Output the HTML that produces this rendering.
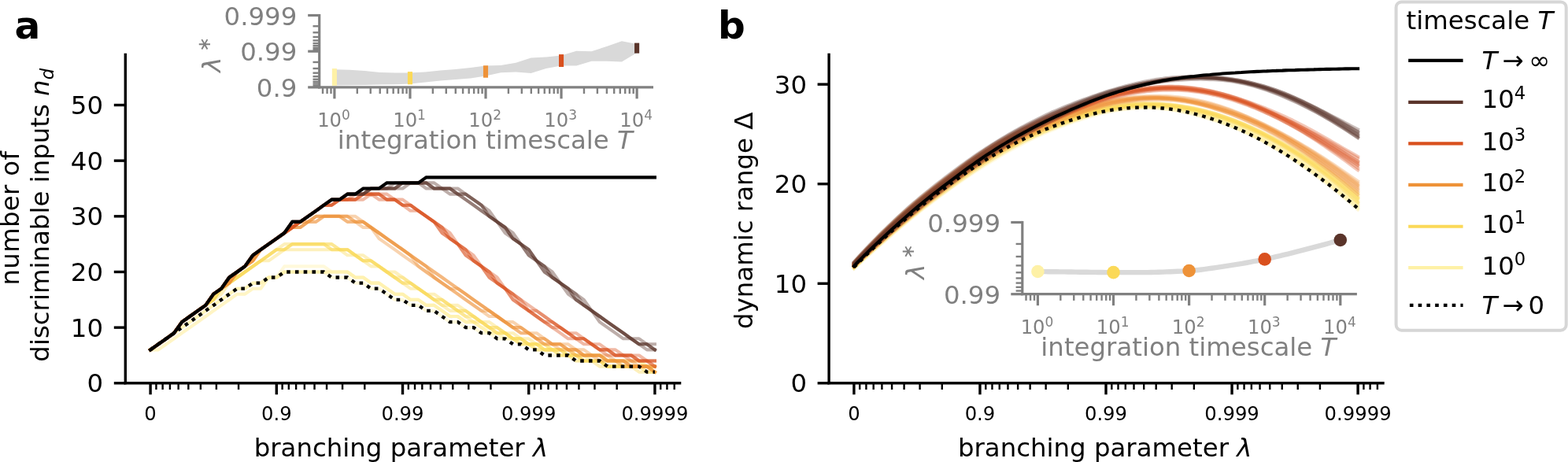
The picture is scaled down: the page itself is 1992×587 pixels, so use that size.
<!DOCTYPE html>
<html lang="en"><head><meta charset="utf-8"><title>figure</title>
<style>html,body{margin:0;padding:0;background:#fff;}body{width:1992px;height:587px;overflow:hidden;}svg{display:block;}</style>
</head><body>
<svg width="1992" height="587" viewBox="0 0 1992 587" font-family='"DejaVu Sans","Liberation Sans",sans-serif'>
<rect width="1992" height="587" fill="#fff"/>
<polyline points="191.1,444.4 201.1,444.4 211.1,437.3 221.1,430.3 231.1,423.2 241.2,416.1 251.2,409.1 261.2,402.0 271.2,394.9 281.2,387.9 291.2,380.8 301.2,373.7 311.2,373.7 321.3,366.7 331.3,366.7 341.3,352.5 351.3,352.5 361.3,345.5 371.3,345.5 381.3,345.5 391.4,345.5 401.4,345.5 411.4,345.5 421.4,352.5 431.4,352.5 441.4,352.5 451.4,359.6 461.4,359.6 471.4,366.7 481.5,366.7 491.5,373.7 501.5,380.8 511.5,380.8 521.5,387.9 531.5,387.9 541.5,394.9 551.5,394.9 561.6,402.0 571.6,409.1 581.6,409.1 591.6,416.1 601.6,416.1 611.6,423.2 621.6,423.2 631.6,430.3 641.7,430.3 651.7,430.3 661.7,437.3 671.7,437.3 681.7,444.4 691.7,444.4 701.7,451.5 711.8,451.5 721.8,451.5 731.8,458.5 741.8,458.5 751.8,458.5 761.8,458.5 771.8,465.6 781.8,465.6 791.9,465.6 801.9,465.6 811.9,465.6 821.9,472.7 831.9,472.7" fill="none" stroke="#FEF1A6" stroke-width="4.06" stroke-linecap="square" stroke-linejoin="round" stroke-opacity="0.4"/>
<polyline points="191.1,444.4 201.1,444.4 211.1,437.3 221.1,430.3 231.1,423.2 241.2,416.1 251.2,409.1 261.2,402.0 271.2,394.9 281.2,387.9 291.2,380.8 301.2,373.7 311.2,373.7 321.3,366.7 331.3,366.7 341.3,352.5 351.3,352.5 361.3,345.5 371.3,345.5 381.3,345.5 391.4,345.5 401.4,345.5 411.4,345.5 421.4,345.5 431.4,345.5 441.4,345.5 451.4,352.5 461.4,352.5 471.4,359.6 481.5,359.6 491.5,366.7 501.5,373.7 511.5,373.7 521.5,380.8 531.5,380.8 541.5,387.9 551.5,387.9 561.6,394.9 571.6,402.0 581.6,402.0 591.6,409.1 601.6,409.1 611.6,416.1 621.6,423.2 631.6,423.2 641.7,430.3 651.7,430.3 661.7,437.3 671.7,437.3 681.7,444.4 691.7,444.4 701.7,444.4 711.8,444.4 721.8,444.4 731.8,451.5 741.8,451.5 751.8,451.5 761.8,451.5 771.8,458.5 781.8,458.5 791.9,458.5 801.9,458.5 811.9,458.5 821.9,465.6 831.9,465.6" fill="none" stroke="#FEF1A6" stroke-width="4.06" stroke-linecap="square" stroke-linejoin="round" stroke-opacity="0.4"/>
<polyline points="191.1,444.4 201.1,437.3 211.1,430.3 221.1,423.2 231.1,416.1 241.2,409.1 251.2,402.0 261.2,394.9 271.2,387.9 281.2,380.8 291.2,373.7 301.2,366.7 311.2,366.7 321.3,359.6 331.3,359.6 341.3,352.5 351.3,352.5 361.3,345.5 371.3,345.5 381.3,345.5 391.4,345.5 401.4,345.5 411.4,345.5 421.4,345.5 431.4,345.5 441.4,345.5 451.4,352.5 461.4,352.5 471.4,359.6 481.5,359.6 491.5,366.7 501.5,373.7 511.5,373.7 521.5,380.8 531.5,380.8 541.5,387.9 551.5,387.9 561.6,394.9 571.6,402.0 581.6,402.0 591.6,409.1 601.6,409.1 611.6,416.1 621.6,423.2 631.6,423.2 641.7,430.3 651.7,430.3 661.7,437.3 671.7,437.3 681.7,437.3 691.7,444.4 701.7,444.4 711.8,444.4 721.8,444.4 731.8,451.5 741.8,451.5 751.8,451.5 761.8,451.5 771.8,458.5 781.8,458.5 791.9,458.5 801.9,458.5 811.9,458.5 821.9,465.6 831.9,465.6" fill="none" stroke="#FEF1A6" stroke-width="4.06" stroke-linecap="square" stroke-linejoin="round" stroke-opacity="0.4"/>
<polyline points="191.1,444.4 201.1,437.3 211.1,430.3 221.1,423.2 231.1,416.1 241.2,409.1 251.2,402.0 261.2,394.9 271.2,387.9 281.2,380.8 291.2,373.7 301.2,366.7 311.2,366.7 321.3,359.6 331.3,359.6 341.3,352.5 351.3,352.5 361.3,345.5 371.3,345.5 381.3,345.5 391.4,345.5 401.4,345.5 411.4,345.5 421.4,345.5 431.4,345.5 441.4,345.5 451.4,352.5 461.4,352.5 471.4,359.6 481.5,359.6 491.5,366.7 501.5,373.7 511.5,373.7 521.5,380.8 531.5,380.8 541.5,387.9 551.5,387.9 561.6,394.9 571.6,402.0 581.6,402.0 591.6,409.1 601.6,409.1 611.6,416.1 621.6,423.2 631.6,423.2 641.7,423.2 651.7,430.3 661.7,430.3 671.7,437.3 681.7,437.3 691.7,444.4 701.7,444.4 711.8,444.4 721.8,444.4 731.8,451.5 741.8,451.5 751.8,451.5 761.8,451.5 771.8,458.5 781.8,458.5 791.9,458.5 801.9,458.5 811.9,458.5 821.9,465.6 831.9,465.6" fill="none" stroke="#FEF1A6" stroke-width="4.06" stroke-linecap="square" stroke-linejoin="round" stroke-opacity="0.4"/>
<polyline points="191.1,444.4 201.1,437.3 211.1,430.3 221.1,423.2 231.1,416.1 241.2,409.1 251.2,402.0 261.2,394.9 271.2,387.9 281.2,380.8 291.2,373.7 301.2,366.7 311.2,366.7 321.3,359.6 331.3,359.6 341.3,352.5 351.3,352.5 361.3,338.4 371.3,338.4 381.3,338.4 391.4,338.4 401.4,338.4 411.4,338.4 421.4,345.5 431.4,345.5 441.4,345.5 451.4,352.5 461.4,352.5 471.4,359.6 481.5,359.6 491.5,366.7 501.5,373.7 511.5,373.7 521.5,380.8 531.5,380.8 541.5,387.9 551.5,387.9 561.6,394.9 571.6,402.0 581.6,402.0 591.6,409.1 601.6,409.1 611.6,416.1 621.6,416.1 631.6,423.2 641.7,423.2 651.7,430.3 661.7,430.3 671.7,437.3 681.7,437.3 691.7,444.4 701.7,444.4 711.8,444.4 721.8,444.4 731.8,451.5 741.8,451.5 751.8,451.5 761.8,451.5 771.8,458.5 781.8,458.5 791.9,458.5 801.9,458.5 811.9,458.5 821.9,465.6 831.9,465.6" fill="none" stroke="#FEF1A6" stroke-width="4.06" stroke-linecap="square" stroke-linejoin="round" stroke-opacity="0.4"/>
<polyline points="191.1,444.4 201.1,437.3 211.1,430.3 221.1,423.2 231.1,409.1 241.2,402.0 251.2,394.9 261.2,387.9 271.2,380.8 281.2,373.7 291.2,359.6 301.2,352.5 311.2,345.5 321.3,338.4 331.3,331.3 341.3,331.3 351.3,324.3 361.3,317.2 371.3,317.2 381.3,317.2 391.4,317.2 401.4,317.2 411.4,317.2 421.4,317.2 431.4,317.2 441.4,324.3 451.4,324.3 461.4,331.3 471.4,338.4 481.5,338.4 491.5,345.5 501.5,352.5 511.5,359.6 521.5,366.7 531.5,366.7 541.5,373.7 551.5,380.8 561.6,387.9 571.6,394.9 581.6,394.9 591.6,402.0 601.6,409.1 611.6,409.1 621.6,416.1 631.6,423.2 641.7,423.2 651.7,430.3 661.7,437.3 671.7,437.3 681.7,444.4 691.7,444.4 701.7,444.4 711.8,451.5 721.8,451.5 731.8,458.5 741.8,458.5 751.8,458.5 761.8,465.6 771.8,465.6 781.8,465.6 791.9,465.6 801.9,465.6 811.9,472.7 821.9,472.7 831.9,472.7" fill="none" stroke="#FBD958" stroke-width="4.06" stroke-linecap="square" stroke-linejoin="round" stroke-opacity="0.4"/>
<polyline points="191.1,444.4 201.1,437.3 211.1,430.3 221.1,423.2 231.1,409.1 241.2,402.0 251.2,394.9 261.2,387.9 271.2,380.8 281.2,366.7 291.2,359.6 301.2,352.5 311.2,345.5 321.3,338.4 331.3,331.3 341.3,324.3 351.3,317.2 361.3,317.2 371.3,310.1 381.3,310.1 391.4,310.1 401.4,310.1 411.4,310.1 421.4,317.2 431.4,317.2 441.4,317.2 451.4,324.3 461.4,331.3 471.4,331.3 481.5,338.4 491.5,345.5 501.5,352.5 511.5,359.6 521.5,359.6 531.5,366.7 541.5,373.7 551.5,380.8 561.6,387.9 571.6,387.9 581.6,394.9 591.6,402.0 601.6,402.0 611.6,409.1 621.6,416.1 631.6,423.2 641.7,423.2 651.7,430.3 661.7,430.3 671.7,437.3 681.7,437.3 691.7,444.4 701.7,444.4 711.8,451.5 721.8,451.5 731.8,451.5 741.8,458.5 751.8,458.5 761.8,458.5 771.8,465.6 781.8,465.6 791.9,465.6 801.9,465.6 811.9,465.6 821.9,472.7 831.9,472.7" fill="none" stroke="#FBD958" stroke-width="4.06" stroke-linecap="square" stroke-linejoin="round" stroke-opacity="0.4"/>
<polyline points="191.1,444.4 201.1,437.3 211.1,430.3 221.1,423.2 231.1,409.1 241.2,402.0 251.2,394.9 261.2,387.9 271.2,380.8 281.2,366.7 291.2,359.6 301.2,352.5 311.2,345.5 321.3,338.4 331.3,331.3 341.3,324.3 351.3,317.2 361.3,317.2 371.3,310.1 381.3,310.1 391.4,310.1 401.4,310.1 411.4,310.1 421.4,317.2 431.4,317.2 441.4,317.2 451.4,324.3 461.4,331.3 471.4,331.3 481.5,338.4 491.5,345.5 501.5,352.5 511.5,359.6 521.5,359.6 531.5,366.7 541.5,373.7 551.5,380.8 561.6,380.8 571.6,387.9 581.6,394.9 591.6,394.9 601.6,402.0 611.6,409.1 621.6,416.1 631.6,416.1 641.7,423.2 651.7,430.3 661.7,430.3 671.7,437.3 681.7,437.3 691.7,444.4 701.7,444.4 711.8,444.4 721.8,451.5 731.8,451.5 741.8,458.5 751.8,458.5 761.8,458.5 771.8,465.6 781.8,465.6 791.9,465.6 801.9,465.6 811.9,465.6 821.9,465.6 831.9,472.7" fill="none" stroke="#FBD958" stroke-width="4.06" stroke-linecap="square" stroke-linejoin="round" stroke-opacity="0.4"/>
<polyline points="191.1,444.4 201.1,437.3 211.1,430.3 221.1,423.2 231.1,409.1 241.2,402.0 251.2,394.9 261.2,387.9 271.2,380.8 281.2,366.7 291.2,359.6 301.2,352.5 311.2,345.5 321.3,338.4 331.3,331.3 341.3,324.3 351.3,317.2 361.3,317.2 371.3,310.1 381.3,310.1 391.4,310.1 401.4,310.1 411.4,310.1 421.4,310.1 431.4,317.2 441.4,317.2 451.4,324.3 461.4,331.3 471.4,331.3 481.5,338.4 491.5,345.5 501.5,352.5 511.5,352.5 521.5,359.6 531.5,366.7 541.5,373.7 551.5,380.8 561.6,380.8 571.6,387.9 581.6,394.9 591.6,394.9 601.6,402.0 611.6,409.1 621.6,416.1 631.6,416.1 641.7,423.2 651.7,430.3 661.7,430.3 671.7,437.3 681.7,437.3 691.7,437.3 701.7,444.4 711.8,444.4 721.8,451.5 731.8,451.5 741.8,458.5 751.8,458.5 761.8,458.5 771.8,465.6 781.8,465.6 791.9,465.6 801.9,465.6 811.9,465.6 821.9,465.6 831.9,472.7" fill="none" stroke="#FBD958" stroke-width="4.06" stroke-linecap="square" stroke-linejoin="round" stroke-opacity="0.4"/>
<polyline points="191.1,444.4 201.1,437.3 211.1,430.3 221.1,423.2 231.1,409.1 241.2,402.0 251.2,394.9 261.2,387.9 271.2,380.8 281.2,366.7 291.2,359.6 301.2,352.5 311.2,345.5 321.3,338.4 331.3,331.3 341.3,324.3 351.3,317.2 361.3,310.1 371.3,310.1 381.3,310.1 391.4,310.1 401.4,310.1 411.4,310.1 421.4,310.1 431.4,317.2 441.4,317.2 451.4,324.3 461.4,324.3 471.4,331.3 481.5,338.4 491.5,345.5 501.5,345.5 511.5,352.5 521.5,359.6 531.5,366.7 541.5,373.7 551.5,373.7 561.6,380.8 571.6,387.9 581.6,387.9 591.6,394.9 601.6,402.0 611.6,409.1 621.6,409.1 631.6,416.1 641.7,423.2 651.7,423.2 661.7,430.3 671.7,430.3 681.7,437.3 691.7,437.3 701.7,444.4 711.8,444.4 721.8,451.5 731.8,451.5 741.8,451.5 751.8,458.5 761.8,458.5 771.8,458.5 781.8,458.5 791.9,465.6 801.9,465.6 811.9,465.6 821.9,465.6 831.9,465.6" fill="none" stroke="#FBD958" stroke-width="4.06" stroke-linecap="square" stroke-linejoin="round" stroke-opacity="0.4"/>
<polyline points="191.1,444.4 201.1,437.3 211.1,430.3 221.1,423.2 231.1,409.1 241.2,402.0 251.2,394.9 261.2,387.9 271.2,373.7 281.2,366.7 291.2,359.6 301.2,345.5 311.2,338.4 321.3,331.3 331.3,317.2 341.3,310.1 351.3,303.1 361.3,296.0 371.3,289.0 381.3,289.0 391.4,281.9 401.4,281.9 411.4,274.8 421.4,274.8 431.4,274.8 441.4,281.9 451.4,281.9 461.4,289.0 471.4,289.0 481.5,303.1 491.5,310.1 501.5,317.2 511.5,324.3 521.5,331.3 531.5,338.4 541.5,345.5 551.5,352.5 561.6,359.6 571.6,366.7 581.6,373.7 591.6,380.8 601.6,387.9 611.6,394.9 621.6,402.0 631.6,402.0 641.7,409.1 651.7,416.1 661.7,423.2 671.7,423.2 681.7,430.3 691.7,437.3 701.7,437.3 711.8,444.4 721.8,444.4 731.8,451.5 741.8,451.5 751.8,451.5 761.8,458.5 771.8,458.5 781.8,458.5 791.9,465.6 801.9,465.6 811.9,465.6 821.9,465.6 831.9,472.7" fill="none" stroke="#EE9238" stroke-width="4.06" stroke-linecap="square" stroke-linejoin="round" stroke-opacity="0.4"/>
<polyline points="191.1,444.4 201.1,437.3 211.1,430.3 221.1,423.2 231.1,409.1 241.2,402.0 251.2,394.9 261.2,387.9 271.2,373.7 281.2,366.7 291.2,359.6 301.2,345.5 311.2,338.4 321.3,331.3 331.3,317.2 341.3,310.1 351.3,303.1 361.3,296.0 371.3,289.0 381.3,289.0 391.4,281.9 401.4,281.9 411.4,274.8 421.4,274.8 431.4,274.8 441.4,281.9 451.4,281.9 461.4,281.9 471.4,289.0 481.5,296.0 491.5,303.1 501.5,310.1 511.5,317.2 521.5,324.3 531.5,338.4 541.5,345.5 551.5,352.5 561.6,359.6 571.6,366.7 581.6,373.7 591.6,380.8 601.6,387.9 611.6,394.9 621.6,394.9 631.6,402.0 641.7,409.1 651.7,416.1 661.7,423.2 671.7,423.2 681.7,430.3 691.7,437.3 701.7,437.3 711.8,437.3 721.8,444.4 731.8,444.4 741.8,451.5 751.8,451.5 761.8,451.5 771.8,458.5 781.8,458.5 791.9,458.5 801.9,465.6 811.9,465.6 821.9,465.6 831.9,472.7" fill="none" stroke="#EE9238" stroke-width="4.06" stroke-linecap="square" stroke-linejoin="round" stroke-opacity="0.4"/>
<polyline points="191.1,444.4 201.1,437.3 211.1,430.3 221.1,423.2 231.1,409.1 241.2,402.0 251.2,394.9 261.2,387.9 271.2,373.7 281.2,366.7 291.2,359.6 301.2,345.5 311.2,338.4 321.3,331.3 331.3,317.2 341.3,310.1 351.3,303.1 361.3,296.0 371.3,289.0 381.3,289.0 391.4,281.9 401.4,274.8 411.4,274.8 421.4,274.8 431.4,274.8 441.4,274.8 451.4,281.9 461.4,281.9 471.4,289.0 481.5,296.0 491.5,303.1 501.5,310.1 511.5,317.2 521.5,324.3 531.5,331.3 541.5,338.4 551.5,352.5 561.6,359.6 571.6,366.7 581.6,366.7 591.6,373.7 601.6,380.8 611.6,387.9 621.6,394.9 631.6,402.0 641.7,409.1 651.7,416.1 661.7,416.1 671.7,423.2 681.7,430.3 691.7,430.3 701.7,437.3 711.8,437.3 721.8,444.4 731.8,444.4 741.8,451.5 751.8,451.5 761.8,451.5 771.8,458.5 781.8,458.5 791.9,458.5 801.9,465.6 811.9,465.6 821.9,465.6 831.9,472.7" fill="none" stroke="#EE9238" stroke-width="4.06" stroke-linecap="square" stroke-linejoin="round" stroke-opacity="0.4"/>
<polyline points="191.1,444.4 201.1,437.3 211.1,430.3 221.1,423.2 231.1,409.1 241.2,402.0 251.2,394.9 261.2,387.9 271.2,373.7 281.2,366.7 291.2,359.6 301.2,345.5 311.2,338.4 321.3,331.3 331.3,317.2 341.3,310.1 351.3,303.1 361.3,296.0 371.3,289.0 381.3,281.9 391.4,281.9 401.4,274.8 411.4,274.8 421.4,274.8 431.4,274.8 441.4,274.8 451.4,281.9 461.4,281.9 471.4,289.0 481.5,296.0 491.5,303.1 501.5,310.1 511.5,317.2 521.5,324.3 531.5,331.3 541.5,338.4 551.5,345.5 561.6,352.5 571.6,359.6 581.6,366.7 591.6,373.7 601.6,380.8 611.6,387.9 621.6,394.9 631.6,402.0 641.7,409.1 651.7,416.1 661.7,416.1 671.7,423.2 681.7,430.3 691.7,430.3 701.7,437.3 711.8,437.3 721.8,444.4 731.8,444.4 741.8,451.5 751.8,451.5 761.8,451.5 771.8,458.5 781.8,458.5 791.9,458.5 801.9,465.6 811.9,465.6 821.9,465.6 831.9,465.6" fill="none" stroke="#EE9238" stroke-width="4.06" stroke-linecap="square" stroke-linejoin="round" stroke-opacity="0.4"/>
<polyline points="191.1,444.4 201.1,437.3 211.1,430.3 221.1,423.2 231.1,409.1 241.2,402.0 251.2,394.9 261.2,387.9 271.2,373.7 281.2,366.7 291.2,359.6 301.2,345.5 311.2,338.4 321.3,331.3 331.3,317.2 341.3,310.1 351.3,303.1 361.3,296.0 371.3,289.0 381.3,281.9 391.4,281.9 401.4,274.8 411.4,274.8 421.4,274.8 431.4,274.8 441.4,274.8 451.4,274.8 461.4,281.9 471.4,289.0 481.5,296.0 491.5,303.1 501.5,310.1 511.5,317.2 521.5,324.3 531.5,331.3 541.5,338.4 551.5,345.5 561.6,352.5 571.6,359.6 581.6,366.7 591.6,373.7 601.6,380.8 611.6,387.9 621.6,394.9 631.6,402.0 641.7,409.1 651.7,409.1 661.7,416.1 671.7,423.2 681.7,423.2 691.7,430.3 701.7,437.3 711.8,437.3 721.8,437.3 731.8,444.4 741.8,444.4 751.8,451.5 761.8,451.5 771.8,451.5 781.8,458.5 791.9,458.5 801.9,458.5 811.9,465.6 821.9,465.6 831.9,465.6" fill="none" stroke="#EE9238" stroke-width="4.06" stroke-linecap="square" stroke-linejoin="round" stroke-opacity="0.4"/>
<polyline points="191.1,444.4 201.1,437.3 211.1,430.3 221.1,423.2 231.1,409.1 241.2,402.0 251.2,394.9 261.2,387.9 271.2,373.7 281.2,366.7 291.2,352.5 301.2,345.5 311.2,338.4 321.3,324.3 331.3,317.2 341.3,310.1 351.3,303.1 361.3,296.0 371.3,289.0 381.3,281.9 391.4,274.8 401.4,267.8 411.4,260.7 421.4,260.7 431.4,253.6 441.4,253.6 451.4,253.6 461.4,253.6 471.4,246.6 481.5,253.6 491.5,253.6 501.5,253.6 511.5,260.7 521.5,267.8 531.5,267.8 541.5,274.8 551.5,281.9 561.6,296.0 571.6,303.1 581.6,310.1 591.6,324.3 601.6,331.3 611.6,338.4 621.6,352.5 631.6,359.6 641.7,366.7 651.7,380.8 661.7,387.9 671.7,394.9 681.7,402.0 691.7,409.1 701.7,416.1 711.8,423.2 721.8,430.3 731.8,430.3 741.8,437.3 751.8,437.3 761.8,444.4 771.8,451.5 781.8,451.5 791.9,451.5 801.9,458.5 811.9,458.5 821.9,458.5 831.9,465.6" fill="none" stroke="#D9501E" stroke-width="4.06" stroke-linecap="square" stroke-linejoin="round" stroke-opacity="0.4"/>
<polyline points="191.1,444.4 201.1,437.3 211.1,430.3 221.1,423.2 231.1,409.1 241.2,402.0 251.2,394.9 261.2,387.9 271.2,373.7 281.2,366.7 291.2,352.5 301.2,345.5 311.2,338.4 321.3,324.3 331.3,317.2 341.3,310.1 351.3,303.1 361.3,296.0 371.3,289.0 381.3,281.9 391.4,274.8 401.4,267.8 411.4,260.7 421.4,260.7 431.4,253.6 441.4,253.6 451.4,253.6 461.4,246.6 471.4,246.6 481.5,246.6 491.5,253.6 501.5,253.6 511.5,260.7 521.5,260.7 531.5,267.8 541.5,274.8 551.5,281.9 561.6,296.0 571.6,303.1 581.6,310.1 591.6,324.3 601.6,331.3 611.6,338.4 621.6,352.5 631.6,359.6 641.7,366.7 651.7,380.8 661.7,387.9 671.7,394.9 681.7,402.0 691.7,409.1 701.7,416.1 711.8,416.1 721.8,423.2 731.8,430.3 741.8,430.3 751.8,437.3 761.8,444.4 771.8,444.4 781.8,451.5 791.9,451.5 801.9,451.5 811.9,458.5 821.9,458.5 831.9,465.6" fill="none" stroke="#D9501E" stroke-width="4.06" stroke-linecap="square" stroke-linejoin="round" stroke-opacity="0.4"/>
<polyline points="191.1,444.4 201.1,437.3 211.1,430.3 221.1,423.2 231.1,409.1 241.2,402.0 251.2,394.9 261.2,387.9 271.2,373.7 281.2,366.7 291.2,352.5 301.2,345.5 311.2,338.4 321.3,324.3 331.3,317.2 341.3,310.1 351.3,303.1 361.3,296.0 371.3,289.0 381.3,281.9 391.4,274.8 401.4,267.8 411.4,260.7 421.4,260.7 431.4,253.6 441.4,253.6 451.4,253.6 461.4,246.6 471.4,246.6 481.5,246.6 491.5,253.6 501.5,253.6 511.5,260.7 521.5,260.7 531.5,267.8 541.5,274.8 551.5,281.9 561.6,289.0 571.6,303.1 581.6,310.1 591.6,317.2 601.6,331.3 611.6,338.4 621.6,345.5 631.6,359.6 641.7,366.7 651.7,373.7 661.7,387.9 671.7,394.9 681.7,402.0 691.7,409.1 701.7,409.1 711.8,416.1 721.8,423.2 731.8,430.3 741.8,430.3 751.8,437.3 761.8,444.4 771.8,444.4 781.8,451.5 791.9,451.5 801.9,451.5 811.9,458.5 821.9,458.5 831.9,458.5" fill="none" stroke="#D9501E" stroke-width="4.06" stroke-linecap="square" stroke-linejoin="round" stroke-opacity="0.4"/>
<polyline points="191.1,444.4 201.1,437.3 211.1,430.3 221.1,423.2 231.1,409.1 241.2,402.0 251.2,394.9 261.2,387.9 271.2,373.7 281.2,366.7 291.2,352.5 301.2,345.5 311.2,338.4 321.3,324.3 331.3,317.2 341.3,310.1 351.3,303.1 361.3,296.0 371.3,289.0 381.3,281.9 391.4,274.8 401.4,267.8 411.4,260.7 421.4,260.7 431.4,253.6 441.4,253.6 451.4,253.6 461.4,246.6 471.4,246.6 481.5,246.6 491.5,253.6 501.5,253.6 511.5,260.7 521.5,260.7 531.5,267.8 541.5,274.8 551.5,281.9 561.6,289.0 571.6,303.1 581.6,310.1 591.6,317.2 601.6,331.3 611.6,338.4 621.6,345.5 631.6,359.6 641.7,366.7 651.7,373.7 661.7,380.8 671.7,394.9 681.7,394.9 691.7,402.0 701.7,409.1 711.8,416.1 721.8,423.2 731.8,430.3 741.8,430.3 751.8,437.3 761.8,444.4 771.8,444.4 781.8,451.5 791.9,451.5 801.9,451.5 811.9,458.5 821.9,458.5 831.9,458.5" fill="none" stroke="#D9501E" stroke-width="4.06" stroke-linecap="square" stroke-linejoin="round" stroke-opacity="0.4"/>
<polyline points="191.1,444.4 201.1,437.3 211.1,430.3 221.1,423.2 231.1,409.1 241.2,402.0 251.2,394.9 261.2,387.9 271.2,373.7 281.2,366.7 291.2,352.5 301.2,345.5 311.2,338.4 321.3,324.3 331.3,317.2 341.3,310.1 351.3,303.1 361.3,296.0 371.3,289.0 381.3,281.9 391.4,274.8 401.4,267.8 411.4,260.7 421.4,253.6 431.4,253.6 441.4,253.6 451.4,246.6 461.4,246.6 471.4,246.6 481.5,246.6 491.5,246.6 501.5,253.6 511.5,253.6 521.5,260.7 531.5,267.8 541.5,274.8 551.5,281.9 561.6,289.0 571.6,296.0 581.6,310.1 591.6,317.2 601.6,324.3 611.6,338.4 621.6,345.5 631.6,352.5 641.7,366.7 651.7,373.7 661.7,380.8 671.7,387.9 681.7,394.9 691.7,402.0 701.7,409.1 711.8,416.1 721.8,423.2 731.8,423.2 741.8,430.3 751.8,437.3 761.8,437.3 771.8,444.4 781.8,444.4 791.9,451.5 801.9,451.5 811.9,451.5 821.9,458.5 831.9,458.5" fill="none" stroke="#D9501E" stroke-width="4.06" stroke-linecap="square" stroke-linejoin="round" stroke-opacity="0.4"/>
<polyline points="191.1,444.4 201.1,437.3 211.1,430.3 221.1,423.2 231.1,409.1 241.2,402.0 251.2,394.9 261.2,387.9 271.2,373.7 281.2,366.7 291.2,352.5 301.2,345.5 311.2,338.4 321.3,324.3 331.3,317.2 341.3,310.1 351.3,303.1 361.3,296.0 371.3,281.9 381.3,281.9 391.4,274.8 401.4,267.8 411.4,260.7 421.4,253.6 431.4,253.6 441.4,246.6 451.4,246.6 461.4,246.6 471.4,239.5 481.5,239.5 491.5,239.5 501.5,239.5 511.5,239.5 521.5,232.4 531.5,232.4 541.5,239.5 551.5,239.5 561.6,239.5 571.6,246.6 581.6,246.6 591.6,253.6 601.6,260.7 611.6,267.8 621.6,274.8 631.6,281.9 641.7,296.0 651.7,303.1 661.7,310.1 671.7,324.3 681.7,331.3 691.7,345.5 701.7,352.5 711.8,359.6 721.8,373.7 731.8,380.8 741.8,387.9 751.8,394.9 761.8,409.1 771.8,416.1 781.8,423.2 791.9,430.3 801.9,430.3 811.9,437.3 821.9,444.4 831.9,444.4" fill="none" stroke="#5A342A" stroke-width="4.06" stroke-linecap="square" stroke-linejoin="round" stroke-opacity="0.4"/>
<polyline points="191.1,444.4 201.1,437.3 211.1,430.3 221.1,423.2 231.1,409.1 241.2,402.0 251.2,394.9 261.2,387.9 271.2,373.7 281.2,366.7 291.2,352.5 301.2,345.5 311.2,338.4 321.3,324.3 331.3,317.2 341.3,310.1 351.3,303.1 361.3,296.0 371.3,281.9 381.3,281.9 391.4,274.8 401.4,267.8 411.4,260.7 421.4,253.6 431.4,253.6 441.4,246.6 451.4,246.6 461.4,246.6 471.4,239.5 481.5,239.5 491.5,239.5 501.5,239.5 511.5,232.4 521.5,232.4 531.5,232.4 541.5,232.4 551.5,239.5 561.6,239.5 571.6,239.5 581.6,246.6 591.6,253.6 601.6,260.7 611.6,267.8 621.6,274.8 631.6,281.9 641.7,289.0 651.7,303.1 661.7,310.1 671.7,324.3 681.7,331.3 691.7,345.5 701.7,352.5 711.8,359.6 721.8,366.7 731.8,380.8 741.8,387.9 751.8,394.9 761.8,402.0 771.8,409.1 781.8,416.1 791.9,423.2 801.9,430.3 811.9,437.3 821.9,437.3 831.9,444.4" fill="none" stroke="#5A342A" stroke-width="4.06" stroke-linecap="square" stroke-linejoin="round" stroke-opacity="0.4"/>
<polyline points="191.1,444.4 201.1,437.3 211.1,430.3 221.1,423.2 231.1,409.1 241.2,402.0 251.2,394.9 261.2,387.9 271.2,373.7 281.2,366.7 291.2,352.5 301.2,345.5 311.2,338.4 321.3,324.3 331.3,317.2 341.3,310.1 351.3,303.1 361.3,296.0 371.3,281.9 381.3,281.9 391.4,274.8 401.4,267.8 411.4,260.7 421.4,253.6 431.4,253.6 441.4,246.6 451.4,246.6 461.4,246.6 471.4,239.5 481.5,239.5 491.5,239.5 501.5,239.5 511.5,232.4 521.5,232.4 531.5,232.4 541.5,232.4 551.5,239.5 561.6,239.5 571.6,239.5 581.6,246.6 591.6,246.6 601.6,253.6 611.6,260.7 621.6,274.8 631.6,281.9 641.7,289.0 651.7,303.1 661.7,310.1 671.7,317.2 681.7,331.3 691.7,338.4 701.7,352.5 711.8,359.6 721.8,366.7 731.8,380.8 741.8,387.9 751.8,394.9 761.8,402.0 771.8,409.1 781.8,416.1 791.9,423.2 801.9,430.3 811.9,437.3 821.9,437.3 831.9,444.4" fill="none" stroke="#5A342A" stroke-width="4.06" stroke-linecap="square" stroke-linejoin="round" stroke-opacity="0.4"/>
<polyline points="191.1,444.4 201.1,437.3 211.1,430.3 221.1,423.2 231.1,409.1 241.2,402.0 251.2,394.9 261.2,387.9 271.2,373.7 281.2,366.7 291.2,352.5 301.2,345.5 311.2,338.4 321.3,324.3 331.3,317.2 341.3,310.1 351.3,303.1 361.3,296.0 371.3,281.9 381.3,281.9 391.4,274.8 401.4,267.8 411.4,260.7 421.4,253.6 431.4,253.6 441.4,246.6 451.4,246.6 461.4,246.6 471.4,239.5 481.5,239.5 491.5,239.5 501.5,239.5 511.5,232.4 521.5,232.4 531.5,232.4 541.5,232.4 551.5,239.5 561.6,239.5 571.6,239.5 581.6,246.6 591.6,246.6 601.6,253.6 611.6,260.7 621.6,274.8 631.6,281.9 641.7,289.0 651.7,303.1 661.7,310.1 671.7,317.2 681.7,331.3 691.7,338.4 701.7,352.5 711.8,359.6 721.8,366.7 731.8,373.7 741.8,387.9 751.8,394.9 761.8,402.0 771.8,409.1 781.8,416.1 791.9,423.2 801.9,430.3 811.9,437.3 821.9,437.3 831.9,444.4" fill="none" stroke="#5A342A" stroke-width="4.06" stroke-linecap="square" stroke-linejoin="round" stroke-opacity="0.4"/>
<polyline points="191.1,444.4 201.1,437.3 211.1,430.3 221.1,423.2 231.1,409.1 241.2,402.0 251.2,394.9 261.2,387.9 271.2,373.7 281.2,366.7 291.2,352.5 301.2,345.5 311.2,338.4 321.3,324.3 331.3,317.2 341.3,310.1 351.3,303.1 361.3,296.0 371.3,281.9 381.3,281.9 391.4,274.8 401.4,267.8 411.4,260.7 421.4,253.6 431.4,253.6 441.4,246.6 451.4,246.6 461.4,239.5 471.4,239.5 481.5,239.5 491.5,239.5 501.5,232.4 511.5,232.4 521.5,232.4 531.5,232.4 541.5,232.4 551.5,232.4 561.6,239.5 571.6,239.5 581.6,239.5 591.6,246.6 601.6,253.6 611.6,260.7 621.6,267.8 631.6,281.9 641.7,289.0 651.7,296.0 661.7,310.1 671.7,317.2 681.7,331.3 691.7,338.4 701.7,345.5 711.8,359.6 721.8,366.7 731.8,373.7 741.8,380.8 751.8,394.9 761.8,402.0 771.8,409.1 781.8,416.1 791.9,423.2 801.9,430.3 811.9,430.3 821.9,437.3 831.9,437.3" fill="none" stroke="#5A342A" stroke-width="4.06" stroke-linecap="square" stroke-linejoin="round" stroke-opacity="0.4"/>
<polyline points="191.1,444.4 201.1,437.3 211.1,430.3 221.1,423.2 231.1,409.1 241.2,402.0 251.2,394.9 261.2,387.9 271.2,373.7 281.2,366.7 291.2,352.5 301.2,345.5 311.2,338.4 321.3,324.3 331.3,317.2 341.3,310.1 351.3,303.1 361.3,296.0 371.3,281.9 381.3,281.9 391.4,274.8 401.4,267.8 411.4,260.7 421.4,253.6 431.4,253.6 441.4,246.6 451.4,246.6 461.4,239.5 471.4,239.5 481.5,239.5 491.5,232.4 501.5,232.4 511.5,232.4 521.5,232.4 531.5,232.4 541.5,225.4 551.5,225.4 561.6,225.4 571.6,225.4 581.6,225.4 591.6,225.4 601.6,225.4 611.6,225.4 621.6,225.4 631.6,225.4 641.7,225.4 651.7,225.4 661.7,225.4 671.7,225.4 681.7,225.4 691.7,225.4 701.7,225.4 711.8,225.4 721.8,225.4 731.8,225.4 741.8,225.4 751.8,225.4 761.8,225.4 771.8,225.4 781.8,225.4 791.9,225.4 801.9,225.4 811.9,225.4 821.9,225.4 831.9,225.4" fill="none" stroke="#000" stroke-width="4.06" stroke-linecap="square" stroke-linejoin="miter"/>
<polyline points="191.1,444.4 201.1,437.3 211.1,430.3 221.1,423.2 231.1,416.1 241.2,409.1 251.2,402.0 261.2,394.9 271.2,387.9 281.2,380.8 291.2,373.7 301.2,366.7 311.2,366.7 321.3,359.6 331.3,359.6 341.3,352.5 351.3,352.5 361.3,345.5 371.3,345.5 381.3,345.5 391.4,345.5 401.4,345.5 411.4,345.5 421.4,352.5 431.4,352.5 441.4,352.5 451.4,359.6 461.4,359.6 471.4,366.7 481.5,366.7 491.5,373.7 501.5,380.8 511.5,380.8 521.5,387.9 531.5,387.9 541.5,394.9 551.5,394.9 561.6,402.0 571.6,409.1 581.6,409.1 591.6,416.1 601.6,416.1 611.6,423.2 621.6,423.2 631.6,430.3 641.7,430.3 651.7,437.3 661.7,437.3 671.7,444.4 681.7,444.4 691.7,451.5 701.7,451.5 711.8,451.5 721.8,451.5 731.8,458.5 741.8,458.5 751.8,458.5 761.8,458.5 771.8,465.6 781.8,465.6 791.9,465.6 801.9,465.6 811.9,465.6 821.9,472.7 831.9,472.7" fill="none" stroke="#000" stroke-width="4.3" stroke-linecap="butt" stroke-linejoin="miter" stroke-dasharray="4.6 6.16"/>
<polyline points="1084.9,341.9 1088.9,338.1 1092.9,334.3 1096.9,330.6 1100.9,326.9 1104.9,323.3 1108.9,319.7 1112.9,316.1 1116.9,312.6 1120.9,309.1 1124.9,305.6 1128.9,302.1 1132.9,298.7 1136.9,295.3 1140.9,291.9 1144.9,288.5 1148.9,285.1 1152.9,281.8 1156.9,278.5 1160.9,275.2 1164.9,271.9 1168.9,268.7 1172.9,265.5 1176.9,262.4 1180.9,259.3 1184.9,256.3 1188.9,253.3 1192.9,250.3 1196.9,247.4 1200.9,244.5 1204.9,241.6 1208.9,238.7 1212.9,235.9 1216.9,233.1 1220.9,230.3 1224.9,227.5 1228.9,224.8 1232.9,222.1 1236.9,219.4 1240.9,216.8 1245.0,214.2 1249.0,211.7 1253.0,209.2 1257.0,206.7 1261.0,204.3 1265.0,201.9 1269.0,199.5 1273.0,197.1 1277.0,194.8 1281.0,192.5 1285.0,190.3 1289.0,188.1 1293.0,186.0 1297.0,183.9 1301.0,181.8 1305.0,179.8 1309.0,177.8 1313.0,175.9 1317.0,174.0 1321.0,172.2 1325.0,170.4 1329.0,168.7 1333.0,167.0 1337.0,165.3 1341.0,163.7 1345.0,162.1 1349.0,160.5 1353.0,159.0 1357.0,157.6 1361.0,156.1 1365.0,154.7 1369.0,153.3 1373.0,152.0 1377.0,150.7 1381.0,149.4 1385.0,148.2 1389.0,147.0 1393.0,145.9 1397.0,144.9 1401.0,143.9 1405.0,143.0 1409.0,142.2 1413.0,141.4 1417.0,140.7 1421.0,140.0 1425.0,139.4 1429.0,138.9 1433.0,138.4 1437.0,138.0 1441.0,137.7 1445.0,137.4 1449.0,137.2 1453.0,137.1 1457.0,137.1 1461.0,137.2 1465.0,137.3 1469.0,137.5 1473.0,137.8 1477.0,138.2 1481.0,138.6 1485.0,139.1 1489.0,139.7 1493.0,140.4 1497.0,141.1 1501.0,141.9 1505.0,142.8 1509.0,143.7 1513.0,144.6 1517.0,145.6 1521.0,146.7 1525.0,147.8 1529.0,149.0 1533.0,150.2 1537.0,151.4 1541.0,152.7 1545.0,154.0 1549.0,155.4 1553.0,156.8 1557.0,158.3 1561.0,159.8 1565.1,161.3 1569.1,162.9 1573.1,164.6 1577.1,166.3 1581.1,168.1 1585.1,170.0 1589.1,171.9 1593.1,173.9 1597.1,175.9 1601.1,178.0 1605.1,180.2 1609.1,182.4 1613.1,184.7 1617.1,187.0 1621.1,189.4 1625.1,191.8 1629.1,194.3 1633.1,196.8 1637.1,199.4 1641.1,202.0 1645.1,204.7 1649.1,207.4 1653.1,210.1 1657.1,212.9 1661.1,215.7 1665.1,218.6 1669.1,221.5 1673.1,224.4 1677.1,227.4 1681.1,230.4 1685.1,233.5 1689.1,236.6 1693.1,239.7 1697.1,242.8 1701.1,246.1 1705.1,249.4 1709.1,252.7 1713.1,256.1 1717.1,259.5 1721.1,263.0 1725.1,266.6" fill="none" stroke="#FEF1A6" stroke-width="4.06" stroke-linecap="square" stroke-linejoin="round" stroke-opacity="0.32"/>
<polyline points="1084.9,341.1 1088.9,337.2 1092.9,333.3 1096.9,329.5 1100.9,325.8 1104.9,322.1 1108.9,318.4 1112.9,314.8 1116.9,311.2 1120.9,307.6 1124.9,304.1 1128.9,300.5 1132.9,297.0 1136.9,293.6 1140.9,290.1 1144.9,286.7 1148.9,283.3 1152.9,279.9 1156.9,276.6 1160.9,273.3 1164.9,270.1 1168.9,266.8 1172.9,263.7 1176.9,260.5 1180.9,257.5 1184.9,254.4 1188.9,251.4 1192.9,248.4 1196.9,245.5 1200.9,242.6 1204.9,239.7 1208.9,236.8 1212.9,234.0 1216.9,231.1 1220.9,228.3 1224.9,225.5 1228.9,222.8 1232.9,220.1 1236.9,217.4 1240.9,214.8 1245.0,212.1 1249.0,209.6 1253.0,207.0 1257.0,204.5 1261.0,202.1 1265.0,199.7 1269.0,197.3 1273.0,194.9 1277.0,192.6 1281.0,190.4 1285.0,188.1 1289.0,186.0 1293.0,183.8 1297.0,181.7 1301.0,179.7 1305.0,177.7 1309.0,175.8 1313.0,173.9 1317.0,172.1 1321.0,170.3 1325.0,168.5 1329.0,166.8 1333.0,165.2 1337.0,163.6 1341.0,162.0 1345.0,160.5 1349.0,159.0 1353.0,157.5 1357.0,156.1 1361.0,154.7 1365.0,153.4 1369.0,152.1 1373.0,150.8 1377.0,149.5 1381.0,148.3 1385.0,147.1 1389.0,146.0 1393.0,145.0 1397.0,144.0 1401.0,143.0 1405.0,142.2 1409.0,141.3 1413.0,140.6 1417.0,139.9 1421.0,139.3 1425.0,138.7 1429.0,138.2 1433.0,137.8 1437.0,137.5 1441.0,137.2 1445.0,137.0 1449.0,136.9 1453.0,136.8 1457.0,136.8 1461.0,136.9 1465.0,137.1 1469.0,137.3 1473.0,137.6 1477.0,138.0 1481.0,138.4 1485.0,139.0 1489.0,139.6 1493.0,140.2 1497.0,140.9 1501.0,141.7 1505.0,142.5 1509.0,143.4 1513.0,144.3 1517.0,145.3 1521.0,146.4 1525.0,147.4 1529.0,148.5 1533.0,149.7 1537.0,150.9 1541.0,152.1 1545.0,153.4 1549.0,154.8 1553.0,156.1 1557.0,157.6 1561.0,159.0 1565.1,160.6 1569.1,162.2 1573.1,163.8 1577.1,165.5 1581.1,167.3 1585.1,169.1 1589.1,171.0 1593.1,173.0 1597.1,175.0 1601.1,177.1 1605.1,179.2 1609.1,181.4 1613.1,183.7 1617.1,186.0 1621.1,188.4 1625.1,190.8 1629.1,193.2 1633.1,195.8 1637.1,198.3 1641.1,200.9 1645.1,203.5 1649.1,206.2 1653.1,208.9 1657.1,211.6 1661.1,214.4 1665.1,217.2 1669.1,220.1 1673.1,223.0 1677.1,225.9 1681.1,228.9 1685.1,231.9 1689.1,235.0 1693.1,238.1 1697.1,241.2 1701.1,244.4 1705.1,247.7 1709.1,251.0 1713.1,254.4 1717.1,257.8 1721.1,261.3 1725.1,264.9" fill="none" stroke="#FEF1A6" stroke-width="4.06" stroke-linecap="square" stroke-linejoin="round" stroke-opacity="0.32"/>
<polyline points="1084.9,340.4 1088.9,336.4 1092.9,332.5 1096.9,328.6 1100.9,324.7 1104.9,320.9 1108.9,317.2 1112.9,313.5 1116.9,309.8 1120.9,306.2 1124.9,302.6 1128.9,299.1 1132.9,295.5 1136.9,292.0 1140.9,288.6 1144.9,285.1 1148.9,281.7 1152.9,278.4 1156.9,275.0 1160.9,271.7 1164.9,268.5 1168.9,265.3 1172.9,262.1 1176.9,258.9 1180.9,255.8 1184.9,252.7 1188.9,249.7 1192.9,246.7 1196.9,243.7 1200.9,240.7 1204.9,237.7 1208.9,234.8 1212.9,231.9 1216.9,229.0 1220.9,226.1 1224.9,223.2 1228.9,220.4 1232.9,217.7 1236.9,215.0 1240.9,212.3 1245.0,209.7 1249.0,207.1 1253.0,204.6 1257.0,202.1 1261.0,199.7 1265.0,197.3 1269.0,195.0 1273.0,192.7 1277.0,190.5 1281.0,188.3 1285.0,186.2 1289.0,184.1 1293.0,182.1 1297.0,180.1 1301.0,178.2 1305.0,176.2 1309.0,174.4 1313.0,172.6 1317.0,170.8 1321.0,169.0 1325.0,167.3 1329.0,165.7 1333.0,164.0 1337.0,162.4 1341.0,160.9 1345.0,159.4 1349.0,157.9 1353.0,156.4 1357.0,155.0 1361.0,153.6 1365.0,152.3 1369.0,151.0 1373.0,149.7 1377.0,148.5 1381.0,147.3 1385.0,146.2 1389.0,145.1 1393.0,144.2 1397.0,143.2 1401.0,142.4 1405.0,141.6 1409.0,140.9 1413.0,140.3 1417.0,139.7 1421.0,139.2 1425.0,138.7 1429.0,138.3 1433.0,138.0 1437.0,137.7 1441.0,137.5 1445.0,137.3 1449.0,137.2 1453.0,137.1 1457.0,137.1 1461.0,137.1 1465.0,137.2 1469.0,137.4 1473.0,137.6 1477.0,137.8 1481.0,138.2 1485.0,138.5 1489.0,139.0 1493.0,139.5 1497.0,140.1 1501.0,140.7 1505.0,141.4 1509.0,142.2 1513.0,143.1 1517.0,144.0 1521.0,144.9 1525.0,146.0 1529.0,147.1 1533.0,148.2 1537.0,149.5 1541.0,150.8 1545.0,152.1 1549.0,153.5 1553.0,155.0 1557.0,156.5 1561.0,158.1 1565.1,159.7 1569.1,161.4 1573.1,163.1 1577.1,164.9 1581.1,166.7 1585.1,168.6 1589.1,170.5 1593.1,172.4 1597.1,174.4 1601.1,176.5 1605.1,178.6 1609.1,180.7 1613.1,182.9 1617.1,185.1 1621.1,187.4 1625.1,189.7 1629.1,192.1 1633.1,194.5 1637.1,197.0 1641.1,199.5 1645.1,202.1 1649.1,204.7 1653.1,207.4 1657.1,210.1 1661.1,213.0 1665.1,215.8 1669.1,218.8 1673.1,221.7 1677.1,224.8 1681.1,227.9 1685.1,231.0 1689.1,234.2 1693.1,237.5 1697.1,240.7 1701.1,244.1 1705.1,247.4 1709.1,250.9 1713.1,254.3 1717.1,257.8 1721.1,261.3 1725.1,264.8" fill="none" stroke="#FEF1A6" stroke-width="4.06" stroke-linecap="square" stroke-linejoin="round" stroke-opacity="0.32"/>
<polyline points="1084.9,339.7 1088.9,335.7 1092.9,331.6 1096.9,327.7 1100.9,323.7 1104.9,319.9 1108.9,316.0 1112.9,312.3 1116.9,308.5 1120.9,304.8 1124.9,301.1 1128.9,297.5 1132.9,293.9 1136.9,290.3 1140.9,286.8 1144.9,283.3 1148.9,279.9 1152.9,276.5 1156.9,273.1 1160.9,269.8 1164.9,266.5 1168.9,263.3 1172.9,260.1 1176.9,257.0 1180.9,253.9 1184.9,250.9 1188.9,247.9 1192.9,244.9 1196.9,241.9 1200.9,239.0 1204.9,236.1 1208.9,233.2 1212.9,230.3 1216.9,227.5 1220.9,224.6 1224.9,221.9 1228.9,219.1 1232.9,216.3 1236.9,213.7 1240.9,211.0 1245.0,208.4 1249.0,205.8 1253.0,203.3 1257.0,200.8 1261.0,198.4 1265.0,196.1 1269.0,193.7 1273.0,191.5 1277.0,189.3 1281.0,187.1 1285.0,185.0 1289.0,182.9 1293.0,180.9 1297.0,178.9 1301.0,177.0 1305.0,175.1 1309.0,173.3 1313.0,171.5 1317.0,169.8 1321.0,168.1 1325.0,166.5 1329.0,164.9 1333.0,163.3 1337.0,161.7 1341.0,160.2 1345.0,158.8 1349.0,157.3 1353.0,155.9 1357.0,154.5 1361.0,153.1 1365.0,151.8 1369.0,150.5 1373.0,149.2 1377.0,148.0 1381.0,146.8 1385.0,145.6 1389.0,144.5 1393.0,143.5 1397.0,142.5 1401.0,141.5 1405.0,140.7 1409.0,139.9 1413.0,139.2 1417.0,138.5 1421.0,137.9 1425.0,137.4 1429.0,137.0 1433.0,136.6 1437.0,136.3 1441.0,136.0 1445.0,135.9 1449.0,135.8 1453.0,135.7 1457.0,135.7 1461.0,135.8 1465.0,136.0 1469.0,136.2 1473.0,136.4 1477.0,136.8 1481.0,137.2 1485.0,137.6 1489.0,138.1 1493.0,138.7 1497.0,139.3 1501.0,140.0 1505.0,140.8 1509.0,141.6 1513.0,142.5 1517.0,143.4 1521.0,144.4 1525.0,145.4 1529.0,146.5 1533.0,147.7 1537.0,148.9 1541.0,150.2 1545.0,151.5 1549.0,152.9 1553.0,154.4 1557.0,155.9 1561.0,157.5 1565.1,159.1 1569.1,160.8 1573.1,162.6 1577.1,164.5 1581.1,166.4 1585.1,168.3 1589.1,170.3 1593.1,172.4 1597.1,174.5 1601.1,176.6 1605.1,178.8 1609.1,181.1 1613.1,183.3 1617.1,185.6 1621.1,188.0 1625.1,190.4 1629.1,192.8 1633.1,195.2 1637.1,197.7 1641.1,200.2 1645.1,202.8 1649.1,205.4 1653.1,208.0 1657.1,210.6 1661.1,213.3 1665.1,216.1 1669.1,218.8 1673.1,221.7 1677.1,224.5 1681.1,227.5 1685.1,230.4 1689.1,233.4 1693.1,236.5 1697.1,239.6 1701.1,242.8 1705.1,246.0 1709.1,249.3 1713.1,252.6 1717.1,255.9 1721.1,259.3 1725.1,262.7" fill="none" stroke="#FEF1A6" stroke-width="4.06" stroke-linecap="square" stroke-linejoin="round" stroke-opacity="0.32"/>
<polyline points="1084.9,339.0 1088.9,334.9 1092.9,330.9 1096.9,326.9 1100.9,323.0 1104.9,319.1 1108.9,315.3 1112.9,311.5 1116.9,307.7 1120.9,304.0 1124.9,300.4 1128.9,296.8 1132.9,293.2 1136.9,289.6 1140.9,286.1 1144.9,282.6 1148.9,279.2 1152.9,275.8 1156.9,272.4 1160.9,269.1 1164.9,265.8 1168.9,262.6 1172.9,259.4 1176.9,256.2 1180.9,253.1 1184.9,250.0 1188.9,247.0 1192.9,244.0 1196.9,241.0 1200.9,238.0 1204.9,235.1 1208.9,232.2 1212.9,229.3 1216.9,226.4 1220.9,223.6 1224.9,220.8 1228.9,218.0 1232.9,215.3 1236.9,212.6 1240.9,210.0 1245.0,207.4 1249.0,204.9 1253.0,202.4 1257.0,200.0 1261.0,197.6 1265.0,195.3 1269.0,193.0 1273.0,190.8 1277.0,188.6 1281.0,186.4 1285.0,184.3 1289.0,182.2 1293.0,180.2 1297.0,178.2 1301.0,176.2 1305.0,174.3 1309.0,172.4 1313.0,170.5 1317.0,168.7 1321.0,167.0 1325.0,165.2 1329.0,163.6 1333.0,161.9 1337.0,160.3 1341.0,158.8 1345.0,157.3 1349.0,155.8 1353.0,154.4 1357.0,153.0 1361.0,151.6 1365.0,150.4 1369.0,149.1 1373.0,147.9 1377.0,146.7 1381.0,145.6 1385.0,144.6 1389.0,143.6 1393.0,142.6 1397.0,141.7 1401.0,140.9 1405.0,140.1 1409.0,139.4 1413.0,138.8 1417.0,138.2 1421.0,137.7 1425.0,137.3 1429.0,136.9 1433.0,136.5 1437.0,136.2 1441.0,136.0 1445.0,135.8 1449.0,135.7 1453.0,135.6 1457.0,135.6 1461.0,135.6 1465.0,135.7 1469.0,135.9 1473.0,136.1 1477.0,136.4 1481.0,136.8 1485.0,137.2 1489.0,137.7 1493.0,138.3 1497.0,139.0 1501.0,139.7 1505.0,140.6 1509.0,141.4 1513.0,142.4 1517.0,143.4 1521.0,144.5 1525.0,145.6 1529.0,146.8 1533.0,148.1 1537.0,149.4 1541.0,150.8 1545.0,152.2 1549.0,153.6 1553.0,155.1 1557.0,156.7 1561.0,158.2 1565.1,159.9 1569.1,161.5 1573.1,163.2 1577.1,165.0 1581.1,166.8 1585.1,168.6 1589.1,170.4 1593.1,172.3 1597.1,174.3 1601.1,176.3 1605.1,178.3 1609.1,180.4 1613.1,182.5 1617.1,184.6 1621.1,186.9 1625.1,189.1 1629.1,191.5 1633.1,193.9 1637.1,196.3 1641.1,198.8 1645.1,201.3 1649.1,203.9 1653.1,206.6 1657.1,209.3 1661.1,212.1 1665.1,214.9 1669.1,217.7 1673.1,220.6 1677.1,223.6 1681.1,226.6 1685.1,229.6 1689.1,232.6 1693.1,235.7 1697.1,238.8 1701.1,242.0 1705.1,245.2 1709.1,248.4 1713.1,251.6 1717.1,254.9 1721.1,258.2 1725.1,261.5" fill="none" stroke="#FEF1A6" stroke-width="4.06" stroke-linecap="square" stroke-linejoin="round" stroke-opacity="0.32"/>
<polyline points="1084.9,338.8 1088.9,334.6 1092.9,330.5 1096.9,326.5 1100.9,322.5 1104.9,318.6 1108.9,314.7 1112.9,310.9 1116.9,307.1 1120.9,303.3 1124.9,299.6 1128.9,295.9 1132.9,292.3 1136.9,288.6 1140.9,285.1 1144.9,281.5 1148.9,278.0 1152.9,274.5 1156.9,271.1 1160.9,267.8 1164.9,264.5 1168.9,261.2 1172.9,258.0 1176.9,254.8 1180.9,251.7 1184.9,248.6 1188.9,245.5 1192.9,242.5 1196.9,239.6 1200.9,236.6 1204.9,233.7 1208.9,230.8 1212.9,227.9 1216.9,225.1 1220.9,222.3 1224.9,219.5 1228.9,216.8 1232.9,214.1 1236.9,211.5 1240.9,208.9 1245.0,206.3 1249.0,203.8 1253.0,201.3 1257.0,198.9 1261.0,196.5 1265.0,194.2 1269.0,191.9 1273.0,189.7 1277.0,187.5 1281.0,185.3 1285.0,183.2 1289.0,181.1 1293.0,179.1 1297.0,177.1 1301.0,175.1 1305.0,173.2 1309.0,171.4 1313.0,169.6 1317.0,167.8 1321.0,166.1 1325.0,164.4 1329.0,162.8 1333.0,161.3 1337.0,159.7 1341.0,158.3 1345.0,156.9 1349.0,155.5 1353.0,154.1 1357.0,152.8 1361.0,151.6 1365.0,150.4 1369.0,149.2 1373.0,148.0 1377.0,146.9 1381.0,145.8 1385.0,144.8 1389.0,143.8 1393.0,142.8 1397.0,141.9 1401.0,141.0 1405.0,140.2 1409.0,139.4 1413.0,138.7 1417.0,138.1 1421.0,137.5 1425.0,137.0 1429.0,136.5 1433.0,136.1 1437.0,135.7 1441.0,135.4 1445.0,135.2 1449.0,135.0 1453.0,134.9 1457.0,134.8 1461.0,134.9 1465.0,134.9 1469.0,135.1 1473.0,135.4 1477.0,135.7 1481.0,136.1 1485.0,136.5 1489.0,137.1 1493.0,137.7 1497.0,138.4 1501.0,139.2 1505.0,140.0 1509.0,140.9 1513.0,141.9 1517.0,142.9 1521.0,144.0 1525.0,145.1 1529.0,146.2 1533.0,147.5 1537.0,148.7 1541.0,150.0 1545.0,151.4 1549.0,152.8 1553.0,154.2 1557.0,155.7 1561.0,157.2 1565.1,158.8 1569.1,160.5 1573.1,162.1 1577.1,163.9 1581.1,165.7 1585.1,167.5 1589.1,169.4 1593.1,171.3 1597.1,173.4 1601.1,175.4 1605.1,177.5 1609.1,179.7 1613.1,182.0 1617.1,184.3 1621.1,186.6 1625.1,189.0 1629.1,191.5 1633.1,194.0 1637.1,196.5 1641.1,199.1 1645.1,201.8 1649.1,204.4 1653.1,207.1 1657.1,209.9 1661.1,212.7 1665.1,215.5 1669.1,218.3 1673.1,221.1 1677.1,224.0 1681.1,226.9 1685.1,229.9 1689.1,232.8 1693.1,235.8 1697.1,238.8 1701.1,241.8 1705.1,244.9 1709.1,248.0 1713.1,251.1 1717.1,254.3 1721.1,257.5 1725.1,260.7" fill="none" stroke="#FEF1A6" stroke-width="4.06" stroke-linecap="square" stroke-linejoin="round" stroke-opacity="0.32"/>
<polyline points="1084.9,338.2 1088.9,334.0 1092.9,329.8 1096.9,325.8 1100.9,321.7 1104.9,317.7 1108.9,313.8 1112.9,309.9 1116.9,306.1 1120.9,302.3 1124.9,298.5 1128.9,294.8 1132.9,291.1 1136.9,287.4 1140.9,283.8 1144.9,280.2 1148.9,276.7 1152.9,273.2 1156.9,269.7 1160.9,266.3 1164.9,263.0 1168.9,259.7 1172.9,256.5 1176.9,253.3 1180.9,250.2 1184.9,247.1 1188.9,244.0 1192.9,241.0 1196.9,238.0 1200.9,235.0 1204.9,232.1 1208.9,229.2 1212.9,226.3 1216.9,223.4 1220.9,220.6 1224.9,217.8 1228.9,215.1 1232.9,212.4 1236.9,209.7 1240.9,207.1 1245.0,204.5 1249.0,202.0 1253.0,199.5 1257.0,197.1 1261.0,194.7 1265.0,192.4 1269.0,190.1 1273.0,187.9 1277.0,185.7 1281.0,183.5 1285.0,181.4 1289.0,179.4 1293.0,177.4 1297.0,175.4 1301.0,173.5 1305.0,171.6 1309.0,169.8 1313.0,168.0 1317.0,166.3 1321.0,164.6 1325.0,163.0 1329.0,161.4 1333.0,159.9 1337.0,158.4 1341.0,157.0 1345.0,155.7 1349.0,154.3 1353.0,153.1 1357.0,151.8 1361.0,150.6 1365.0,149.5 1369.0,148.3 1373.0,147.2 1377.0,146.2 1381.0,145.1 1385.0,144.1 1389.0,143.2 1393.0,142.3 1397.0,141.4 1401.0,140.6 1405.0,139.8 1409.0,139.1 1413.0,138.4 1417.0,137.8 1421.0,137.2 1425.0,136.7 1429.0,136.3 1433.0,135.9 1437.0,135.5 1441.0,135.2 1445.0,135.0 1449.0,134.8 1453.0,134.7 1457.0,134.7 1461.0,134.7 1465.0,134.8 1469.0,135.0 1473.0,135.2 1477.0,135.5 1481.0,135.9 1485.0,136.3 1489.0,136.9 1493.0,137.5 1497.0,138.1 1501.0,138.9 1505.0,139.7 1509.0,140.6 1513.0,141.5 1517.0,142.5 1521.0,143.5 1525.0,144.6 1529.0,145.7 1533.0,146.9 1537.0,148.1 1541.0,149.4 1545.0,150.7 1549.0,152.1 1553.0,153.5 1557.0,155.0 1561.0,156.5 1565.1,158.0 1569.1,159.6 1573.1,161.3 1577.1,163.0 1581.1,164.8 1585.1,166.6 1589.1,168.5 1593.1,170.4 1597.1,172.4 1601.1,174.5 1605.1,176.6 1609.1,178.7 1613.1,181.0 1617.1,183.3 1621.1,185.6 1625.1,188.0 1629.1,190.5 1633.1,193.0 1637.1,195.5 1641.1,198.2 1645.1,200.8 1649.1,203.5 1653.1,206.2 1657.1,209.0 1661.1,211.7 1665.1,214.6 1669.1,217.4 1673.1,220.3 1677.1,223.1 1681.1,226.1 1685.1,229.0 1689.1,231.9 1693.1,234.9 1697.1,237.9 1701.1,241.0 1705.1,244.0 1709.1,247.1 1713.1,250.2 1717.1,253.4 1721.1,256.5 1725.1,259.7" fill="none" stroke="#FEF1A6" stroke-width="4.06" stroke-linecap="square" stroke-linejoin="round" stroke-opacity="0.32"/>
<polyline points="1084.9,337.3 1088.9,333.1 1092.9,328.8 1096.9,324.7 1100.9,320.6 1104.9,316.5 1108.9,312.5 1112.9,308.6 1116.9,304.7 1120.9,300.8 1124.9,297.0 1128.9,293.3 1132.9,289.6 1136.9,285.9 1140.9,282.3 1144.9,278.7 1148.9,275.2 1152.9,271.7 1156.9,268.3 1160.9,264.9 1164.9,261.6 1168.9,258.3 1172.9,255.1 1176.9,251.9 1180.9,248.8 1184.9,245.7 1188.9,242.6 1192.9,239.5 1196.9,236.5 1200.9,233.5 1204.9,230.5 1208.9,227.6 1212.9,224.6 1216.9,221.7 1220.9,218.8 1224.9,216.0 1228.9,213.2 1232.9,210.4 1236.9,207.7 1240.9,205.1 1245.0,202.5 1249.0,199.9 1253.0,197.4 1257.0,195.0 1261.0,192.6 1265.0,190.3 1269.0,188.1 1273.0,185.9 1277.0,183.7 1281.0,181.6 1285.0,179.6 1289.0,177.6 1293.0,175.6 1297.0,173.7 1301.0,171.8 1305.0,170.0 1309.0,168.2 1313.0,166.5 1317.0,164.8 1321.0,163.1 1325.0,161.5 1329.0,159.9 1333.0,158.4 1337.0,156.9 1341.0,155.5 1345.0,154.1 1349.0,152.7 1353.0,151.5 1357.0,150.2 1361.0,149.0 1365.0,147.8 1369.0,146.7 1373.0,145.6 1377.0,144.6 1381.0,143.6 1385.0,142.7 1389.0,141.8 1393.0,140.9 1397.0,140.1 1401.0,139.4 1405.0,138.7 1409.0,138.1 1413.0,137.5 1417.0,137.0 1421.0,136.6 1425.0,136.2 1429.0,135.9 1433.0,135.6 1437.0,135.4 1441.0,135.2 1445.0,135.0 1449.0,134.9 1453.0,134.9 1457.0,134.9 1461.0,134.9 1465.0,135.0 1469.0,135.2 1473.0,135.4 1477.0,135.6 1481.0,136.0 1485.0,136.4 1489.0,136.8 1493.0,137.3 1497.0,137.9 1501.0,138.6 1505.0,139.3 1509.0,140.1 1513.0,141.0 1517.0,141.9 1521.0,142.9 1525.0,144.0 1529.0,145.1 1533.0,146.3 1537.0,147.6 1541.0,148.9 1545.0,150.2 1549.0,151.6 1553.0,153.1 1557.0,154.6 1561.0,156.2 1565.1,157.8 1569.1,159.4 1573.1,161.1 1577.1,162.9 1581.1,164.7 1585.1,166.5 1589.1,168.3 1593.1,170.2 1597.1,172.1 1601.1,174.1 1605.1,176.1 1609.1,178.2 1613.1,180.3 1617.1,182.5 1621.1,184.7 1625.1,186.9 1629.1,189.2 1633.1,191.6 1637.1,194.0 1641.1,196.5 1645.1,199.0 1649.1,201.6 1653.1,204.2 1657.1,206.9 1661.1,209.7 1665.1,212.5 1669.1,215.3 1673.1,218.2 1677.1,221.1 1681.1,224.1 1685.1,227.1 1689.1,230.1 1693.1,233.2 1697.1,236.3 1701.1,239.4 1705.1,242.6 1709.1,245.8 1713.1,248.9 1717.1,252.2 1721.1,255.4 1725.1,258.6" fill="none" stroke="#FEF1A6" stroke-width="4.06" stroke-linecap="square" stroke-linejoin="round" stroke-opacity="0.32"/>
<polyline points="1084.9,336.6 1088.9,332.2 1092.9,327.9 1096.9,323.7 1100.9,319.5 1104.9,315.3 1108.9,311.2 1112.9,307.2 1116.9,303.2 1120.9,299.3 1124.9,295.4 1128.9,291.5 1132.9,287.7 1136.9,284.0 1140.9,280.3 1144.9,276.7 1148.9,273.1 1152.9,269.6 1156.9,266.1 1160.9,262.8 1164.9,259.5 1168.9,256.2 1172.9,253.0 1176.9,249.8 1180.9,246.7 1184.9,243.6 1188.9,240.6 1192.9,237.6 1196.9,234.6 1200.9,231.6 1204.9,228.6 1208.9,225.7 1212.9,222.8 1216.9,219.9 1220.9,217.0 1224.9,214.2 1228.9,211.4 1232.9,208.6 1236.9,205.9 1240.9,203.2 1245.0,200.5 1249.0,197.9 1253.0,195.4 1257.0,192.9 1261.0,190.5 1265.0,188.2 1269.0,185.9 1273.0,183.7 1277.0,181.5 1281.0,179.4 1285.0,177.4 1289.0,175.4 1293.0,173.5 1297.0,171.6 1301.0,169.8 1305.0,168.0 1309.0,166.3 1313.0,164.6 1317.0,162.9 1321.0,161.4 1325.0,159.8 1329.0,158.3 1333.0,156.9 1337.0,155.5 1341.0,154.1 1345.0,152.8 1349.0,151.6 1353.0,150.4 1357.0,149.2 1361.0,148.0 1365.0,146.9 1369.0,145.8 1373.0,144.7 1377.0,143.7 1381.0,142.7 1385.0,141.7 1389.0,140.8 1393.0,140.0 1397.0,139.1 1401.0,138.4 1405.0,137.6 1409.0,137.0 1413.0,136.4 1417.0,135.9 1421.0,135.5 1425.0,135.1 1429.0,134.8 1433.0,134.5 1437.0,134.3 1441.0,134.2 1445.0,134.1 1449.0,134.1 1453.0,134.1 1457.0,134.2 1461.0,134.3 1465.0,134.5 1469.0,134.7 1473.0,135.0 1477.0,135.3 1481.0,135.7 1485.0,136.1 1489.0,136.6 1493.0,137.2 1497.0,137.8 1501.0,138.5 1505.0,139.2 1509.0,139.9 1513.0,140.8 1517.0,141.6 1521.0,142.6 1525.0,143.6 1529.0,144.6 1533.0,145.7 1537.0,146.9 1541.0,148.1 1545.0,149.4 1549.0,150.7 1553.0,152.1 1557.0,153.6 1561.0,155.2 1565.1,156.8 1569.1,158.4 1573.1,160.1 1577.1,161.9 1581.1,163.7 1585.1,165.6 1589.1,167.5 1593.1,169.4 1597.1,171.5 1601.1,173.5 1605.1,175.6 1609.1,177.7 1613.1,179.9 1617.1,182.1 1621.1,184.4 1625.1,186.6 1629.1,189.0 1633.1,191.3 1637.1,193.7 1641.1,196.2 1645.1,198.6 1649.1,201.1 1653.1,203.7 1657.1,206.3 1661.1,208.9 1665.1,211.6 1669.1,214.3 1673.1,217.0 1677.1,219.8 1681.1,222.6 1685.1,225.5 1689.1,228.4 1693.1,231.4 1697.1,234.4 1701.1,237.5 1705.1,240.6 1709.1,243.7 1713.1,246.8 1717.1,250.0 1721.1,253.2 1725.1,256.5" fill="none" stroke="#FEF1A6" stroke-width="4.06" stroke-linecap="square" stroke-linejoin="round" stroke-opacity="0.32"/>
<polyline points="1084.9,340.8 1088.9,337.0 1092.9,333.2 1096.9,329.4 1100.9,325.7 1104.9,322.1 1108.9,318.5 1112.9,314.9 1116.9,311.4 1120.9,307.9 1124.9,304.4 1128.9,300.9 1132.9,297.5 1136.9,294.0 1140.9,290.6 1144.9,287.3 1148.9,283.9 1152.9,280.6 1156.9,277.3 1160.9,274.0 1164.9,270.8 1168.9,267.5 1172.9,264.4 1176.9,261.3 1180.9,258.2 1184.9,255.2 1188.9,252.1 1192.9,249.2 1196.9,246.2 1200.9,243.3 1204.9,240.4 1208.9,237.5 1212.9,234.6 1216.9,231.7 1220.9,228.9 1224.9,226.1 1228.9,223.3 1232.9,220.6 1236.9,217.8 1240.9,215.1 1245.0,212.5 1249.0,209.9 1253.0,207.3 1257.0,204.8 1261.0,202.3 1265.0,199.8 1269.0,197.4 1273.0,195.1 1277.0,192.7 1281.0,190.4 1285.0,188.2 1289.0,186.0 1293.0,183.9 1297.0,181.8 1301.0,179.7 1305.0,177.7 1309.0,175.8 1313.0,173.9 1317.0,172.1 1321.0,170.3 1325.0,168.5 1329.0,166.8 1333.0,165.1 1337.0,163.5 1341.0,161.9 1345.0,160.3 1349.0,158.7 1353.0,157.2 1357.0,155.7 1361.0,154.2 1365.0,152.8 1369.0,151.4 1373.0,150.0 1377.0,148.7 1381.0,147.4 1385.0,146.1 1389.0,144.9 1393.0,143.8 1397.0,142.7 1401.0,141.7 1405.0,140.7 1409.0,139.9 1413.0,139.1 1417.0,138.3 1421.0,137.7 1425.0,137.1 1429.0,136.6 1433.0,136.1 1437.0,135.7 1441.0,135.4 1445.0,135.1 1449.0,135.0 1453.0,134.8 1457.0,134.8 1461.0,134.8 1465.0,134.9 1469.0,135.1 1473.0,135.3 1477.0,135.6 1481.0,135.9 1485.0,136.3 1489.0,136.8 1493.0,137.3 1497.0,137.8 1501.0,138.5 1505.0,139.1 1509.0,139.8 1513.0,140.6 1517.0,141.4 1521.0,142.3 1525.0,143.2 1529.0,144.1 1533.0,145.1 1537.0,146.1 1541.0,147.2 1545.0,148.3 1549.0,149.5 1553.0,150.8 1557.0,152.1 1561.0,153.5 1565.1,154.9 1569.1,156.4 1573.1,157.9 1577.1,159.6 1581.1,161.3 1585.1,163.0 1589.1,164.8 1593.1,166.7 1597.1,168.7 1601.1,170.7 1605.1,172.7 1609.1,174.9 1613.1,177.0 1617.1,179.2 1621.1,181.5 1625.1,183.8 1629.1,186.2 1633.1,188.6 1637.1,191.0 1641.1,193.5 1645.1,196.0 1649.1,198.6 1653.1,201.2 1657.1,203.8 1661.1,206.5 1665.1,209.3 1669.1,212.1 1673.1,215.0 1677.1,217.9 1681.1,220.8 1685.1,223.9 1689.1,226.9 1693.1,230.1 1697.1,233.3 1701.1,236.6 1705.1,239.9 1709.1,243.3 1713.1,246.8 1717.1,250.4 1721.1,254.0 1725.1,257.6" fill="none" stroke="#FBD958" stroke-width="4.06" stroke-linecap="square" stroke-linejoin="round" stroke-opacity="0.32"/>
<polyline points="1084.9,339.9 1088.9,336.0 1092.9,332.1 1096.9,328.3 1100.9,324.5 1104.9,320.8 1108.9,317.1 1112.9,313.4 1116.9,309.8 1120.9,306.3 1124.9,302.7 1128.9,299.2 1132.9,295.8 1136.9,292.3 1140.9,288.9 1144.9,285.5 1148.9,282.1 1152.9,278.7 1156.9,275.4 1160.9,272.1 1164.9,268.9 1168.9,265.7 1172.9,262.5 1176.9,259.3 1180.9,256.2 1184.9,253.2 1188.9,250.1 1192.9,247.1 1196.9,244.1 1200.9,241.1 1204.9,238.1 1208.9,235.2 1212.9,232.3 1216.9,229.4 1220.9,226.5 1224.9,223.6 1228.9,220.8 1232.9,218.1 1236.9,215.3 1240.9,212.7 1245.0,210.0 1249.0,207.5 1253.0,204.9 1257.0,202.5 1261.0,200.0 1265.0,197.6 1269.0,195.3 1273.0,193.0 1277.0,190.8 1281.0,188.6 1285.0,186.4 1289.0,184.3 1293.0,182.2 1297.0,180.2 1301.0,178.2 1305.0,176.3 1309.0,174.4 1313.0,172.5 1317.0,170.7 1321.0,168.9 1325.0,167.2 1329.0,165.5 1333.0,163.8 1337.0,162.2 1341.0,160.5 1345.0,158.9 1349.0,157.4 1353.0,155.9 1357.0,154.4 1361.0,152.9 1365.0,151.5 1369.0,150.1 1373.0,148.8 1377.0,147.5 1381.0,146.2 1385.0,145.0 1389.0,143.9 1393.0,142.9 1397.0,141.9 1401.0,140.9 1405.0,140.1 1409.0,139.3 1413.0,138.6 1417.0,137.9 1421.0,137.3 1425.0,136.8 1429.0,136.3 1433.0,135.9 1437.0,135.5 1441.0,135.2 1445.0,135.0 1449.0,134.8 1453.0,134.6 1457.0,134.5 1461.0,134.5 1465.0,134.5 1469.0,134.5 1473.0,134.6 1477.0,134.8 1481.0,135.1 1485.0,135.4 1489.0,135.7 1493.0,136.1 1497.0,136.6 1501.0,137.2 1505.0,137.8 1509.0,138.4 1513.0,139.2 1517.0,140.0 1521.0,140.8 1525.0,141.8 1529.0,142.7 1533.0,143.8 1537.0,144.9 1541.0,146.1 1545.0,147.3 1549.0,148.6 1553.0,149.9 1557.0,151.3 1561.0,152.8 1565.1,154.3 1569.1,155.9 1573.1,157.5 1577.1,159.1 1581.1,160.8 1585.1,162.6 1589.1,164.4 1593.1,166.3 1597.1,168.2 1601.1,170.1 1605.1,172.1 1609.1,174.2 1613.1,176.2 1617.1,178.4 1621.1,180.5 1625.1,182.8 1629.1,185.1 1633.1,187.4 1637.1,189.8 1641.1,192.2 1645.1,194.7 1649.1,197.2 1653.1,199.9 1657.1,202.5 1661.1,205.3 1665.1,208.1 1669.1,211.0 1673.1,213.9 1677.1,216.9 1681.1,219.9 1685.1,223.0 1689.1,226.2 1693.1,229.4 1697.1,232.7 1701.1,236.0 1705.1,239.3 1709.1,242.7 1713.1,246.2 1717.1,249.7 1721.1,253.2 1725.1,256.7" fill="none" stroke="#FBD958" stroke-width="4.06" stroke-linecap="square" stroke-linejoin="round" stroke-opacity="0.32"/>
<polyline points="1084.9,339.2 1088.9,335.2 1092.9,331.3 1096.9,327.4 1100.9,323.6 1104.9,319.8 1108.9,316.0 1112.9,312.3 1116.9,308.7 1120.9,305.0 1124.9,301.4 1128.9,297.8 1132.9,294.2 1136.9,290.7 1140.9,287.2 1144.9,283.7 1148.9,280.3 1152.9,276.8 1156.9,273.5 1160.9,270.1 1164.9,266.8 1168.9,263.6 1172.9,260.4 1176.9,257.2 1180.9,254.1 1184.9,251.0 1188.9,248.0 1192.9,245.0 1196.9,242.0 1200.9,239.0 1204.9,236.1 1208.9,233.2 1212.9,230.3 1216.9,227.5 1220.9,224.7 1224.9,221.9 1228.9,219.1 1232.9,216.4 1236.9,213.7 1240.9,211.1 1245.0,208.5 1249.0,205.9 1253.0,203.4 1257.0,200.9 1261.0,198.4 1265.0,196.0 1269.0,193.7 1273.0,191.4 1277.0,189.1 1281.0,186.9 1285.0,184.7 1289.0,182.5 1293.0,180.4 1297.0,178.4 1301.0,176.4 1305.0,174.5 1309.0,172.6 1313.0,170.7 1317.0,168.9 1321.0,167.2 1325.0,165.5 1329.0,163.8 1333.0,162.2 1337.0,160.7 1341.0,159.2 1345.0,157.7 1349.0,156.2 1353.0,154.8 1357.0,153.5 1361.0,152.1 1365.0,150.8 1369.0,149.5 1373.0,148.2 1377.0,147.0 1381.0,145.8 1385.0,144.7 1389.0,143.6 1393.0,142.5 1397.0,141.5 1401.0,140.5 1405.0,139.6 1409.0,138.8 1413.0,138.0 1417.0,137.2 1421.0,136.6 1425.0,136.0 1429.0,135.4 1433.0,134.9 1437.0,134.5 1441.0,134.1 1445.0,133.8 1449.0,133.6 1453.0,133.4 1457.0,133.3 1461.0,133.3 1465.0,133.3 1469.0,133.4 1473.0,133.6 1477.0,133.8 1481.0,134.1 1485.0,134.5 1489.0,135.0 1493.0,135.5 1497.0,136.0 1501.0,136.7 1505.0,137.4 1509.0,138.1 1513.0,138.9 1517.0,139.7 1521.0,140.6 1525.0,141.5 1529.0,142.5 1533.0,143.5 1537.0,144.6 1541.0,145.7 1545.0,146.9 1549.0,148.1 1553.0,149.3 1557.0,150.6 1561.0,152.0 1565.1,153.4 1569.1,154.9 1573.1,156.4 1577.1,158.0 1581.1,159.7 1585.1,161.4 1589.1,163.2 1593.1,165.1 1597.1,167.0 1601.1,169.0 1605.1,171.1 1609.1,173.2 1613.1,175.3 1617.1,177.6 1621.1,179.9 1625.1,182.2 1629.1,184.6 1633.1,187.0 1637.1,189.5 1641.1,192.1 1645.1,194.6 1649.1,197.2 1653.1,199.9 1657.1,202.6 1661.1,205.3 1665.1,208.1 1669.1,210.8 1673.1,213.7 1677.1,216.5 1681.1,219.5 1685.1,222.4 1689.1,225.4 1693.1,228.4 1697.1,231.5 1701.1,234.6 1705.1,237.7 1709.1,241.0 1713.1,244.2 1717.1,247.5 1721.1,250.9 1725.1,254.3" fill="none" stroke="#FBD958" stroke-width="4.06" stroke-linecap="square" stroke-linejoin="round" stroke-opacity="0.32"/>
<polyline points="1084.9,338.3 1088.9,334.2 1092.9,330.2 1096.9,326.2 1100.9,322.3 1104.9,318.4 1108.9,314.6 1112.9,310.9 1116.9,307.2 1120.9,303.5 1124.9,299.8 1128.9,296.2 1132.9,292.7 1136.9,289.1 1140.9,285.6 1144.9,282.2 1148.9,278.8 1152.9,275.4 1156.9,272.1 1160.9,268.8 1164.9,265.5 1168.9,262.3 1172.9,259.2 1176.9,256.0 1180.9,252.9 1184.9,249.9 1188.9,246.9 1192.9,243.9 1196.9,240.9 1200.9,237.9 1204.9,235.0 1208.9,232.1 1212.9,229.1 1216.9,226.3 1220.9,223.4 1224.9,220.6 1228.9,217.8 1232.9,215.0 1236.9,212.3 1240.9,209.6 1245.0,207.0 1249.0,204.5 1253.0,201.9 1257.0,199.5 1261.0,197.0 1265.0,194.7 1269.0,192.3 1273.0,190.1 1277.0,187.8 1281.0,185.7 1285.0,183.5 1289.0,181.4 1293.0,179.4 1297.0,177.4 1301.0,175.4 1305.0,173.5 1309.0,171.6 1313.0,169.8 1317.0,168.0 1321.0,166.2 1325.0,164.5 1329.0,162.8 1333.0,161.1 1337.0,159.5 1341.0,157.9 1345.0,156.4 1349.0,154.9 1353.0,153.4 1357.0,151.9 1361.0,150.5 1365.0,149.1 1369.0,147.8 1373.0,146.5 1377.0,145.2 1381.0,144.0 1385.0,142.8 1389.0,141.7 1393.0,140.7 1397.0,139.7 1401.0,138.8 1405.0,138.0 1409.0,137.2 1413.0,136.5 1417.0,135.9 1421.0,135.3 1425.0,134.8 1429.0,134.4 1433.0,134.0 1437.0,133.7 1441.0,133.4 1445.0,133.2 1449.0,133.1 1453.0,133.0 1457.0,133.0 1461.0,133.0 1465.0,133.0 1469.0,133.2 1473.0,133.3 1477.0,133.6 1481.0,133.9 1485.0,134.2 1489.0,134.6 1493.0,135.1 1497.0,135.6 1501.0,136.2 1505.0,136.9 1509.0,137.6 1513.0,138.4 1517.0,139.3 1521.0,140.2 1525.0,141.1 1529.0,142.2 1533.0,143.2 1537.0,144.4 1541.0,145.6 1545.0,146.9 1549.0,148.2 1553.0,149.6 1557.0,151.0 1561.0,152.5 1565.1,154.0 1569.1,155.6 1573.1,157.2 1577.1,158.9 1581.1,160.6 1585.1,162.3 1589.1,164.1 1593.1,165.9 1597.1,167.8 1601.1,169.7 1605.1,171.7 1609.1,173.7 1613.1,175.7 1617.1,177.7 1621.1,179.8 1625.1,182.0 1629.1,184.2 1633.1,186.4 1637.1,188.7 1641.1,191.0 1645.1,193.4 1649.1,195.8 1653.1,198.3 1657.1,200.8 1661.1,203.4 1665.1,206.1 1669.1,208.8 1673.1,211.6 1677.1,214.4 1681.1,217.3 1685.1,220.2 1689.1,223.2 1693.1,226.3 1697.1,229.4 1701.1,232.6 1705.1,235.8 1709.1,239.0 1713.1,242.3 1717.1,245.6 1721.1,249.0 1725.1,252.4" fill="none" stroke="#FBD958" stroke-width="4.06" stroke-linecap="square" stroke-linejoin="round" stroke-opacity="0.32"/>
<polyline points="1084.9,338.0 1088.9,333.9 1092.9,329.8 1096.9,325.9 1100.9,321.9 1104.9,318.1 1108.9,314.2 1112.9,310.4 1116.9,306.7 1120.9,302.9 1124.9,299.2 1128.9,295.6 1132.9,292.0 1136.9,288.4 1140.9,284.8 1144.9,281.3 1148.9,277.8 1152.9,274.3 1156.9,270.9 1160.9,267.5 1164.9,264.2 1168.9,260.9 1172.9,257.7 1176.9,254.5 1180.9,251.4 1184.9,248.3 1188.9,245.2 1192.9,242.2 1196.9,239.2 1200.9,236.3 1204.9,233.3 1208.9,230.4 1212.9,227.6 1216.9,224.7 1220.9,221.9 1224.9,219.1 1228.9,216.4 1232.9,213.7 1236.9,211.0 1240.9,208.4 1245.0,205.8 1249.0,203.3 1253.0,200.8 1257.0,198.3 1261.0,195.9 1265.0,193.6 1269.0,191.3 1273.0,189.0 1277.0,186.8 1281.0,184.6 1285.0,182.5 1289.0,180.4 1293.0,178.3 1297.0,176.3 1301.0,174.3 1305.0,172.4 1309.0,170.5 1313.0,168.7 1317.0,166.9 1321.0,165.2 1325.0,163.5 1329.0,161.9 1333.0,160.3 1337.0,158.7 1341.0,157.2 1345.0,155.8 1349.0,154.4 1353.0,153.0 1357.0,151.7 1361.0,150.4 1365.0,149.1 1369.0,147.9 1373.0,146.7 1377.0,145.5 1381.0,144.4 1385.0,143.3 1389.0,142.3 1393.0,141.3 1397.0,140.3 1401.0,139.4 1405.0,138.5 1409.0,137.7 1413.0,136.9 1417.0,136.2 1421.0,135.6 1425.0,135.0 1429.0,134.4 1433.0,133.9 1437.0,133.5 1441.0,133.1 1445.0,132.8 1449.0,132.6 1453.0,132.4 1457.0,132.2 1461.0,132.2 1465.0,132.2 1469.0,132.2 1473.0,132.4 1477.0,132.6 1481.0,132.9 1485.0,133.3 1489.0,133.7 1493.0,134.2 1497.0,134.8 1501.0,135.4 1505.0,136.2 1509.0,136.9 1513.0,137.7 1517.0,138.6 1521.0,139.6 1525.0,140.5 1529.0,141.6 1533.0,142.7 1537.0,143.8 1541.0,144.9 1545.0,146.1 1549.0,147.4 1553.0,148.7 1557.0,150.0 1561.0,151.4 1565.1,152.9 1569.1,154.4 1573.1,155.9 1577.1,157.5 1581.1,159.2 1585.1,160.9 1589.1,162.6 1593.1,164.5 1597.1,166.3 1601.1,168.3 1605.1,170.3 1609.1,172.4 1613.1,174.5 1617.1,176.7 1621.1,178.9 1625.1,181.2 1629.1,183.6 1633.1,186.0 1637.1,188.5 1641.1,191.0 1645.1,193.5 1649.1,196.1 1653.1,198.8 1657.1,201.4 1661.1,204.1 1665.1,206.9 1669.1,209.7 1673.1,212.5 1677.1,215.3 1681.1,218.2 1685.1,221.1 1689.1,224.0 1693.1,226.9 1697.1,229.9 1701.1,232.9 1705.1,236.0 1709.1,239.1 1713.1,242.2 1717.1,245.4 1721.1,248.6 1725.1,251.8" fill="none" stroke="#FBD958" stroke-width="4.06" stroke-linecap="square" stroke-linejoin="round" stroke-opacity="0.32"/>
<polyline points="1084.9,337.6 1088.9,333.5 1092.9,329.4 1096.9,325.3 1100.9,321.3 1104.9,317.4 1108.9,313.5 1112.9,309.6 1116.9,305.8 1120.9,302.1 1124.9,298.3 1128.9,294.6 1132.9,291.0 1136.9,287.4 1140.9,283.8 1144.9,280.3 1148.9,276.8 1152.9,273.3 1156.9,270.0 1160.9,266.6 1164.9,263.3 1168.9,260.1 1172.9,256.9 1176.9,253.8 1180.9,250.6 1184.9,247.6 1188.9,244.5 1192.9,241.5 1196.9,238.5 1200.9,235.6 1204.9,232.6 1208.9,229.7 1212.9,226.8 1216.9,223.9 1220.9,221.0 1224.9,218.2 1228.9,215.4 1232.9,212.6 1236.9,209.8 1240.9,207.2 1245.0,204.5 1249.0,201.9 1253.0,199.4 1257.0,196.9 1261.0,194.5 1265.0,192.1 1269.0,189.8 1273.0,187.5 1277.0,185.3 1281.0,183.1 1285.0,181.0 1289.0,179.0 1293.0,177.0 1297.0,175.0 1301.0,173.1 1305.0,171.3 1309.0,169.5 1313.0,167.7 1317.0,166.0 1321.0,164.3 1325.0,162.7 1329.0,161.1 1333.0,159.5 1337.0,158.0 1341.0,156.6 1345.0,155.1 1349.0,153.7 1353.0,152.3 1357.0,151.0 1361.0,149.7 1365.0,148.4 1369.0,147.1 1373.0,145.9 1377.0,144.7 1381.0,143.6 1385.0,142.5 1389.0,141.4 1393.0,140.4 1397.0,139.4 1401.0,138.5 1405.0,137.7 1409.0,136.9 1413.0,136.2 1417.0,135.5 1421.0,135.0 1425.0,134.5 1429.0,134.0 1433.0,133.6 1437.0,133.3 1441.0,133.1 1445.0,132.8 1449.0,132.7 1453.0,132.6 1457.0,132.6 1461.0,132.6 1465.0,132.6 1469.0,132.7 1473.0,132.9 1477.0,133.1 1481.0,133.4 1485.0,133.7 1489.0,134.1 1493.0,134.6 1497.0,135.1 1501.0,135.6 1505.0,136.2 1509.0,136.9 1513.0,137.6 1517.0,138.4 1521.0,139.2 1525.0,140.1 1529.0,141.0 1533.0,142.0 1537.0,143.1 1541.0,144.2 1545.0,145.4 1549.0,146.6 1553.0,147.9 1557.0,149.3 1561.0,150.7 1565.1,152.2 1569.1,153.7 1573.1,155.3 1577.1,157.0 1581.1,158.7 1585.1,160.5 1589.1,162.3 1593.1,164.2 1597.1,166.2 1601.1,168.1 1605.1,170.2 1609.1,172.2 1613.1,174.3 1617.1,176.5 1621.1,178.7 1625.1,180.9 1629.1,183.1 1633.1,185.4 1637.1,187.8 1641.1,190.2 1645.1,192.6 1649.1,195.1 1653.1,197.6 1657.1,200.1 1661.1,202.7 1665.1,205.4 1669.1,208.1 1673.1,210.8 1677.1,213.6 1681.1,216.5 1685.1,219.4 1689.1,222.3 1693.1,225.4 1697.1,228.4 1701.1,231.5 1705.1,234.7 1709.1,237.9 1713.1,241.1 1717.1,244.4 1721.1,247.8 1725.1,251.1" fill="none" stroke="#FBD958" stroke-width="4.06" stroke-linecap="square" stroke-linejoin="round" stroke-opacity="0.32"/>
<polyline points="1084.9,336.9 1088.9,332.7 1092.9,328.5 1096.9,324.4 1100.9,320.4 1104.9,316.4 1108.9,312.4 1112.9,308.5 1116.9,304.7 1120.9,300.9 1124.9,297.1 1128.9,293.3 1132.9,289.7 1136.9,286.0 1140.9,282.4 1144.9,278.8 1148.9,275.3 1152.9,271.9 1156.9,268.5 1160.9,265.1 1164.9,261.8 1168.9,258.6 1172.9,255.4 1176.9,252.2 1180.9,249.1 1184.9,246.0 1188.9,243.0 1192.9,240.0 1196.9,237.0 1200.9,234.0 1204.9,231.0 1208.9,228.1 1212.9,225.2 1216.9,222.3 1220.9,219.4 1224.9,216.5 1228.9,213.7 1232.9,211.0 1236.9,208.2 1240.9,205.5 1245.0,202.9 1249.0,200.3 1253.0,197.8 1257.0,195.3 1261.0,192.9 1265.0,190.5 1269.0,188.2 1273.0,186.0 1277.0,183.8 1281.0,181.6 1285.0,179.6 1289.0,177.5 1293.0,175.6 1297.0,173.6 1301.0,171.7 1305.0,169.9 1309.0,168.1 1313.0,166.4 1317.0,164.7 1321.0,163.0 1325.0,161.4 1329.0,159.9 1333.0,158.3 1337.0,156.8 1341.0,155.4 1345.0,154.0 1349.0,152.6 1353.0,151.2 1357.0,149.9 1361.0,148.6 1365.0,147.4 1369.0,146.1 1373.0,145.0 1377.0,143.8 1381.0,142.7 1385.0,141.6 1389.0,140.6 1393.0,139.6 1397.0,138.7 1401.0,137.8 1405.0,137.0 1409.0,136.2 1413.0,135.6 1417.0,134.9 1421.0,134.4 1425.0,133.9 1429.0,133.5 1433.0,133.1 1437.0,132.8 1441.0,132.6 1445.0,132.4 1449.0,132.2 1453.0,132.2 1457.0,132.1 1461.0,132.1 1465.0,132.2 1469.0,132.3 1473.0,132.4 1477.0,132.6 1481.0,132.9 1485.0,133.2 1489.0,133.6 1493.0,134.0 1497.0,134.5 1501.0,135.1 1505.0,135.7 1509.0,136.3 1513.0,137.0 1517.0,137.8 1521.0,138.6 1525.0,139.5 1529.0,140.5 1533.0,141.5 1537.0,142.5 1541.0,143.7 1545.0,144.9 1549.0,146.1 1553.0,147.4 1557.0,148.8 1561.0,150.3 1565.1,151.8 1569.1,153.3 1573.1,154.9 1577.1,156.6 1581.1,158.3 1585.1,160.1 1589.1,161.9 1593.1,163.8 1597.1,165.7 1601.1,167.6 1605.1,169.6 1609.1,171.7 1613.1,173.7 1617.1,175.8 1621.1,178.0 1625.1,180.2 1629.1,182.4 1633.1,184.7 1637.1,187.0 1641.1,189.4 1645.1,191.8 1649.1,194.2 1653.1,196.7 1657.1,199.2 1661.1,201.8 1665.1,204.4 1669.1,207.1 1673.1,209.9 1677.1,212.6 1681.1,215.5 1685.1,218.4 1689.1,221.3 1693.1,224.3 1697.1,227.3 1701.1,230.4 1705.1,233.5 1709.1,236.7 1713.1,239.9 1717.1,243.1 1721.1,246.4 1725.1,249.7" fill="none" stroke="#FBD958" stroke-width="4.06" stroke-linecap="square" stroke-linejoin="round" stroke-opacity="0.32"/>
<polyline points="1084.9,336.0 1088.9,331.7 1092.9,327.5 1096.9,323.3 1100.9,319.2 1104.9,315.1 1108.9,311.1 1112.9,307.2 1116.9,303.3 1120.9,299.4 1124.9,295.6 1128.9,291.8 1132.9,288.0 1136.9,284.4 1140.9,280.7 1144.9,277.1 1148.9,273.6 1152.9,270.1 1156.9,266.7 1160.9,263.4 1164.9,260.1 1168.9,256.8 1172.9,253.7 1176.9,250.5 1180.9,247.4 1184.9,244.4 1188.9,241.3 1192.9,238.3 1196.9,235.4 1200.9,232.4 1204.9,229.5 1208.9,226.6 1212.9,223.7 1216.9,220.8 1220.9,218.0 1224.9,215.1 1228.9,212.3 1232.9,209.6 1236.9,206.8 1240.9,204.2 1245.0,201.5 1249.0,198.9 1253.0,196.4 1257.0,193.9 1261.0,191.5 1265.0,189.1 1269.0,186.7 1273.0,184.5 1277.0,182.3 1281.0,180.1 1285.0,178.0 1289.0,175.9 1293.0,173.9 1297.0,172.0 1301.0,170.1 1305.0,168.2 1309.0,166.4 1313.0,164.7 1317.0,163.0 1321.0,161.3 1325.0,159.7 1329.0,158.1 1333.0,156.6 1337.0,155.1 1341.0,153.7 1345.0,152.3 1349.0,151.0 1353.0,149.7 1357.0,148.4 1361.0,147.1 1365.0,145.9 1369.0,144.7 1373.0,143.6 1377.0,142.4 1381.0,141.3 1385.0,140.3 1389.0,139.3 1393.0,138.3 1397.0,137.4 1401.0,136.5 1405.0,135.7 1409.0,135.0 1413.0,134.3 1417.0,133.7 1421.0,133.1 1425.0,132.7 1429.0,132.3 1433.0,131.9 1437.0,131.6 1441.0,131.4 1445.0,131.3 1449.0,131.2 1453.0,131.1 1457.0,131.2 1461.0,131.2 1465.0,131.4 1469.0,131.5 1473.0,131.8 1477.0,132.1 1481.0,132.4 1485.0,132.8 1489.0,133.3 1493.0,133.8 1497.0,134.4 1501.0,135.0 1505.0,135.7 1509.0,136.4 1513.0,137.2 1517.0,138.0 1521.0,138.9 1525.0,139.8 1529.0,140.7 1533.0,141.7 1537.0,142.8 1541.0,143.9 1545.0,145.1 1549.0,146.3 1553.0,147.6 1557.0,149.0 1561.0,150.4 1565.1,151.8 1569.1,153.3 1573.1,154.9 1577.1,156.5 1581.1,158.2 1585.1,159.9 1589.1,161.7 1593.1,163.5 1597.1,165.4 1601.1,167.3 1605.1,169.3 1609.1,171.3 1613.1,173.3 1617.1,175.4 1621.1,177.5 1625.1,179.6 1629.1,181.8 1633.1,184.1 1637.1,186.3 1641.1,188.6 1645.1,191.0 1649.1,193.3 1653.1,195.8 1657.1,198.2 1661.1,200.7 1665.1,203.2 1669.1,205.8 1673.1,208.4 1677.1,211.0 1681.1,213.7 1685.1,216.5 1689.1,219.3 1693.1,222.1 1697.1,225.0 1701.1,228.0 1705.1,231.0 1709.1,234.0 1713.1,237.1 1717.1,240.3 1721.1,243.4 1725.1,246.7" fill="none" stroke="#FBD958" stroke-width="4.06" stroke-linecap="square" stroke-linejoin="round" stroke-opacity="0.32"/>
<polyline points="1084.9,335.1 1088.9,330.7 1092.9,326.4 1096.9,322.2 1100.9,318.0 1104.9,313.9 1108.9,309.8 1112.9,305.7 1116.9,301.8 1120.9,297.8 1124.9,294.0 1128.9,290.1 1132.9,286.4 1136.9,282.6 1140.9,279.0 1144.9,275.3 1148.9,271.8 1152.9,268.3 1156.9,264.9 1160.9,261.5 1164.9,258.2 1168.9,255.0 1172.9,251.8 1176.9,248.6 1180.9,245.5 1184.9,242.4 1188.9,239.4 1192.9,236.4 1196.9,233.4 1200.9,230.4 1204.9,227.4 1208.9,224.5 1212.9,221.6 1216.9,218.7 1220.9,215.8 1224.9,213.0 1228.9,210.1 1232.9,207.4 1236.9,204.6 1240.9,201.9 1245.0,199.3 1249.0,196.7 1253.0,194.2 1257.0,191.7 1261.0,189.3 1265.0,186.9 1269.0,184.6 1273.0,182.4 1277.0,180.2 1281.0,178.1 1285.0,176.0 1289.0,174.0 1293.0,172.1 1297.0,170.2 1301.0,168.3 1305.0,166.5 1309.0,164.7 1313.0,163.0 1317.0,161.3 1321.0,159.7 1325.0,158.1 1329.0,156.5 1333.0,155.0 1337.0,153.6 1341.0,152.2 1345.0,150.8 1349.0,149.5 1353.0,148.2 1357.0,146.9 1361.0,145.7 1365.0,144.5 1369.0,143.4 1373.0,142.3 1377.0,141.2 1381.0,140.1 1385.0,139.1 1389.0,138.2 1393.0,137.3 1397.0,136.4 1401.0,135.6 1405.0,134.9 1409.0,134.2 1413.0,133.6 1417.0,133.0 1421.0,132.5 1425.0,132.1 1429.0,131.8 1433.0,131.5 1437.0,131.2 1441.0,131.0 1445.0,130.9 1449.0,130.8 1453.0,130.8 1457.0,130.8 1461.0,130.9 1465.0,131.0 1469.0,131.1 1473.0,131.3 1477.0,131.6 1481.0,131.9 1485.0,132.2 1489.0,132.7 1493.0,133.1 1497.0,133.7 1501.0,134.2 1505.0,134.9 1509.0,135.6 1513.0,136.3 1517.0,137.1 1521.0,138.0 1525.0,138.9 1529.0,139.9 1533.0,140.9 1537.0,142.0 1541.0,143.1 1545.0,144.3 1549.0,145.6 1553.0,146.9 1557.0,148.3 1561.0,149.7 1565.1,151.2 1569.1,152.8 1573.1,154.3 1577.1,156.0 1581.1,157.7 1585.1,159.4 1589.1,161.1 1593.1,162.9 1597.1,164.8 1601.1,166.6 1605.1,168.5 1609.1,170.5 1613.1,172.5 1617.1,174.5 1621.1,176.5 1625.1,178.6 1629.1,180.7 1633.1,182.9 1637.1,185.1 1641.1,187.4 1645.1,189.7 1649.1,192.0 1653.1,194.4 1657.1,196.8 1661.1,199.3 1665.1,201.8 1669.1,204.4 1673.1,207.0 1677.1,209.6 1681.1,212.3 1685.1,215.1 1689.1,217.9 1693.1,220.8 1697.1,223.7 1701.1,226.7 1705.1,229.7 1709.1,232.7 1713.1,235.8 1717.1,238.9 1721.1,242.0 1725.1,245.2" fill="none" stroke="#FBD958" stroke-width="4.06" stroke-linecap="square" stroke-linejoin="round" stroke-opacity="0.32"/>
<polyline points="1084.9,339.4 1088.9,335.6 1092.9,331.8 1096.9,328.0 1100.9,324.3 1104.9,320.7 1108.9,317.1 1112.9,313.5 1116.9,309.9 1120.9,306.4 1124.9,302.9 1128.9,299.5 1132.9,296.0 1136.9,292.6 1140.9,289.2 1144.9,285.8 1148.9,282.4 1152.9,279.1 1156.9,275.8 1160.9,272.4 1164.9,269.2 1168.9,265.9 1172.9,262.7 1176.9,259.5 1180.9,256.4 1184.9,253.3 1188.9,250.2 1192.9,247.1 1196.9,244.1 1200.9,241.1 1204.9,238.1 1208.9,235.1 1212.9,232.1 1216.9,229.2 1220.9,226.3 1224.9,223.4 1228.9,220.6 1232.9,217.8 1236.9,215.0 1240.9,212.3 1245.0,209.7 1249.0,207.1 1253.0,204.5 1257.0,202.0 1261.0,199.5 1265.0,197.0 1269.0,194.6 1273.0,192.3 1277.0,189.9 1281.0,187.7 1285.0,185.4 1289.0,183.2 1293.0,181.1 1297.0,178.9 1301.0,176.8 1305.0,174.8 1309.0,172.8 1313.0,170.8 1317.0,168.9 1321.0,166.9 1325.0,165.1 1329.0,163.2 1333.0,161.4 1337.0,159.6 1341.0,157.8 1345.0,156.1 1349.0,154.4 1353.0,152.7 1357.0,151.0 1361.0,149.4 1365.0,147.8 1369.0,146.2 1373.0,144.7 1377.0,143.2 1381.0,141.8 1385.0,140.4 1389.0,139.1 1393.0,137.9 1397.0,136.7 1401.0,135.6 1405.0,134.6 1409.0,133.7 1413.0,132.8 1417.0,132.0 1421.0,131.3 1425.0,130.6 1429.0,130.0 1433.0,129.4 1437.0,128.9 1441.0,128.5 1445.0,128.1 1449.0,127.7 1453.0,127.4 1457.0,127.2 1461.0,127.0 1465.0,126.9 1469.0,126.9 1473.0,126.9 1477.0,127.0 1481.0,127.2 1485.0,127.4 1489.0,127.7 1493.0,128.0 1497.0,128.5 1501.0,129.0 1505.0,129.5 1509.0,130.1 1513.0,130.8 1517.0,131.6 1521.0,132.4 1525.0,133.3 1529.0,134.3 1533.0,135.3 1537.0,136.4 1541.0,137.6 1545.0,138.8 1549.0,140.1 1553.0,141.4 1557.0,142.8 1561.0,144.2 1565.1,145.7 1569.1,147.3 1573.1,148.9 1577.1,150.6 1581.1,152.3 1585.1,154.1 1589.1,155.9 1593.1,157.8 1597.1,159.7 1601.1,161.7 1605.1,163.7 1609.1,165.8 1613.1,167.9 1617.1,170.0 1621.1,172.2 1625.1,174.5 1629.1,176.8 1633.1,179.1 1637.1,181.5 1641.1,184.0 1645.1,186.5 1649.1,189.0 1653.1,191.6 1657.1,194.3 1661.1,197.0 1665.1,199.8 1669.1,202.7 1673.1,205.6 1677.1,208.6 1681.1,211.6 1685.1,214.6 1689.1,217.7 1693.1,220.9 1697.1,224.0 1701.1,227.3 1705.1,230.5 1709.1,233.9 1713.1,237.2 1717.1,240.6 1721.1,244.0 1725.1,247.4" fill="none" stroke="#EE9238" stroke-width="4.06" stroke-linecap="square" stroke-linejoin="round" stroke-opacity="0.32"/>
<polyline points="1084.9,338.3 1088.9,334.3 1092.9,330.5 1096.9,326.6 1100.9,322.9 1104.9,319.1 1108.9,315.4 1112.9,311.8 1116.9,308.2 1120.9,304.6 1124.9,301.1 1128.9,297.6 1132.9,294.1 1136.9,290.6 1140.9,287.1 1144.9,283.7 1148.9,280.3 1152.9,277.0 1156.9,273.6 1160.9,270.3 1164.9,267.0 1168.9,263.7 1172.9,260.5 1176.9,257.3 1180.9,254.2 1184.9,251.1 1188.9,248.0 1192.9,245.0 1196.9,241.9 1200.9,238.9 1204.9,235.9 1208.9,233.0 1212.9,230.1 1216.9,227.1 1220.9,224.3 1224.9,221.4 1228.9,218.6 1232.9,215.8 1236.9,213.1 1240.9,210.4 1245.0,207.8 1249.0,205.2 1253.0,202.6 1257.0,200.1 1261.0,197.7 1265.0,195.2 1269.0,192.9 1273.0,190.5 1277.0,188.2 1281.0,185.9 1285.0,183.7 1289.0,181.5 1293.0,179.3 1297.0,177.2 1301.0,175.0 1305.0,173.0 1309.0,170.9 1313.0,168.9 1317.0,167.0 1321.0,165.0 1325.0,163.1 1329.0,161.3 1333.0,159.5 1337.0,157.7 1341.0,155.9 1345.0,154.2 1349.0,152.5 1353.0,150.8 1357.0,149.2 1361.0,147.6 1365.0,146.0 1369.0,144.5 1373.0,143.1 1377.0,141.6 1381.0,140.3 1385.0,138.9 1389.0,137.7 1393.0,136.5 1397.0,135.4 1401.0,134.3 1405.0,133.3 1409.0,132.4 1413.0,131.6 1417.0,130.8 1421.0,130.0 1425.0,129.4 1429.0,128.7 1433.0,128.2 1437.0,127.7 1441.0,127.2 1445.0,126.8 1449.0,126.5 1453.0,126.2 1457.0,126.0 1461.0,125.8 1465.0,125.7 1469.0,125.7 1473.0,125.8 1477.0,125.9 1481.0,126.1 1485.0,126.3 1489.0,126.7 1493.0,127.1 1497.0,127.6 1501.0,128.2 1505.0,128.8 1509.0,129.5 1513.0,130.3 1517.0,131.1 1521.0,132.0 1525.0,133.0 1529.0,134.0 1533.0,135.1 1537.0,136.3 1541.0,137.5 1545.0,138.7 1549.0,140.0 1553.0,141.4 1557.0,142.8 1561.0,144.2 1565.1,145.7 1569.1,147.2 1573.1,148.8 1577.1,150.4 1581.1,152.1 1585.1,153.8 1589.1,155.6 1593.1,157.4 1597.1,159.2 1601.1,161.1 1605.1,163.0 1609.1,165.0 1613.1,167.1 1617.1,169.2 1621.1,171.3 1625.1,173.5 1629.1,175.7 1633.1,178.0 1637.1,180.4 1641.1,182.8 1645.1,185.2 1649.1,187.7 1653.1,190.3 1657.1,192.9 1661.1,195.6 1665.1,198.3 1669.1,201.1 1673.1,203.9 1677.1,206.8 1681.1,209.7 1685.1,212.6 1689.1,215.6 1693.1,218.6 1697.1,221.6 1701.1,224.7 1705.1,227.8 1709.1,231.0 1713.1,234.2 1717.1,237.4 1721.1,240.6 1725.1,243.9" fill="none" stroke="#EE9238" stroke-width="4.06" stroke-linecap="square" stroke-linejoin="round" stroke-opacity="0.32"/>
<polyline points="1084.9,337.6 1088.9,333.6 1092.9,329.6 1096.9,325.7 1100.9,321.9 1104.9,318.1 1108.9,314.3 1112.9,310.6 1116.9,306.9 1120.9,303.3 1124.9,299.6 1128.9,296.0 1132.9,292.5 1136.9,288.9 1140.9,285.4 1144.9,281.9 1148.9,278.4 1152.9,275.0 1156.9,271.6 1160.9,268.2 1164.9,264.9 1168.9,261.6 1172.9,258.3 1176.9,255.1 1180.9,252.0 1184.9,248.8 1188.9,245.7 1192.9,242.7 1196.9,239.7 1200.9,236.7 1204.9,233.7 1208.9,230.8 1212.9,227.8 1216.9,224.9 1220.9,222.1 1224.9,219.3 1228.9,216.5 1232.9,213.7 1236.9,211.0 1240.9,208.3 1245.0,205.7 1249.0,203.1 1253.0,200.6 1257.0,198.1 1261.0,195.6 1265.0,193.2 1269.0,190.8 1273.0,188.4 1277.0,186.1 1281.0,183.8 1285.0,181.6 1289.0,179.4 1293.0,177.2 1297.0,175.1 1301.0,173.0 1305.0,170.9 1309.0,168.9 1313.0,167.0 1317.0,165.1 1321.0,163.2 1325.0,161.4 1329.0,159.6 1333.0,157.8 1337.0,156.1 1341.0,154.4 1345.0,152.8 1349.0,151.2 1353.0,149.7 1357.0,148.2 1361.0,146.7 1365.0,145.2 1369.0,143.8 1373.0,142.4 1377.0,141.1 1381.0,139.8 1385.0,138.5 1389.0,137.3 1393.0,136.1 1397.0,135.0 1401.0,134.0 1405.0,132.9 1409.0,132.0 1413.0,131.1 1417.0,130.3 1421.0,129.5 1425.0,128.8 1429.0,128.1 1433.0,127.5 1437.0,126.9 1441.0,126.4 1445.0,126.0 1449.0,125.6 1453.0,125.3 1457.0,125.1 1461.0,124.9 1465.0,124.8 1469.0,124.8 1473.0,124.8 1477.0,125.0 1481.0,125.2 1485.0,125.5 1489.0,125.8 1493.0,126.3 1497.0,126.8 1501.0,127.4 1505.0,128.0 1509.0,128.8 1513.0,129.5 1517.0,130.4 1521.0,131.3 1525.0,132.2 1529.0,133.2 1533.0,134.3 1537.0,135.3 1541.0,136.5 1545.0,137.7 1549.0,138.9 1553.0,140.2 1557.0,141.5 1561.0,142.9 1565.1,144.3 1569.1,145.8 1573.1,147.3 1577.1,148.9 1581.1,150.5 1585.1,152.2 1589.1,154.0 1593.1,155.8 1597.1,157.6 1601.1,159.6 1605.1,161.5 1609.1,163.6 1613.1,165.7 1617.1,167.9 1621.1,170.1 1625.1,172.4 1629.1,174.7 1633.1,177.1 1637.1,179.5 1641.1,182.0 1645.1,184.5 1649.1,187.1 1653.1,189.7 1657.1,192.3 1661.1,195.0 1665.1,197.7 1669.1,200.4 1673.1,203.2 1677.1,206.0 1681.1,208.8 1685.1,211.6 1689.1,214.5 1693.1,217.4 1697.1,220.3 1701.1,223.2 1705.1,226.2 1709.1,229.2 1713.1,232.2 1717.1,235.3 1721.1,238.4 1725.1,241.6" fill="none" stroke="#EE9238" stroke-width="4.06" stroke-linecap="square" stroke-linejoin="round" stroke-opacity="0.32"/>
<polyline points="1084.9,336.9 1088.9,332.8 1092.9,328.8 1096.9,324.8 1100.9,320.9 1104.9,317.1 1108.9,313.3 1112.9,309.5 1116.9,305.8 1120.9,302.1 1124.9,298.5 1128.9,294.8 1132.9,291.2 1136.9,287.7 1140.9,284.1 1144.9,280.6 1148.9,277.1 1152.9,273.7 1156.9,270.3 1160.9,266.9 1164.9,263.6 1168.9,260.3 1172.9,257.0 1176.9,253.8 1180.9,250.6 1184.9,247.5 1188.9,244.3 1192.9,241.3 1196.9,238.2 1200.9,235.2 1204.9,232.2 1208.9,229.2 1212.9,226.2 1216.9,223.3 1220.9,220.4 1224.9,217.5 1228.9,214.7 1232.9,211.9 1236.9,209.1 1240.9,206.4 1245.0,203.7 1249.0,201.1 1253.0,198.6 1257.0,196.1 1261.0,193.6 1265.0,191.2 1269.0,188.8 1273.0,186.4 1277.0,184.1 1281.0,181.9 1285.0,179.6 1289.0,177.5 1293.0,175.3 1297.0,173.2 1301.0,171.1 1305.0,169.1 1309.0,167.1 1313.0,165.2 1317.0,163.3 1321.0,161.4 1325.0,159.6 1329.0,157.8 1333.0,156.1 1337.0,154.4 1341.0,152.7 1345.0,151.1 1349.0,149.6 1353.0,148.0 1357.0,146.6 1361.0,145.1 1365.0,143.7 1369.0,142.4 1373.0,141.1 1377.0,139.8 1381.0,138.6 1385.0,137.4 1389.0,136.3 1393.0,135.2 1397.0,134.1 1401.0,133.2 1405.0,132.3 1409.0,131.4 1413.0,130.6 1417.0,129.9 1421.0,129.2 1425.0,128.5 1429.0,128.0 1433.0,127.4 1437.0,126.9 1441.0,126.5 1445.0,126.1 1449.0,125.8 1453.0,125.5 1457.0,125.3 1461.0,125.1 1465.0,125.0 1469.0,125.0 1473.0,125.0 1477.0,125.1 1481.0,125.2 1485.0,125.5 1489.0,125.8 1493.0,126.2 1497.0,126.7 1501.0,127.2 1505.0,127.8 1509.0,128.5 1513.0,129.2 1517.0,130.0 1521.0,130.8 1525.0,131.8 1529.0,132.7 1533.0,133.8 1537.0,134.8 1541.0,136.0 1545.0,137.1 1549.0,138.3 1553.0,139.6 1557.0,140.9 1561.0,142.3 1565.1,143.7 1569.1,145.1 1573.1,146.6 1577.1,148.1 1581.1,149.7 1585.1,151.4 1589.1,153.0 1593.1,154.8 1597.1,156.5 1601.1,158.4 1605.1,160.3 1609.1,162.2 1613.1,164.2 1617.1,166.3 1621.1,168.4 1625.1,170.6 1629.1,172.8 1633.1,175.1 1637.1,177.5 1641.1,179.9 1645.1,182.4 1649.1,184.9 1653.1,187.5 1657.1,190.1 1661.1,192.8 1665.1,195.5 1669.1,198.2 1673.1,201.0 1677.1,203.9 1681.1,206.7 1685.1,209.6 1689.1,212.6 1693.1,215.5 1697.1,218.5 1701.1,221.5 1705.1,224.5 1709.1,227.5 1713.1,230.6 1717.1,233.7 1721.1,236.8 1725.1,239.9" fill="none" stroke="#EE9238" stroke-width="4.06" stroke-linecap="square" stroke-linejoin="round" stroke-opacity="0.32"/>
<polyline points="1084.9,336.3 1088.9,332.2 1092.9,328.1 1096.9,324.1 1100.9,320.2 1104.9,316.3 1108.9,312.5 1112.9,308.7 1116.9,304.9 1120.9,301.2 1124.9,297.5 1128.9,293.9 1132.9,290.2 1136.9,286.6 1140.9,283.1 1144.9,279.5 1148.9,276.0 1152.9,272.6 1156.9,269.1 1160.9,265.8 1164.9,262.4 1168.9,259.1 1172.9,255.9 1176.9,252.6 1180.9,249.5 1184.9,246.3 1188.9,243.2 1192.9,240.1 1196.9,237.1 1200.9,234.1 1204.9,231.1 1208.9,228.1 1212.9,225.2 1216.9,222.2 1220.9,219.4 1224.9,216.5 1228.9,213.7 1232.9,210.9 1236.9,208.1 1240.9,205.4 1245.0,202.8 1249.0,200.2 1253.0,197.6 1257.0,195.1 1261.0,192.6 1265.0,190.2 1269.0,187.8 1273.0,185.4 1277.0,183.1 1281.0,180.8 1285.0,178.6 1289.0,176.4 1293.0,174.2 1297.0,172.1 1301.0,170.0 1305.0,168.0 1309.0,166.0 1313.0,164.0 1317.0,162.1 1321.0,160.3 1325.0,158.5 1329.0,156.7 1333.0,155.0 1337.0,153.3 1341.0,151.7 1345.0,150.1 1349.0,148.6 1353.0,147.1 1357.0,145.6 1361.0,144.2 1365.0,142.9 1369.0,141.6 1373.0,140.3 1377.0,139.0 1381.0,137.8 1385.0,136.7 1389.0,135.5 1393.0,134.5 1397.0,133.5 1401.0,132.5 1405.0,131.6 1409.0,130.7 1413.0,129.9 1417.0,129.2 1421.0,128.5 1425.0,127.8 1429.0,127.2 1433.0,126.7 1437.0,126.2 1441.0,125.8 1445.0,125.4 1449.0,125.1 1453.0,124.8 1457.0,124.6 1461.0,124.5 1465.0,124.4 1469.0,124.4 1473.0,124.5 1477.0,124.6 1481.0,124.9 1485.0,125.1 1489.0,125.5 1493.0,125.9 1497.0,126.4 1501.0,127.0 1505.0,127.6 1509.0,128.4 1513.0,129.1 1517.0,129.9 1521.0,130.8 1525.0,131.7 1529.0,132.7 1533.0,133.7 1537.0,134.8 1541.0,135.9 1545.0,137.1 1549.0,138.3 1553.0,139.5 1557.0,140.8 1561.0,142.1 1565.1,143.5 1569.1,144.9 1573.1,146.3 1577.1,147.8 1581.1,149.4 1585.1,151.0 1589.1,152.6 1593.1,154.3 1597.1,156.1 1601.1,157.9 1605.1,159.8 1609.1,161.7 1613.1,163.7 1617.1,165.8 1621.1,167.9 1625.1,170.0 1629.1,172.3 1633.1,174.6 1637.1,176.9 1641.1,179.3 1645.1,181.7 1649.1,184.2 1653.1,186.8 1657.1,189.3 1661.1,192.0 1665.1,194.6 1669.1,197.3 1673.1,200.0 1677.1,202.8 1681.1,205.6 1685.1,208.4 1689.1,211.2 1693.1,214.1 1697.1,217.0 1701.1,219.9 1705.1,222.8 1709.1,225.8 1713.1,228.8 1717.1,231.8 1721.1,234.8 1725.1,237.9" fill="none" stroke="#EE9238" stroke-width="4.06" stroke-linecap="square" stroke-linejoin="round" stroke-opacity="0.32"/>
<polyline points="1084.9,335.8 1088.9,331.6 1092.9,327.5 1096.9,323.5 1100.9,319.5 1104.9,315.5 1108.9,311.6 1112.9,307.8 1116.9,304.0 1120.9,300.2 1124.9,296.4 1128.9,292.7 1132.9,289.0 1136.9,285.4 1140.9,281.8 1144.9,278.2 1148.9,274.7 1152.9,271.2 1156.9,267.8 1160.9,264.4 1164.9,261.1 1168.9,257.8 1172.9,254.6 1176.9,251.4 1180.9,248.2 1184.9,245.1 1188.9,242.0 1192.9,239.0 1196.9,236.0 1200.9,233.0 1204.9,230.1 1208.9,227.1 1212.9,224.2 1216.9,221.3 1220.9,218.4 1224.9,215.6 1228.9,212.8 1232.9,210.0 1236.9,207.3 1240.9,204.6 1245.0,201.9 1249.0,199.3 1253.0,196.7 1257.0,194.1 1261.0,191.6 1265.0,189.2 1269.0,186.8 1273.0,184.4 1277.0,182.0 1281.0,179.8 1285.0,177.5 1289.0,175.3 1293.0,173.1 1297.0,171.0 1301.0,169.0 1305.0,166.9 1309.0,165.0 1313.0,163.1 1317.0,161.2 1321.0,159.4 1325.0,157.6 1329.0,155.9 1333.0,154.2 1337.0,152.6 1341.0,151.0 1345.0,149.4 1349.0,147.9 1353.0,146.5 1357.0,145.1 1361.0,143.7 1365.0,142.3 1369.0,141.0 1373.0,139.7 1377.0,138.4 1381.0,137.2 1385.0,136.0 1389.0,134.9 1393.0,133.7 1397.0,132.7 1401.0,131.7 1405.0,130.7 1409.0,129.8 1413.0,128.9 1417.0,128.2 1421.0,127.4 1425.0,126.8 1429.0,126.2 1433.0,125.6 1437.0,125.2 1441.0,124.8 1445.0,124.4 1449.0,124.1 1453.0,123.9 1457.0,123.8 1461.0,123.7 1465.0,123.7 1469.0,123.8 1473.0,123.9 1477.0,124.1 1481.0,124.4 1485.0,124.7 1489.0,125.2 1493.0,125.6 1497.0,126.2 1501.0,126.8 1505.0,127.4 1509.0,128.2 1513.0,128.9 1517.0,129.7 1521.0,130.6 1525.0,131.5 1529.0,132.5 1533.0,133.5 1537.0,134.5 1541.0,135.6 1545.0,136.7 1549.0,137.9 1553.0,139.1 1557.0,140.3 1561.0,141.7 1565.1,143.0 1569.1,144.4 1573.1,145.9 1577.1,147.5 1581.1,149.0 1585.1,150.7 1589.1,152.4 1593.1,154.1 1597.1,155.9 1601.1,157.8 1605.1,159.7 1609.1,161.7 1613.1,163.8 1617.1,165.8 1621.1,168.0 1625.1,170.2 1629.1,172.4 1633.1,174.7 1637.1,177.0 1641.1,179.3 1645.1,181.7 1649.1,184.1 1653.1,186.6 1657.1,189.0 1661.1,191.5 1665.1,194.1 1669.1,196.6 1673.1,199.2 1677.1,201.8 1681.1,204.5 1685.1,207.1 1689.1,209.8 1693.1,212.6 1697.1,215.3 1701.1,218.1 1705.1,221.0 1709.1,223.9 1713.1,226.8 1717.1,229.7 1721.1,232.7 1725.1,235.8" fill="none" stroke="#EE9238" stroke-width="4.06" stroke-linecap="square" stroke-linejoin="round" stroke-opacity="0.32"/>
<polyline points="1084.9,335.2 1088.9,331.0 1092.9,326.8 1096.9,322.6 1100.9,318.6 1104.9,314.5 1108.9,310.5 1112.9,306.6 1116.9,302.7 1120.9,298.9 1124.9,295.1 1128.9,291.3 1132.9,287.6 1136.9,283.9 1140.9,280.3 1144.9,276.7 1148.9,273.2 1152.9,269.7 1156.9,266.2 1160.9,262.9 1164.9,259.5 1168.9,256.3 1172.9,253.0 1176.9,249.8 1180.9,246.7 1184.9,243.6 1188.9,240.5 1192.9,237.4 1196.9,234.4 1200.9,231.4 1204.9,228.4 1208.9,225.4 1212.9,222.4 1216.9,219.4 1220.9,216.5 1224.9,213.6 1228.9,210.7 1232.9,207.9 1236.9,205.1 1240.9,202.3 1245.0,199.6 1249.0,197.0 1253.0,194.4 1257.0,191.8 1261.0,189.3 1265.0,186.9 1269.0,184.5 1273.0,182.2 1277.0,179.9 1281.0,177.7 1285.0,175.5 1289.0,173.4 1293.0,171.3 1297.0,169.3 1301.0,167.3 1305.0,165.4 1309.0,163.5 1313.0,161.7 1317.0,159.9 1321.0,158.1 1325.0,156.4 1329.0,154.7 1333.0,153.1 1337.0,151.5 1341.0,150.0 1345.0,148.5 1349.0,147.0 1353.0,145.5 1357.0,144.1 1361.0,142.7 1365.0,141.4 1369.0,140.1 1373.0,138.8 1377.0,137.5 1381.0,136.3 1385.0,135.1 1389.0,134.0 1393.0,132.9 1397.0,131.9 1401.0,131.0 1405.0,130.1 1409.0,129.2 1413.0,128.4 1417.0,127.7 1421.0,127.1 1425.0,126.5 1429.0,126.0 1433.0,125.5 1437.0,125.1 1441.0,124.8 1445.0,124.5 1449.0,124.3 1453.0,124.1 1457.0,124.0 1461.0,123.9 1465.0,123.9 1469.0,123.9 1473.0,124.0 1477.0,124.1 1481.0,124.3 1485.0,124.5 1489.0,124.8 1493.0,125.2 1497.0,125.6 1501.0,126.1 1505.0,126.6 1509.0,127.2 1513.0,127.9 1517.0,128.6 1521.0,129.3 1525.0,130.2 1529.0,131.0 1533.0,132.0 1537.0,133.0 1541.0,134.0 1545.0,135.2 1549.0,136.4 1553.0,137.6 1557.0,138.9 1561.0,140.3 1565.1,141.7 1569.1,143.2 1573.1,144.8 1577.1,146.4 1581.1,148.0 1585.1,149.7 1589.1,151.5 1593.1,153.3 1597.1,155.1 1601.1,157.0 1605.1,158.9 1609.1,160.9 1613.1,162.9 1617.1,164.9 1621.1,167.0 1625.1,169.1 1629.1,171.3 1633.1,173.5 1637.1,175.7 1641.1,178.0 1645.1,180.3 1649.1,182.6 1653.1,185.0 1657.1,187.4 1661.1,189.9 1665.1,192.4 1669.1,194.9 1673.1,197.5 1677.1,200.2 1681.1,202.8 1685.1,205.6 1689.1,208.3 1693.1,211.2 1697.1,214.0 1701.1,216.9 1705.1,219.8 1709.1,222.8 1713.1,225.8 1717.1,228.8 1721.1,231.8 1725.1,234.9" fill="none" stroke="#EE9238" stroke-width="4.06" stroke-linecap="square" stroke-linejoin="round" stroke-opacity="0.32"/>
<polyline points="1084.9,334.4 1088.9,330.0 1092.9,325.8 1096.9,321.6 1100.9,317.4 1104.9,313.3 1108.9,309.2 1112.9,305.2 1116.9,301.3 1120.9,297.3 1124.9,293.5 1128.9,289.6 1132.9,285.9 1136.9,282.1 1140.9,278.4 1144.9,274.8 1148.9,271.2 1152.9,267.7 1156.9,264.3 1160.9,260.9 1164.9,257.5 1168.9,254.2 1172.9,251.0 1176.9,247.8 1180.9,244.6 1184.9,241.5 1188.9,238.4 1192.9,235.3 1196.9,232.3 1200.9,229.2 1204.9,226.2 1208.9,223.2 1212.9,220.2 1216.9,217.3 1220.9,214.3 1224.9,211.4 1228.9,208.6 1232.9,205.7 1236.9,202.9 1240.9,200.2 1245.0,197.5 1249.0,194.8 1253.0,192.2 1257.0,189.7 1261.0,187.2 1265.0,184.8 1269.0,182.5 1273.0,180.2 1277.0,177.9 1281.0,175.7 1285.0,173.6 1289.0,171.5 1293.0,169.5 1297.0,167.5 1301.0,165.6 1305.0,163.7 1309.0,161.8 1313.0,160.0 1317.0,158.3 1321.0,156.6 1325.0,154.9 1329.0,153.3 1333.0,151.7 1337.0,150.1 1341.0,148.6 1345.0,147.1 1349.0,145.7 1353.0,144.3 1357.0,142.9 1361.0,141.6 1365.0,140.3 1369.0,139.0 1373.0,137.8 1377.0,136.6 1381.0,135.4 1385.0,134.3 1389.0,133.2 1393.0,132.2 1397.0,131.2 1401.0,130.2 1405.0,129.3 1409.0,128.5 1413.0,127.7 1417.0,127.0 1421.0,126.4 1425.0,125.8 1429.0,125.3 1433.0,124.8 1437.0,124.4 1441.0,124.1 1445.0,123.8 1449.0,123.6 1453.0,123.4 1457.0,123.2 1461.0,123.1 1465.0,123.1 1469.0,123.1 1473.0,123.1 1477.0,123.2 1481.0,123.4 1485.0,123.6 1489.0,123.9 1493.0,124.2 1497.0,124.6 1501.0,125.1 1505.0,125.6 1509.0,126.2 1513.0,126.8 1517.0,127.5 1521.0,128.3 1525.0,129.1 1529.0,130.0 1533.0,130.9 1537.0,131.9 1541.0,133.0 1545.0,134.1 1549.0,135.3 1553.0,136.6 1557.0,137.9 1561.0,139.3 1565.1,140.8 1569.1,142.3 1573.1,143.9 1577.1,145.5 1581.1,147.1 1585.1,148.8 1589.1,150.6 1593.1,152.4 1597.1,154.2 1601.1,156.1 1605.1,158.0 1609.1,160.0 1613.1,162.0 1617.1,164.0 1621.1,166.1 1625.1,168.2 1629.1,170.3 1633.1,172.5 1637.1,174.7 1641.1,177.0 1645.1,179.3 1649.1,181.6 1653.1,184.0 1657.1,186.4 1661.1,188.8 1665.1,191.3 1669.1,193.8 1673.1,196.4 1677.1,199.0 1681.1,201.6 1685.1,204.3 1689.1,207.0 1693.1,209.8 1697.1,212.6 1701.1,215.4 1705.1,218.3 1709.1,221.1 1713.1,224.0 1717.1,226.9 1721.1,229.9 1725.1,232.8" fill="none" stroke="#EE9238" stroke-width="4.06" stroke-linecap="square" stroke-linejoin="round" stroke-opacity="0.32"/>
<polyline points="1084.9,333.4 1088.9,328.9 1092.9,324.6 1096.9,320.3 1100.9,316.0 1104.9,311.8 1108.9,307.7 1112.9,303.6 1116.9,299.5 1120.9,295.5 1124.9,291.6 1128.9,287.7 1132.9,283.9 1136.9,280.1 1140.9,276.3 1144.9,272.6 1148.9,269.0 1152.9,265.5 1156.9,262.0 1160.9,258.6 1164.9,255.2 1168.9,251.9 1172.9,248.7 1176.9,245.4 1180.9,242.3 1184.9,239.1 1188.9,236.0 1192.9,232.9 1196.9,229.9 1200.9,226.8 1204.9,223.8 1208.9,220.8 1212.9,217.8 1216.9,214.9 1220.9,212.0 1224.9,209.1 1228.9,206.2 1232.9,203.4 1236.9,200.6 1240.9,197.9 1245.0,195.2 1249.0,192.6 1253.0,190.0 1257.0,187.5 1261.0,185.1 1265.0,182.7 1269.0,180.4 1273.0,178.2 1277.0,176.0 1281.0,173.8 1285.0,171.7 1289.0,169.7 1293.0,167.7 1297.0,165.8 1301.0,163.9 1305.0,162.0 1309.0,160.2 1313.0,158.5 1317.0,156.7 1321.0,155.0 1325.0,153.4 1329.0,151.8 1333.0,150.2 1337.0,148.7 1341.0,147.2 1345.0,145.7 1349.0,144.3 1353.0,143.0 1357.0,141.6 1361.0,140.3 1365.0,139.1 1369.0,137.8 1373.0,136.6 1377.0,135.5 1381.0,134.3 1385.0,133.2 1389.0,132.2 1393.0,131.1 1397.0,130.2 1401.0,129.3 1405.0,128.4 1409.0,127.5 1413.0,126.8 1417.0,126.1 1421.0,125.4 1425.0,124.8 1429.0,124.3 1433.0,123.9 1437.0,123.5 1441.0,123.1 1445.0,122.8 1449.0,122.5 1453.0,122.3 1457.0,122.1 1461.0,122.0 1465.0,121.9 1469.0,121.9 1473.0,121.9 1477.0,122.0 1481.0,122.1 1485.0,122.3 1489.0,122.6 1493.0,122.9 1497.0,123.3 1501.0,123.7 1505.0,124.2 1509.0,124.8 1513.0,125.5 1517.0,126.2 1521.0,127.0 1525.0,127.9 1529.0,128.8 1533.0,129.8 1537.0,130.8 1541.0,132.0 1545.0,133.1 1549.0,134.4 1553.0,135.7 1557.0,137.1 1561.0,138.5 1565.1,140.0 1569.1,141.6 1573.1,143.2 1577.1,144.8 1581.1,146.5 1585.1,148.2 1589.1,150.0 1593.1,151.8 1597.1,153.6 1601.1,155.5 1605.1,157.4 1609.1,159.3 1613.1,161.3 1617.1,163.3 1621.1,165.4 1625.1,167.4 1629.1,169.5 1633.1,171.7 1637.1,173.9 1641.1,176.1 1645.1,178.4 1649.1,180.7 1653.1,183.0 1657.1,185.4 1661.1,187.8 1665.1,190.2 1669.1,192.7 1673.1,195.2 1677.1,197.8 1681.1,200.3 1685.1,203.0 1689.1,205.6 1693.1,208.3 1697.1,211.0 1701.1,213.7 1705.1,216.5 1709.1,219.2 1713.1,222.0 1717.1,224.7 1721.1,227.5 1725.1,230.3" fill="none" stroke="#EE9238" stroke-width="4.06" stroke-linecap="square" stroke-linejoin="round" stroke-opacity="0.32"/>
<polyline points="1084.9,338.9 1088.9,335.0 1092.9,331.2 1096.9,327.4 1100.9,323.6 1104.9,320.0 1108.9,316.3 1112.9,312.7 1116.9,309.1 1120.9,305.6 1124.9,302.0 1128.9,298.5 1132.9,295.0 1136.9,291.6 1140.9,288.1 1144.9,284.7 1148.9,281.3 1152.9,277.9 1156.9,274.5 1160.9,271.2 1164.9,267.9 1168.9,264.6 1172.9,261.3 1176.9,258.1 1180.9,254.9 1184.9,251.7 1188.9,248.6 1192.9,245.4 1196.9,242.3 1200.9,239.3 1204.9,236.2 1208.9,233.2 1212.9,230.1 1216.9,227.1 1220.9,224.2 1224.9,221.2 1228.9,218.3 1232.9,215.4 1236.9,212.6 1240.9,209.8 1245.0,207.1 1249.0,204.4 1253.0,201.7 1257.0,199.1 1261.0,196.5 1265.0,194.0 1269.0,191.5 1273.0,189.0 1277.0,186.6 1281.0,184.2 1285.0,181.9 1289.0,179.6 1293.0,177.3 1297.0,175.0 1301.0,172.8 1305.0,170.6 1309.0,168.5 1313.0,166.4 1317.0,164.3 1321.0,162.2 1325.0,160.2 1329.0,158.2 1333.0,156.3 1337.0,154.3 1341.0,152.4 1345.0,150.5 1349.0,148.7 1353.0,146.8 1357.0,145.0 1361.0,143.3 1365.0,141.5 1369.0,139.8 1373.0,138.2 1377.0,136.6 1381.0,135.0 1385.0,133.5 1389.0,132.0 1393.0,130.6 1397.0,129.3 1401.0,128.0 1405.0,126.8 1409.0,125.7 1413.0,124.6 1417.0,123.6 1421.0,122.7 1425.0,121.8 1429.0,120.9 1433.0,120.1 1437.0,119.4 1441.0,118.7 1445.0,118.0 1449.0,117.4 1453.0,116.9 1457.0,116.3 1461.0,115.9 1465.0,115.5 1469.0,115.2 1473.0,114.9 1477.0,114.7 1481.0,114.6 1485.0,114.5 1489.0,114.6 1493.0,114.6 1497.0,114.8 1501.0,115.0 1505.0,115.3 1509.0,115.6 1513.0,116.0 1517.0,116.5 1521.0,117.0 1525.0,117.6 1529.0,118.3 1533.0,119.0 1537.0,119.8 1541.0,120.7 1545.0,121.6 1549.0,122.6 1553.0,123.6 1557.0,124.7 1561.0,125.9 1565.1,127.1 1569.1,128.4 1573.1,129.7 1577.1,131.0 1581.1,132.5 1585.1,133.9 1589.1,135.5 1593.1,137.0 1597.1,138.7 1601.1,140.4 1605.1,142.1 1609.1,143.9 1613.1,145.7 1617.1,147.6 1621.1,149.5 1625.1,151.5 1629.1,153.5 1633.1,155.6 1637.1,157.8 1641.1,160.0 1645.1,162.2 1649.1,164.5 1653.1,166.8 1657.1,169.2 1661.1,171.7 1665.1,174.2 1669.1,176.8 1673.1,179.4 1677.1,182.1 1681.1,184.7 1685.1,187.5 1689.1,190.2 1693.1,193.0 1697.1,195.8 1701.1,198.7 1705.1,201.5 1709.1,204.4 1713.1,207.4 1717.1,210.3 1721.1,213.3 1725.1,216.2" fill="none" stroke="#D9501E" stroke-width="4.06" stroke-linecap="square" stroke-linejoin="round" stroke-opacity="0.32"/>
<polyline points="1084.9,338.2 1088.9,334.2 1092.9,330.2 1096.9,326.3 1100.9,322.5 1104.9,318.7 1108.9,315.0 1112.9,311.3 1116.9,307.6 1120.9,303.9 1124.9,300.3 1128.9,296.7 1132.9,293.2 1136.9,289.6 1140.9,286.1 1144.9,282.6 1148.9,279.2 1152.9,275.8 1156.9,272.4 1160.9,269.0 1164.9,265.7 1168.9,262.4 1172.9,259.2 1176.9,256.0 1180.9,252.8 1184.9,249.6 1188.9,246.5 1192.9,243.4 1196.9,240.4 1200.9,237.3 1204.9,234.3 1208.9,231.3 1212.9,228.2 1216.9,225.3 1220.9,222.3 1224.9,219.3 1228.9,216.4 1232.9,213.6 1236.9,210.7 1240.9,207.9 1245.0,205.2 1249.0,202.5 1253.0,199.8 1257.0,197.2 1261.0,194.6 1265.0,192.1 1269.0,189.6 1273.0,187.1 1277.0,184.7 1281.0,182.4 1285.0,180.1 1289.0,177.8 1293.0,175.6 1297.0,173.4 1301.0,171.2 1305.0,169.1 1309.0,167.0 1313.0,165.0 1317.0,163.0 1321.0,161.0 1325.0,159.0 1329.0,157.1 1333.0,155.2 1337.0,153.3 1341.0,151.5 1345.0,149.7 1349.0,147.8 1353.0,146.0 1357.0,144.3 1361.0,142.5 1365.0,140.8 1369.0,139.1 1373.0,137.4 1377.0,135.8 1381.0,134.2 1385.0,132.7 1389.0,131.2 1393.0,129.7 1397.0,128.3 1401.0,127.0 1405.0,125.8 1409.0,124.6 1413.0,123.5 1417.0,122.5 1421.0,121.5 1425.0,120.6 1429.0,119.7 1433.0,118.9 1437.0,118.2 1441.0,117.5 1445.0,116.9 1449.0,116.3 1453.0,115.7 1457.0,115.3 1461.0,114.9 1465.0,114.5 1469.0,114.2 1473.0,114.0 1477.0,113.8 1481.0,113.7 1485.0,113.6 1489.0,113.6 1493.0,113.7 1497.0,113.8 1501.0,114.0 1505.0,114.2 1509.0,114.6 1513.0,114.9 1517.0,115.4 1521.0,115.9 1525.0,116.4 1529.0,117.1 1533.0,117.8 1537.0,118.6 1541.0,119.4 1545.0,120.3 1549.0,121.3 1553.0,122.4 1557.0,123.5 1561.0,124.7 1565.1,125.9 1569.1,127.2 1573.1,128.6 1577.1,130.1 1581.1,131.6 1585.1,133.1 1589.1,134.8 1593.1,136.4 1597.1,138.1 1601.1,139.9 1605.1,141.7 1609.1,143.6 1613.1,145.4 1617.1,147.4 1621.1,149.3 1625.1,151.3 1629.1,153.4 1633.1,155.4 1637.1,157.5 1641.1,159.6 1645.1,161.8 1649.1,164.0 1653.1,166.3 1657.1,168.6 1661.1,170.9 1665.1,173.3 1669.1,175.7 1673.1,178.2 1677.1,180.7 1681.1,183.2 1685.1,185.8 1689.1,188.5 1693.1,191.1 1697.1,193.8 1701.1,196.6 1705.1,199.3 1709.1,202.1 1713.1,205.0 1717.1,207.8 1721.1,210.7 1725.1,213.6" fill="none" stroke="#D9501E" stroke-width="4.06" stroke-linecap="square" stroke-linejoin="round" stroke-opacity="0.32"/>
<polyline points="1084.9,337.4 1088.9,333.4 1092.9,329.4 1096.9,325.5 1100.9,321.6 1104.9,317.7 1108.9,313.9 1112.9,310.2 1116.9,306.4 1120.9,302.7 1124.9,299.1 1128.9,295.4 1132.9,291.8 1136.9,288.2 1140.9,284.6 1144.9,281.1 1148.9,277.6 1152.9,274.1 1156.9,270.6 1160.9,267.2 1164.9,263.9 1168.9,260.5 1172.9,257.3 1176.9,254.0 1180.9,250.8 1184.9,247.7 1188.9,244.6 1192.9,241.5 1196.9,238.4 1200.9,235.4 1204.9,232.4 1208.9,229.4 1212.9,226.4 1216.9,223.5 1220.9,220.6 1224.9,217.7 1228.9,214.8 1232.9,212.0 1236.9,209.2 1240.9,206.4 1245.0,203.7 1249.0,201.0 1253.0,198.4 1257.0,195.8 1261.0,193.2 1265.0,190.7 1269.0,188.2 1273.0,185.7 1277.0,183.3 1281.0,180.9 1285.0,178.5 1289.0,176.2 1293.0,174.0 1297.0,171.7 1301.0,169.5 1305.0,167.4 1309.0,165.3 1313.0,163.2 1317.0,161.2 1321.0,159.2 1325.0,157.3 1329.0,155.4 1333.0,153.6 1337.0,151.7 1341.0,150.0 1345.0,148.2 1349.0,146.5 1353.0,144.8 1357.0,143.1 1361.0,141.5 1365.0,139.9 1369.0,138.3 1373.0,136.7 1377.0,135.1 1381.0,133.6 1385.0,132.1 1389.0,130.7 1393.0,129.3 1397.0,127.9 1401.0,126.6 1405.0,125.3 1409.0,124.1 1413.0,123.0 1417.0,121.9 1421.0,120.8 1425.0,119.8 1429.0,118.9 1433.0,118.0 1437.0,117.2 1441.0,116.4 1445.0,115.7 1449.0,115.1 1453.0,114.5 1457.0,114.0 1461.0,113.6 1465.0,113.3 1469.0,113.0 1473.0,112.8 1477.0,112.6 1481.0,112.6 1485.0,112.6 1489.0,112.7 1493.0,112.8 1497.0,113.0 1501.0,113.3 1505.0,113.7 1509.0,114.1 1513.0,114.5 1517.0,115.0 1521.0,115.6 1525.0,116.2 1529.0,116.9 1533.0,117.6 1537.0,118.4 1541.0,119.2 1545.0,120.0 1549.0,121.0 1553.0,122.0 1557.0,123.0 1561.0,124.1 1565.1,125.3 1569.1,126.5 1573.1,127.8 1577.1,129.1 1581.1,130.5 1585.1,132.0 1589.1,133.6 1593.1,135.2 1597.1,136.8 1601.1,138.6 1605.1,140.4 1609.1,142.3 1613.1,144.2 1617.1,146.1 1621.1,148.2 1625.1,150.2 1629.1,152.3 1633.1,154.5 1637.1,156.7 1641.1,158.9 1645.1,161.1 1649.1,163.4 1653.1,165.7 1657.1,168.0 1661.1,170.4 1665.1,172.7 1669.1,175.1 1673.1,177.5 1677.1,179.9 1681.1,182.3 1685.1,184.8 1689.1,187.2 1693.1,189.7 1697.1,192.2 1701.1,194.8 1705.1,197.3 1709.1,199.9 1713.1,202.5 1717.1,205.2 1721.1,207.9 1725.1,210.6" fill="none" stroke="#D9501E" stroke-width="4.06" stroke-linecap="square" stroke-linejoin="round" stroke-opacity="0.32"/>
<polyline points="1084.9,336.7 1088.9,332.6 1092.9,328.6 1096.9,324.6 1100.9,320.6 1104.9,316.8 1108.9,312.9 1112.9,309.1 1116.9,305.4 1120.9,301.6 1124.9,298.0 1128.9,294.3 1132.9,290.7 1136.9,287.1 1140.9,283.5 1144.9,280.0 1148.9,276.5 1152.9,273.0 1156.9,269.6 1160.9,266.2 1164.9,262.8 1168.9,259.5 1172.9,256.2 1176.9,252.9 1180.9,249.7 1184.9,246.5 1188.9,243.4 1192.9,240.2 1196.9,237.1 1200.9,234.0 1204.9,231.0 1208.9,227.9 1212.9,224.9 1216.9,221.9 1220.9,218.9 1224.9,216.0 1228.9,213.1 1232.9,210.2 1236.9,207.4 1240.9,204.6 1245.0,201.9 1249.0,199.2 1253.0,196.5 1257.0,194.0 1261.0,191.4 1265.0,188.9 1269.0,186.5 1273.0,184.1 1277.0,181.7 1281.0,179.3 1285.0,177.0 1289.0,174.8 1293.0,172.6 1297.0,170.4 1301.0,168.2 1305.0,166.1 1309.0,164.0 1313.0,162.0 1317.0,159.9 1321.0,158.0 1325.0,156.0 1329.0,154.1 1333.0,152.2 1337.0,150.4 1341.0,148.6 1345.0,146.8 1349.0,145.1 1353.0,143.3 1357.0,141.7 1361.0,140.0 1365.0,138.4 1369.0,136.9 1373.0,135.3 1377.0,133.8 1381.0,132.4 1385.0,131.0 1389.0,129.6 1393.0,128.3 1397.0,127.0 1401.0,125.8 1405.0,124.7 1409.0,123.6 1413.0,122.6 1417.0,121.6 1421.0,120.6 1425.0,119.7 1429.0,118.9 1433.0,118.1 1437.0,117.3 1441.0,116.6 1445.0,116.0 1449.0,115.4 1453.0,114.8 1457.0,114.3 1461.0,113.8 1465.0,113.4 1469.0,113.0 1473.0,112.8 1477.0,112.5 1481.0,112.4 1485.0,112.3 1489.0,112.3 1493.0,112.3 1497.0,112.5 1501.0,112.7 1505.0,112.9 1509.0,113.3 1513.0,113.7 1517.0,114.2 1521.0,114.7 1525.0,115.4 1529.0,116.1 1533.0,116.8 1537.0,117.6 1541.0,118.5 1545.0,119.4 1549.0,120.4 1553.0,121.4 1557.0,122.5 1561.0,123.7 1565.1,124.9 1569.1,126.1 1573.1,127.4 1577.1,128.8 1581.1,130.2 1585.1,131.6 1589.1,133.1 1593.1,134.6 1597.1,136.2 1601.1,137.8 1605.1,139.5 1609.1,141.2 1613.1,143.0 1617.1,144.8 1621.1,146.7 1625.1,148.6 1629.1,150.6 1633.1,152.6 1637.1,154.7 1641.1,156.8 1645.1,159.0 1649.1,161.2 1653.1,163.5 1657.1,165.8 1661.1,168.2 1665.1,170.6 1669.1,173.0 1673.1,175.5 1677.1,178.0 1681.1,180.6 1685.1,183.1 1689.1,185.7 1693.1,188.3 1697.1,190.9 1701.1,193.5 1705.1,196.1 1709.1,198.8 1713.1,201.4 1717.1,204.1 1721.1,206.7 1725.1,209.4" fill="none" stroke="#D9501E" stroke-width="4.06" stroke-linecap="square" stroke-linejoin="round" stroke-opacity="0.32"/>
<polyline points="1084.9,336.4 1088.9,332.2 1092.9,328.2 1096.9,324.1 1100.9,320.2 1104.9,316.2 1108.9,312.3 1112.9,308.5 1116.9,304.7 1120.9,300.9 1124.9,297.1 1128.9,293.4 1132.9,289.7 1136.9,286.1 1140.9,282.4 1144.9,278.8 1148.9,275.3 1152.9,271.8 1156.9,268.3 1160.9,264.9 1164.9,261.5 1168.9,258.1 1172.9,254.8 1176.9,251.6 1180.9,248.4 1184.9,245.2 1188.9,242.1 1192.9,239.0 1196.9,235.9 1200.9,232.9 1204.9,229.9 1208.9,226.9 1212.9,223.9 1216.9,220.9 1220.9,218.0 1224.9,215.1 1228.9,212.2 1232.9,209.4 1236.9,206.6 1240.9,203.8 1245.0,201.1 1249.0,198.4 1253.0,195.8 1257.0,193.2 1261.0,190.6 1265.0,188.1 1269.0,185.6 1273.0,183.1 1277.0,180.7 1281.0,178.4 1285.0,176.0 1289.0,173.8 1293.0,171.5 1297.0,169.3 1301.0,167.2 1305.0,165.1 1309.0,163.0 1313.0,161.0 1317.0,159.0 1321.0,157.0 1325.0,155.2 1329.0,153.3 1333.0,151.5 1337.0,149.7 1341.0,148.0 1345.0,146.3 1349.0,144.7 1353.0,143.0 1357.0,141.4 1361.0,139.8 1365.0,138.3 1369.0,136.8 1373.0,135.3 1377.0,133.8 1381.0,132.3 1385.0,130.9 1389.0,129.5 1393.0,128.1 1397.0,126.8 1401.0,125.6 1405.0,124.3 1409.0,123.1 1413.0,122.0 1417.0,120.9 1421.0,119.9 1425.0,118.9 1429.0,118.0 1433.0,117.2 1437.0,116.4 1441.0,115.6 1445.0,114.9 1449.0,114.3 1453.0,113.8 1457.0,113.3 1461.0,112.8 1465.0,112.5 1469.0,112.2 1473.0,112.0 1477.0,111.8 1481.0,111.7 1485.0,111.7 1489.0,111.8 1493.0,111.9 1497.0,112.1 1501.0,112.4 1505.0,112.7 1509.0,113.1 1513.0,113.5 1517.0,114.0 1521.0,114.6 1525.0,115.2 1529.0,115.8 1533.0,116.5 1537.0,117.3 1541.0,118.1 1545.0,118.9 1549.0,119.8 1553.0,120.8 1557.0,121.8 1561.0,122.9 1565.1,124.1 1569.1,125.3 1573.1,126.5 1577.1,127.9 1581.1,129.2 1585.1,130.7 1589.1,132.2 1593.1,133.8 1597.1,135.5 1601.1,137.2 1605.1,138.9 1609.1,140.8 1613.1,142.7 1617.1,144.6 1621.1,146.6 1625.1,148.6 1629.1,150.7 1633.1,152.8 1637.1,155.0 1641.1,157.1 1645.1,159.3 1649.1,161.6 1653.1,163.8 1657.1,166.1 1661.1,168.4 1665.1,170.7 1669.1,173.0 1673.1,175.4 1677.1,177.7 1681.1,180.1 1685.1,182.5 1689.1,184.9 1693.1,187.3 1697.1,189.7 1701.1,192.2 1705.1,194.7 1709.1,197.1 1713.1,199.7 1717.1,202.2 1721.1,204.8 1725.1,207.4" fill="none" stroke="#D9501E" stroke-width="4.06" stroke-linecap="square" stroke-linejoin="round" stroke-opacity="0.32"/>
<polyline points="1084.9,335.7 1088.9,331.5 1092.9,327.3 1096.9,323.2 1100.9,319.2 1104.9,315.2 1108.9,311.3 1112.9,307.4 1116.9,303.6 1120.9,299.8 1124.9,296.1 1128.9,292.4 1132.9,288.7 1136.9,285.1 1140.9,281.5 1144.9,277.9 1148.9,274.4 1152.9,270.9 1156.9,267.5 1160.9,264.1 1164.9,260.8 1168.9,257.5 1172.9,254.2 1176.9,251.0 1180.9,247.8 1184.9,244.7 1188.9,241.6 1192.9,238.5 1196.9,235.4 1200.9,232.3 1204.9,229.3 1208.9,226.3 1212.9,223.3 1216.9,220.3 1220.9,217.3 1224.9,214.4 1228.9,211.5 1232.9,208.6 1236.9,205.7 1240.9,203.0 1245.0,200.2 1249.0,197.5 1253.0,194.9 1257.0,192.3 1261.0,189.7 1265.0,187.2 1269.0,184.7 1273.0,182.3 1277.0,180.0 1281.0,177.6 1285.0,175.4 1289.0,173.1 1293.0,170.9 1297.0,168.7 1301.0,166.6 1305.0,164.5 1309.0,162.4 1313.0,160.4 1317.0,158.4 1321.0,156.4 1325.0,154.5 1329.0,152.6 1333.0,150.7 1337.0,148.9 1341.0,147.1 1345.0,145.3 1349.0,143.6 1353.0,141.8 1357.0,140.2 1361.0,138.5 1365.0,136.9 1369.0,135.3 1373.0,133.7 1377.0,132.2 1381.0,130.7 1385.0,129.3 1389.0,127.9 1393.0,126.6 1397.0,125.3 1401.0,124.1 1405.0,122.9 1409.0,121.9 1413.0,120.8 1417.0,119.8 1421.0,118.9 1425.0,118.1 1429.0,117.3 1433.0,116.5 1437.0,115.9 1441.0,115.2 1445.0,114.6 1449.0,114.1 1453.0,113.6 1457.0,113.2 1461.0,112.8 1465.0,112.4 1469.0,112.2 1473.0,111.9 1477.0,111.8 1481.0,111.6 1485.0,111.6 1489.0,111.6 1493.0,111.7 1497.0,111.9 1501.0,112.1 1505.0,112.4 1509.0,112.8 1513.0,113.2 1517.0,113.7 1521.0,114.3 1525.0,114.9 1529.0,115.6 1533.0,116.4 1537.0,117.2 1541.0,118.1 1545.0,119.0 1549.0,120.1 1553.0,121.1 1557.0,122.3 1561.0,123.5 1565.1,124.7 1569.1,126.0 1573.1,127.3 1577.1,128.7 1581.1,130.1 1585.1,131.6 1589.1,133.1 1593.1,134.6 1597.1,136.2 1601.1,137.8 1605.1,139.5 1609.1,141.2 1613.1,142.9 1617.1,144.6 1621.1,146.4 1625.1,148.3 1629.1,150.1 1633.1,152.0 1637.1,154.0 1641.1,155.9 1645.1,158.0 1649.1,160.0 1653.1,162.1 1657.1,164.3 1661.1,166.4 1665.1,168.7 1669.1,170.9 1673.1,173.2 1677.1,175.6 1681.1,177.9 1685.1,180.4 1689.1,182.8 1693.1,185.3 1697.1,187.8 1701.1,190.3 1705.1,192.8 1709.1,195.3 1713.1,197.9 1717.1,200.5 1721.1,203.0 1725.1,205.6" fill="none" stroke="#D9501E" stroke-width="4.06" stroke-linecap="square" stroke-linejoin="round" stroke-opacity="0.32"/>
<polyline points="1084.9,335.3 1088.9,331.0 1092.9,326.8 1096.9,322.6 1100.9,318.5 1104.9,314.5 1108.9,310.5 1112.9,306.6 1116.9,302.7 1120.9,298.8 1124.9,295.0 1128.9,291.2 1132.9,287.5 1136.9,283.8 1140.9,280.1 1144.9,276.5 1148.9,272.9 1152.9,269.4 1156.9,265.9 1160.9,262.5 1164.9,259.2 1168.9,255.8 1172.9,252.6 1176.9,249.3 1180.9,246.1 1184.9,243.0 1188.9,239.8 1192.9,236.7 1196.9,233.6 1200.9,230.6 1204.9,227.5 1208.9,224.5 1212.9,221.4 1216.9,218.4 1220.9,215.5 1224.9,212.5 1228.9,209.6 1232.9,206.7 1236.9,203.9 1240.9,201.1 1245.0,198.3 1249.0,195.6 1253.0,193.0 1257.0,190.4 1261.0,187.8 1265.0,185.4 1269.0,182.9 1273.0,180.5 1277.0,178.2 1281.0,175.9 1285.0,173.7 1289.0,171.5 1293.0,169.3 1297.0,167.2 1301.0,165.2 1305.0,163.1 1309.0,161.1 1313.0,159.2 1317.0,157.3 1321.0,155.4 1325.0,153.5 1329.0,151.7 1333.0,149.9 1337.0,148.1 1341.0,146.4 1345.0,144.7 1349.0,143.0 1353.0,141.4 1357.0,139.8 1361.0,138.2 1365.0,136.6 1369.0,135.1 1373.0,133.5 1377.0,132.1 1381.0,130.6 1385.0,129.2 1389.0,127.8 1393.0,126.5 1397.0,125.3 1401.0,124.0 1405.0,122.9 1409.0,121.8 1413.0,120.7 1417.0,119.7 1421.0,118.8 1425.0,117.9 1429.0,117.1 1433.0,116.3 1437.0,115.6 1441.0,114.9 1445.0,114.3 1449.0,113.7 1453.0,113.2 1457.0,112.7 1461.0,112.3 1465.0,111.9 1469.0,111.6 1473.0,111.3 1477.0,111.1 1481.0,111.0 1485.0,110.9 1489.0,110.8 1493.0,110.8 1497.0,110.9 1501.0,111.1 1505.0,111.3 1509.0,111.6 1513.0,112.0 1517.0,112.4 1521.0,113.0 1525.0,113.5 1529.0,114.2 1533.0,114.9 1537.0,115.7 1541.0,116.5 1545.0,117.5 1549.0,118.4 1553.0,119.5 1557.0,120.6 1561.0,121.8 1565.1,123.1 1569.1,124.4 1573.1,125.8 1577.1,127.2 1581.1,128.6 1585.1,130.2 1589.1,131.7 1593.1,133.3 1597.1,135.0 1601.1,136.6 1605.1,138.4 1609.1,140.1 1613.1,141.9 1617.1,143.7 1621.1,145.6 1625.1,147.5 1629.1,149.4 1633.1,151.3 1637.1,153.3 1641.1,155.4 1645.1,157.4 1649.1,159.5 1653.1,161.6 1657.1,163.8 1661.1,166.0 1665.1,168.2 1669.1,170.5 1673.1,172.8 1677.1,175.1 1681.1,177.4 1685.1,179.8 1689.1,182.2 1693.1,184.7 1697.1,187.1 1701.1,189.6 1705.1,192.1 1709.1,194.6 1713.1,197.1 1717.1,199.6 1721.1,202.1 1725.1,204.6" fill="none" stroke="#D9501E" stroke-width="4.06" stroke-linecap="square" stroke-linejoin="round" stroke-opacity="0.32"/>
<polyline points="1084.9,334.4 1088.9,330.1 1092.9,325.8 1096.9,321.6 1100.9,317.5 1104.9,313.3 1108.9,309.3 1112.9,305.3 1116.9,301.3 1120.9,297.4 1124.9,293.5 1128.9,289.6 1132.9,285.8 1136.9,282.1 1140.9,278.4 1144.9,274.7 1148.9,271.1 1152.9,267.6 1156.9,264.1 1160.9,260.7 1164.9,257.3 1168.9,254.0 1172.9,250.7 1176.9,247.5 1180.9,244.3 1184.9,241.2 1188.9,238.1 1192.9,235.0 1196.9,232.0 1200.9,228.9 1204.9,225.9 1208.9,222.9 1212.9,219.9 1216.9,217.0 1220.9,214.0 1224.9,211.1 1228.9,208.2 1232.9,205.4 1236.9,202.5 1240.9,199.8 1245.0,197.0 1249.0,194.3 1253.0,191.7 1257.0,189.1 1261.0,186.5 1265.0,184.0 1269.0,181.5 1273.0,179.1 1277.0,176.8 1281.0,174.5 1285.0,172.2 1289.0,170.0 1293.0,167.8 1297.0,165.7 1301.0,163.6 1305.0,161.6 1309.0,159.6 1313.0,157.7 1317.0,155.7 1321.0,153.9 1325.0,152.0 1329.0,150.2 1333.0,148.5 1337.0,146.8 1341.0,145.1 1345.0,143.4 1349.0,141.8 1353.0,140.2 1357.0,138.6 1361.0,137.1 1365.0,135.5 1369.0,134.0 1373.0,132.5 1377.0,131.1 1381.0,129.6 1385.0,128.2 1389.0,126.8 1393.0,125.5 1397.0,124.2 1401.0,122.9 1405.0,121.7 1409.0,120.6 1413.0,119.5 1417.0,118.4 1421.0,117.4 1425.0,116.5 1429.0,115.7 1433.0,114.9 1437.0,114.2 1441.0,113.5 1445.0,112.9 1449.0,112.4 1453.0,111.9 1457.0,111.5 1461.0,111.1 1465.0,110.8 1469.0,110.5 1473.0,110.3 1477.0,110.2 1481.0,110.1 1485.0,110.1 1489.0,110.1 1493.0,110.2 1497.0,110.4 1501.0,110.6 1505.0,110.9 1509.0,111.3 1513.0,111.7 1517.0,112.2 1521.0,112.7 1525.0,113.3 1529.0,114.0 1533.0,114.7 1537.0,115.5 1541.0,116.3 1545.0,117.2 1549.0,118.2 1553.0,119.2 1557.0,120.3 1561.0,121.4 1565.1,122.7 1569.1,124.0 1573.1,125.3 1577.1,126.7 1581.1,128.2 1585.1,129.7 1589.1,131.2 1593.1,132.8 1597.1,134.5 1601.1,136.2 1605.1,137.9 1609.1,139.7 1613.1,141.5 1617.1,143.3 1621.1,145.2 1625.1,147.1 1629.1,149.0 1633.1,150.9 1637.1,152.9 1641.1,154.9 1645.1,156.9 1649.1,158.9 1653.1,161.0 1657.1,163.0 1661.1,165.1 1665.1,167.2 1669.1,169.3 1673.1,171.4 1677.1,173.6 1681.1,175.8 1685.1,178.0 1689.1,180.2 1693.1,182.4 1697.1,184.7 1701.1,187.0 1705.1,189.3 1709.1,191.7 1713.1,194.0 1717.1,196.4 1721.1,198.8 1725.1,201.2" fill="none" stroke="#D9501E" stroke-width="4.06" stroke-linecap="square" stroke-linejoin="round" stroke-opacity="0.32"/>
<polyline points="1084.9,333.5 1088.9,329.1 1092.9,324.7 1096.9,320.5 1100.9,316.3 1104.9,312.1 1108.9,308.0 1112.9,304.0 1116.9,300.0 1120.9,296.0 1124.9,292.1 1128.9,288.3 1132.9,284.5 1136.9,280.7 1140.9,277.0 1144.9,273.4 1148.9,269.7 1152.9,266.2 1156.9,262.7 1160.9,259.3 1164.9,255.9 1168.9,252.6 1172.9,249.3 1176.9,246.0 1180.9,242.8 1184.9,239.6 1188.9,236.5 1192.9,233.4 1196.9,230.2 1200.9,227.2 1204.9,224.1 1208.9,221.0 1212.9,218.0 1216.9,215.0 1220.9,212.0 1224.9,209.1 1228.9,206.2 1232.9,203.3 1236.9,200.4 1240.9,197.6 1245.0,194.9 1249.0,192.2 1253.0,189.6 1257.0,187.0 1261.0,184.5 1265.0,182.0 1269.0,179.6 1273.0,177.2 1277.0,174.9 1281.0,172.6 1285.0,170.4 1289.0,168.2 1293.0,166.0 1297.0,163.9 1301.0,161.8 1305.0,159.8 1309.0,157.8 1313.0,155.8 1317.0,153.8 1321.0,151.9 1325.0,150.0 1329.0,148.2 1333.0,146.4 1337.0,144.7 1341.0,143.0 1345.0,141.3 1349.0,139.7 1353.0,138.1 1357.0,136.5 1361.0,135.0 1365.0,133.6 1369.0,132.1 1373.0,130.7 1377.0,129.4 1381.0,128.0 1385.0,126.7 1389.0,125.5 1393.0,124.3 1397.0,123.2 1401.0,122.0 1405.0,121.0 1409.0,119.9 1413.0,118.9 1417.0,118.0 1421.0,117.1 1425.0,116.3 1429.0,115.6 1433.0,114.8 1437.0,114.2 1441.0,113.5 1445.0,112.9 1449.0,112.4 1453.0,111.9 1457.0,111.4 1461.0,111.0 1465.0,110.7 1469.0,110.3 1473.0,110.1 1477.0,109.9 1481.0,109.7 1485.0,109.6 1489.0,109.6 1493.0,109.7 1497.0,109.8 1501.0,110.0 1505.0,110.3 1509.0,110.7 1513.0,111.1 1517.0,111.6 1521.0,112.2 1525.0,112.8 1529.0,113.5 1533.0,114.3 1537.0,115.1 1541.0,116.0 1545.0,117.0 1549.0,118.0 1553.0,119.0 1557.0,120.1 1561.0,121.3 1565.1,122.5 1569.1,123.7 1573.1,125.0 1577.1,126.3 1581.1,127.7 1585.1,129.0 1589.1,130.5 1593.1,131.9 1597.1,133.4 1601.1,134.9 1605.1,136.5 1609.1,138.0 1613.1,139.7 1617.1,141.3 1621.1,143.0 1625.1,144.8 1629.1,146.6 1633.1,148.4 1637.1,150.3 1641.1,152.2 1645.1,154.2 1649.1,156.2 1653.1,158.3 1657.1,160.4 1661.1,162.5 1665.1,164.6 1669.1,166.8 1673.1,169.0 1677.1,171.3 1681.1,173.5 1685.1,175.8 1689.1,178.1 1693.1,180.4 1697.1,182.8 1701.1,185.1 1705.1,187.4 1709.1,189.7 1713.1,192.0 1717.1,194.3 1721.1,196.6 1725.1,198.9" fill="none" stroke="#D9501E" stroke-width="4.06" stroke-linecap="square" stroke-linejoin="round" stroke-opacity="0.32"/>
<polyline points="1084.9,338.5 1088.9,334.6 1092.9,330.8 1096.9,327.0 1100.9,323.3 1104.9,319.6 1108.9,315.9 1112.9,312.3 1116.9,308.7 1120.9,305.2 1124.9,301.6 1128.9,298.1 1132.9,294.6 1136.9,291.2 1140.9,287.7 1144.9,284.3 1148.9,280.9 1152.9,277.5 1156.9,274.1 1160.9,270.8 1164.9,267.5 1168.9,264.2 1172.9,261.0 1176.9,257.8 1180.9,254.7 1184.9,251.6 1188.9,248.5 1192.9,245.4 1196.9,242.4 1200.9,239.4 1204.9,236.4 1208.9,233.4 1212.9,230.4 1216.9,227.5 1220.9,224.5 1224.9,221.6 1228.9,218.7 1232.9,215.8 1236.9,213.0 1240.9,210.2 1245.0,207.4 1249.0,204.6 1253.0,201.9 1257.0,199.2 1261.0,196.6 1265.0,193.9 1269.0,191.3 1273.0,188.8 1277.0,186.3 1281.0,183.8 1285.0,181.3 1289.0,178.9 1293.0,176.5 1297.0,174.2 1301.0,171.9 1305.0,169.6 1309.0,167.4 1313.0,165.2 1317.0,163.1 1321.0,161.0 1325.0,158.9 1329.0,156.9 1333.0,154.9 1337.0,152.9 1341.0,150.9 1345.0,148.9 1349.0,147.0 1353.0,145.0 1357.0,143.1 1361.0,141.2 1365.0,139.3 1369.0,137.4 1373.0,135.5 1377.0,133.7 1381.0,131.9 1385.0,130.1 1389.0,128.4 1393.0,126.7 1397.0,125.1 1401.0,123.5 1405.0,122.0 1409.0,120.5 1413.0,119.1 1417.0,117.8 1421.0,116.5 1425.0,115.2 1429.0,114.0 1433.0,112.9 1437.0,111.8 1441.0,110.8 1445.0,109.8 1449.0,108.9 1453.0,108.0 1457.0,107.2 1461.0,106.5 1465.0,105.8 1469.0,105.1 1473.0,104.5 1477.0,104.0 1481.0,103.5 1485.0,103.0 1489.0,102.6 1493.0,102.2 1497.0,101.9 1501.0,101.6 1505.0,101.4 1509.0,101.2 1513.0,101.0 1517.0,100.9 1521.0,100.9 1525.0,100.8 1529.0,100.9 1533.0,100.9 1537.0,101.1 1541.0,101.2 1545.0,101.5 1549.0,101.8 1553.0,102.1 1557.0,102.5 1561.0,103.0 1565.1,103.6 1569.1,104.2 1573.1,104.9 1577.1,105.7 1581.1,106.6 1585.1,107.5 1589.1,108.5 1593.1,109.6 1597.1,110.8 1601.1,112.0 1605.1,113.3 1609.1,114.7 1613.1,116.1 1617.1,117.6 1621.1,119.1 1625.1,120.7 1629.1,122.4 1633.1,124.1 1637.1,125.8 1641.1,127.6 1645.1,129.4 1649.1,131.2 1653.1,133.1 1657.1,135.1 1661.1,137.1 1665.1,139.1 1669.1,141.2 1673.1,143.3 1677.1,145.5 1681.1,147.7 1685.1,150.0 1689.1,152.3 1693.1,154.6 1697.1,157.0 1701.1,159.4 1705.1,161.9 1709.1,164.4 1713.1,167.0 1717.1,169.7 1721.1,172.3 1725.1,175.0" fill="none" stroke="#5A342A" stroke-width="4.06" stroke-linecap="square" stroke-linejoin="round" stroke-opacity="0.32"/>
<polyline points="1084.9,337.7 1088.9,333.8 1092.9,329.9 1096.9,326.0 1100.9,322.2 1104.9,318.4 1108.9,314.7 1112.9,311.0 1116.9,307.4 1120.9,303.7 1124.9,300.1 1128.9,296.6 1132.9,293.0 1136.9,289.5 1140.9,286.0 1144.9,282.6 1148.9,279.1 1152.9,275.7 1156.9,272.3 1160.9,269.0 1164.9,265.6 1168.9,262.3 1172.9,259.1 1176.9,255.9 1180.9,252.7 1184.9,249.5 1188.9,246.4 1192.9,243.3 1196.9,240.2 1200.9,237.1 1204.9,234.1 1208.9,231.0 1212.9,228.0 1216.9,225.0 1220.9,222.0 1224.9,219.0 1228.9,216.1 1232.9,213.2 1236.9,210.4 1240.9,207.6 1245.0,204.8 1249.0,202.1 1253.0,199.4 1257.0,196.8 1261.0,194.2 1265.0,191.7 1269.0,189.1 1273.0,186.7 1277.0,184.2 1281.0,181.9 1285.0,179.5 1289.0,177.2 1293.0,174.9 1297.0,172.7 1301.0,170.4 1305.0,168.3 1309.0,166.1 1313.0,164.0 1317.0,161.9 1321.0,159.8 1325.0,157.8 1329.0,155.8 1333.0,153.8 1337.0,151.8 1341.0,149.8 1345.0,147.9 1349.0,145.9 1353.0,144.0 1357.0,142.1 1361.0,140.2 1365.0,138.4 1369.0,136.5 1373.0,134.7 1377.0,133.0 1381.0,131.2 1385.0,129.5 1389.0,127.9 1393.0,126.2 1397.0,124.7 1401.0,123.2 1405.0,121.7 1409.0,120.3 1413.0,119.0 1417.0,117.7 1421.0,116.4 1425.0,115.2 1429.0,114.1 1433.0,112.9 1437.0,111.9 1441.0,110.8 1445.0,109.8 1449.0,108.9 1453.0,107.9 1457.0,107.0 1461.0,106.2 1465.0,105.4 1469.0,104.6 1473.0,103.9 1477.0,103.2 1481.0,102.6 1485.0,102.0 1489.0,101.5 1493.0,101.0 1497.0,100.6 1501.0,100.2 1505.0,99.9 1509.0,99.6 1513.0,99.5 1517.0,99.3 1521.0,99.2 1525.0,99.2 1529.0,99.3 1533.0,99.4 1537.0,99.6 1541.0,99.8 1545.0,100.1 1549.0,100.5 1553.0,100.9 1557.0,101.4 1561.0,102.0 1565.1,102.6 1569.1,103.3 1573.1,104.1 1577.1,104.9 1581.1,105.8 1585.1,106.8 1589.1,107.8 1593.1,108.9 1597.1,110.1 1601.1,111.3 1605.1,112.6 1609.1,113.9 1613.1,115.3 1617.1,116.8 1621.1,118.3 1625.1,119.8 1629.1,121.5 1633.1,123.1 1637.1,124.9 1641.1,126.7 1645.1,128.5 1649.1,130.4 1653.1,132.4 1657.1,134.4 1661.1,136.5 1665.1,138.6 1669.1,140.8 1673.1,143.0 1677.1,145.3 1681.1,147.6 1685.1,149.9 1689.1,152.3 1693.1,154.8 1697.1,157.2 1701.1,159.7 1705.1,162.2 1709.1,164.8 1713.1,167.3 1717.1,169.9 1721.1,172.5 1725.1,175.1" fill="none" stroke="#5A342A" stroke-width="4.06" stroke-linecap="square" stroke-linejoin="round" stroke-opacity="0.32"/>
<polyline points="1084.9,336.9 1088.9,332.9 1092.9,328.9 1096.9,325.0 1100.9,321.2 1104.9,317.3 1108.9,313.6 1112.9,309.8 1116.9,306.1 1120.9,302.5 1124.9,298.8 1128.9,295.2 1132.9,291.7 1136.9,288.1 1140.9,284.6 1144.9,281.1 1148.9,277.6 1152.9,274.2 1156.9,270.8 1160.9,267.5 1164.9,264.1 1168.9,260.8 1172.9,257.6 1176.9,254.3 1180.9,251.1 1184.9,248.0 1188.9,244.8 1192.9,241.7 1196.9,238.6 1200.9,235.5 1204.9,232.4 1208.9,229.4 1212.9,226.3 1216.9,223.3 1220.9,220.3 1224.9,217.3 1228.9,214.4 1232.9,211.5 1236.9,208.6 1240.9,205.8 1245.0,203.0 1249.0,200.3 1253.0,197.6 1257.0,194.9 1261.0,192.3 1265.0,189.7 1269.0,187.2 1273.0,184.7 1277.0,182.3 1281.0,179.9 1285.0,177.5 1289.0,175.2 1293.0,172.9 1297.0,170.7 1301.0,168.5 1305.0,166.3 1309.0,164.1 1313.0,162.0 1317.0,160.0 1321.0,157.9 1325.0,155.9 1329.0,153.9 1333.0,151.9 1337.0,150.0 1341.0,148.0 1345.0,146.1 1349.0,144.2 1353.0,142.4 1357.0,140.5 1361.0,138.7 1365.0,136.9 1369.0,135.1 1373.0,133.4 1377.0,131.7 1381.0,130.0 1385.0,128.4 1389.0,126.8 1393.0,125.2 1397.0,123.7 1401.0,122.3 1405.0,120.9 1409.0,119.6 1413.0,118.3 1417.0,117.0 1421.0,115.9 1425.0,114.7 1429.0,113.6 1433.0,112.5 1437.0,111.5 1441.0,110.5 1445.0,109.6 1449.0,108.7 1453.0,107.8 1457.0,107.0 1461.0,106.1 1465.0,105.4 1469.0,104.6 1473.0,103.9 1477.0,103.3 1481.0,102.7 1485.0,102.1 1489.0,101.6 1493.0,101.1 1497.0,100.7 1501.0,100.3 1505.0,100.0 1509.0,99.8 1513.0,99.6 1517.0,99.4 1521.0,99.3 1525.0,99.3 1529.0,99.3 1533.0,99.4 1537.0,99.5 1541.0,99.7 1545.0,100.0 1549.0,100.3 1553.0,100.7 1557.0,101.2 1561.0,101.7 1565.1,102.3 1569.1,102.9 1573.1,103.7 1577.1,104.4 1581.1,105.3 1585.1,106.2 1589.1,107.2 1593.1,108.2 1597.1,109.3 1601.1,110.4 1605.1,111.6 1609.1,112.9 1613.1,114.3 1617.1,115.7 1621.1,117.1 1625.1,118.6 1629.1,120.2 1633.1,121.8 1637.1,123.5 1641.1,125.3 1645.1,127.1 1649.1,129.0 1653.1,130.9 1657.1,132.9 1661.1,134.9 1665.1,137.0 1669.1,139.2 1673.1,141.4 1677.1,143.7 1681.1,146.0 1685.1,148.3 1689.1,150.7 1693.1,153.1 1697.1,155.6 1701.1,158.1 1705.1,160.6 1709.1,163.2 1713.1,165.7 1717.1,168.3 1721.1,170.9 1725.1,173.5" fill="none" stroke="#5A342A" stroke-width="4.06" stroke-linecap="square" stroke-linejoin="round" stroke-opacity="0.32"/>
<polyline points="1084.9,336.2 1088.9,332.1 1092.9,328.1 1096.9,324.1 1100.9,320.2 1104.9,316.4 1108.9,312.5 1112.9,308.8 1116.9,305.0 1120.9,301.3 1124.9,297.6 1128.9,294.0 1132.9,290.3 1136.9,286.7 1140.9,283.2 1144.9,279.6 1148.9,276.1 1152.9,272.6 1156.9,269.2 1160.9,265.7 1164.9,262.4 1168.9,259.0 1172.9,255.7 1176.9,252.4 1180.9,249.2 1184.9,246.0 1188.9,242.8 1192.9,239.7 1196.9,236.6 1200.9,233.5 1204.9,230.4 1208.9,227.4 1212.9,224.4 1216.9,221.4 1220.9,218.4 1224.9,215.5 1228.9,212.6 1232.9,209.7 1236.9,206.9 1240.9,204.1 1245.0,201.3 1249.0,198.7 1253.0,196.0 1257.0,193.4 1261.0,190.8 1265.0,188.3 1269.0,185.8 1273.0,183.3 1277.0,180.9 1281.0,178.5 1285.0,176.1 1289.0,173.8 1293.0,171.5 1297.0,169.3 1301.0,167.0 1305.0,164.8 1309.0,162.7 1313.0,160.5 1317.0,158.5 1321.0,156.4 1325.0,154.4 1329.0,152.4 1333.0,150.4 1337.0,148.5 1341.0,146.6 1345.0,144.8 1349.0,143.0 1353.0,141.2 1357.0,139.4 1361.0,137.7 1365.0,136.0 1369.0,134.3 1373.0,132.7 1377.0,131.0 1381.0,129.5 1385.0,127.9 1389.0,126.4 1393.0,124.9 1397.0,123.4 1401.0,122.0 1405.0,120.7 1409.0,119.3 1413.0,118.0 1417.0,116.8 1421.0,115.5 1425.0,114.4 1429.0,113.2 1433.0,112.1 1437.0,111.0 1441.0,109.9 1445.0,108.9 1449.0,107.9 1453.0,107.0 1457.0,106.1 1461.0,105.2 1465.0,104.4 1469.0,103.6 1473.0,102.9 1477.0,102.3 1481.0,101.7 1485.0,101.1 1489.0,100.6 1493.0,100.2 1497.0,99.8 1501.0,99.5 1505.0,99.3 1509.0,99.1 1513.0,99.0 1517.0,98.9 1521.0,98.9 1525.0,98.9 1529.0,99.0 1533.0,99.1 1537.0,99.3 1541.0,99.5 1545.0,99.8 1549.0,100.1 1553.0,100.5 1557.0,100.9 1561.0,101.4 1565.1,101.9 1569.1,102.5 1573.1,103.1 1577.1,103.8 1581.1,104.6 1585.1,105.5 1589.1,106.4 1593.1,107.3 1597.1,108.4 1601.1,109.5 1605.1,110.7 1609.1,112.0 1613.1,113.3 1617.1,114.7 1621.1,116.2 1625.1,117.8 1629.1,119.5 1633.1,121.2 1637.1,123.0 1641.1,124.8 1645.1,126.7 1649.1,128.7 1653.1,130.7 1657.1,132.8 1661.1,134.9 1665.1,137.1 1669.1,139.3 1673.1,141.5 1677.1,143.7 1681.1,146.0 1685.1,148.3 1689.1,150.6 1693.1,153.0 1697.1,155.3 1701.1,157.7 1705.1,160.1 1709.1,162.4 1713.1,164.8 1717.1,167.2 1721.1,169.6 1725.1,172.1" fill="none" stroke="#5A342A" stroke-width="4.06" stroke-linecap="square" stroke-linejoin="round" stroke-opacity="0.32"/>
<polyline points="1084.9,335.7 1088.9,331.5 1092.9,327.4 1096.9,323.3 1100.9,319.3 1104.9,315.4 1108.9,311.5 1112.9,307.6 1116.9,303.8 1120.9,300.0 1124.9,296.2 1128.9,292.5 1132.9,288.9 1136.9,285.2 1140.9,281.6 1144.9,278.0 1148.9,274.5 1152.9,271.0 1156.9,267.6 1160.9,264.2 1164.9,260.8 1168.9,257.5 1172.9,254.3 1176.9,251.0 1180.9,247.8 1184.9,244.7 1188.9,241.5 1192.9,238.4 1196.9,235.3 1200.9,232.2 1204.9,229.2 1208.9,226.1 1212.9,223.1 1216.9,220.1 1220.9,217.1 1224.9,214.2 1228.9,211.2 1232.9,208.3 1236.9,205.5 1240.9,202.7 1245.0,199.9 1249.0,197.2 1253.0,194.5 1257.0,191.9 1261.0,189.3 1265.0,186.8 1269.0,184.3 1273.0,181.8 1277.0,179.5 1281.0,177.1 1285.0,174.8 1289.0,172.5 1293.0,170.3 1297.0,168.1 1301.0,166.0 1305.0,163.9 1309.0,161.8 1313.0,159.7 1317.0,157.7 1321.0,155.7 1325.0,153.8 1329.0,151.9 1333.0,149.9 1337.0,148.1 1341.0,146.2 1345.0,144.4 1349.0,142.5 1353.0,140.7 1357.0,139.0 1361.0,137.2 1365.0,135.4 1369.0,133.7 1373.0,132.0 1377.0,130.3 1381.0,128.7 1385.0,127.1 1389.0,125.5 1393.0,123.9 1397.0,122.4 1401.0,121.0 1405.0,119.6 1409.0,118.2 1413.0,116.9 1417.0,115.7 1421.0,114.5 1425.0,113.3 1429.0,112.2 1433.0,111.2 1437.0,110.2 1441.0,109.2 1445.0,108.2 1449.0,107.3 1453.0,106.4 1457.0,105.6 1461.0,104.8 1465.0,104.0 1469.0,103.3 1473.0,102.6 1477.0,102.0 1481.0,101.4 1485.0,100.8 1489.0,100.3 1493.0,99.8 1497.0,99.4 1501.0,99.1 1505.0,98.8 1509.0,98.5 1513.0,98.3 1517.0,98.1 1521.0,98.1 1525.0,98.0 1529.0,98.1 1533.0,98.1 1537.0,98.3 1541.0,98.5 1545.0,98.8 1549.0,99.2 1553.0,99.6 1557.0,100.1 1561.0,100.7 1565.1,101.3 1569.1,102.0 1573.1,102.8 1577.1,103.6 1581.1,104.5 1585.1,105.5 1589.1,106.5 1593.1,107.6 1597.1,108.7 1601.1,109.9 1605.1,111.2 1609.1,112.5 1613.1,113.9 1617.1,115.3 1621.1,116.8 1625.1,118.4 1629.1,119.9 1633.1,121.6 1637.1,123.3 1641.1,125.0 1645.1,126.8 1649.1,128.6 1653.1,130.5 1657.1,132.5 1661.1,134.4 1665.1,136.5 1669.1,138.5 1673.1,140.7 1677.1,142.8 1681.1,145.0 1685.1,147.3 1689.1,149.5 1693.1,151.9 1697.1,154.2 1701.1,156.6 1705.1,158.9 1709.1,161.4 1713.1,163.8 1717.1,166.2 1721.1,168.7 1725.1,171.1" fill="none" stroke="#5A342A" stroke-width="4.06" stroke-linecap="square" stroke-linejoin="round" stroke-opacity="0.32"/>
<polyline points="1084.9,335.0 1088.9,330.8 1092.9,326.6 1096.9,322.5 1100.9,318.5 1104.9,314.5 1108.9,310.6 1112.9,306.7 1116.9,302.8 1120.9,299.0 1124.9,295.3 1128.9,291.5 1132.9,287.8 1136.9,284.2 1140.9,280.6 1144.9,277.0 1148.9,273.5 1152.9,270.0 1156.9,266.5 1160.9,263.1 1164.9,259.8 1168.9,256.5 1172.9,253.2 1176.9,250.0 1180.9,246.8 1184.9,243.6 1188.9,240.5 1192.9,237.4 1196.9,234.3 1200.9,231.2 1204.9,228.1 1208.9,225.1 1212.9,222.0 1216.9,219.0 1220.9,216.0 1224.9,213.0 1228.9,210.1 1232.9,207.2 1236.9,204.3 1240.9,201.4 1245.0,198.6 1249.0,195.9 1253.0,193.2 1257.0,190.6 1261.0,188.0 1265.0,185.4 1269.0,182.9 1273.0,180.4 1277.0,178.0 1281.0,175.7 1285.0,173.3 1289.0,171.1 1293.0,168.8 1297.0,166.6 1301.0,164.4 1305.0,162.3 1309.0,160.2 1313.0,158.2 1317.0,156.1 1321.0,154.1 1325.0,152.2 1329.0,150.2 1333.0,148.3 1337.0,146.5 1341.0,144.6 1345.0,142.8 1349.0,141.0 1353.0,139.2 1357.0,137.5 1361.0,135.7 1365.0,134.0 1369.0,132.3 1373.0,130.7 1377.0,129.1 1381.0,127.5 1385.0,125.9 1389.0,124.4 1393.0,122.9 1397.0,121.5 1401.0,120.1 1405.0,118.7 1409.0,117.5 1413.0,116.2 1417.0,115.0 1421.0,113.9 1425.0,112.8 1429.0,111.8 1433.0,110.8 1437.0,109.9 1441.0,108.9 1445.0,108.1 1449.0,107.2 1453.0,106.4 1457.0,105.6 1461.0,104.8 1465.0,104.1 1469.0,103.4 1473.0,102.8 1477.0,102.2 1481.0,101.6 1485.0,101.1 1489.0,100.6 1493.0,100.2 1497.0,99.8 1501.0,99.4 1505.0,99.1 1509.0,98.9 1513.0,98.7 1517.0,98.5 1521.0,98.5 1525.0,98.4 1529.0,98.4 1533.0,98.5 1537.0,98.6 1541.0,98.8 1545.0,99.1 1549.0,99.4 1553.0,99.8 1557.0,100.3 1561.0,100.8 1565.1,101.4 1569.1,102.0 1573.1,102.7 1577.1,103.5 1581.1,104.3 1585.1,105.2 1589.1,106.2 1593.1,107.2 1597.1,108.2 1601.1,109.4 1605.1,110.5 1609.1,111.8 1613.1,113.1 1617.1,114.4 1621.1,115.8 1625.1,117.3 1629.1,118.8 1633.1,120.4 1637.1,122.0 1641.1,123.7 1645.1,125.4 1649.1,127.2 1653.1,129.0 1657.1,130.9 1661.1,132.9 1665.1,134.9 1669.1,136.9 1673.1,139.0 1677.1,141.2 1681.1,143.4 1685.1,145.6 1689.1,147.9 1693.1,150.2 1697.1,152.5 1701.1,154.9 1705.1,157.3 1709.1,159.7 1713.1,162.1 1717.1,164.6 1721.1,167.1 1725.1,169.5" fill="none" stroke="#5A342A" stroke-width="4.06" stroke-linecap="square" stroke-linejoin="round" stroke-opacity="0.32"/>
<polyline points="1084.9,334.1 1088.9,329.8 1092.9,325.6 1096.9,321.5 1100.9,317.3 1104.9,313.3 1108.9,309.3 1112.9,305.4 1116.9,301.4 1120.9,297.6 1124.9,293.8 1128.9,290.0 1132.9,286.3 1136.9,282.6 1140.9,278.9 1144.9,275.3 1148.9,271.8 1152.9,268.3 1156.9,264.8 1160.9,261.4 1164.9,258.1 1168.9,254.8 1172.9,251.5 1176.9,248.3 1180.9,245.1 1184.9,241.9 1188.9,238.8 1192.9,235.7 1196.9,232.6 1200.9,229.5 1204.9,226.4 1208.9,223.4 1212.9,220.3 1216.9,217.3 1220.9,214.3 1224.9,211.4 1228.9,208.5 1232.9,205.6 1236.9,202.7 1240.9,199.9 1245.0,197.1 1249.0,194.4 1253.0,191.7 1257.0,189.1 1261.0,186.6 1265.0,184.0 1269.0,181.6 1273.0,179.1 1277.0,176.8 1281.0,174.4 1285.0,172.1 1289.0,169.8 1293.0,167.6 1297.0,165.4 1301.0,163.3 1305.0,161.2 1309.0,159.1 1313.0,157.0 1317.0,155.0 1321.0,153.0 1325.0,151.0 1329.0,149.0 1333.0,147.1 1337.0,145.2 1341.0,143.4 1345.0,141.5 1349.0,139.7 1353.0,138.0 1357.0,136.2 1361.0,134.5 1365.0,132.8 1369.0,131.2 1373.0,129.5 1377.0,127.9 1381.0,126.4 1385.0,124.8 1389.0,123.3 1393.0,121.9 1397.0,120.5 1401.0,119.1 1405.0,117.8 1409.0,116.5 1413.0,115.3 1417.0,114.1 1421.0,113.0 1425.0,111.9 1429.0,110.9 1433.0,109.9 1437.0,109.0 1441.0,108.1 1445.0,107.2 1449.0,106.3 1453.0,105.5 1457.0,104.7 1461.0,104.0 1465.0,103.2 1469.0,102.6 1473.0,101.9 1477.0,101.3 1481.0,100.7 1485.0,100.2 1489.0,99.8 1493.0,99.4 1497.0,99.0 1501.0,98.7 1505.0,98.5 1509.0,98.3 1513.0,98.1 1517.0,98.0 1521.0,98.0 1525.0,98.0 1529.0,98.1 1533.0,98.2 1537.0,98.4 1541.0,98.7 1545.0,99.0 1549.0,99.4 1553.0,99.8 1557.0,100.3 1561.0,100.9 1565.1,101.5 1569.1,102.2 1573.1,102.9 1577.1,103.6 1581.1,104.5 1585.1,105.4 1589.1,106.3 1593.1,107.3 1597.1,108.3 1601.1,109.4 1605.1,110.5 1609.1,111.7 1613.1,113.0 1617.1,114.3 1621.1,115.7 1625.1,117.1 1629.1,118.6 1633.1,120.1 1637.1,121.7 1641.1,123.3 1645.1,125.0 1649.1,126.8 1653.1,128.6 1657.1,130.5 1661.1,132.4 1665.1,134.3 1669.1,136.3 1673.1,138.4 1677.1,140.5 1681.1,142.6 1685.1,144.8 1689.1,147.0 1693.1,149.3 1697.1,151.5 1701.1,153.8 1705.1,156.1 1709.1,158.4 1713.1,160.8 1717.1,163.1 1721.1,165.4 1725.1,167.8" fill="none" stroke="#5A342A" stroke-width="4.06" stroke-linecap="square" stroke-linejoin="round" stroke-opacity="0.32"/>
<polyline points="1084.9,333.5 1088.9,329.2 1092.9,324.9 1096.9,320.7 1100.9,316.5 1104.9,312.4 1108.9,308.3 1112.9,304.3 1116.9,300.3 1120.9,296.4 1124.9,292.5 1128.9,288.7 1132.9,284.9 1136.9,281.1 1140.9,277.4 1144.9,273.8 1148.9,270.2 1152.9,266.7 1156.9,263.2 1160.9,259.7 1164.9,256.4 1168.9,253.0 1172.9,249.7 1176.9,246.5 1180.9,243.3 1184.9,240.1 1188.9,236.9 1192.9,233.8 1196.9,230.7 1200.9,227.6 1204.9,224.5 1208.9,221.4 1212.9,218.3 1216.9,215.3 1220.9,212.3 1224.9,209.3 1228.9,206.4 1232.9,203.4 1236.9,200.6 1240.9,197.7 1245.0,194.9 1249.0,192.2 1253.0,189.5 1257.0,186.9 1261.0,184.3 1265.0,181.8 1269.0,179.3 1273.0,176.9 1277.0,174.6 1281.0,172.2 1285.0,170.0 1289.0,167.7 1293.0,165.5 1297.0,163.4 1301.0,161.3 1305.0,159.2 1309.0,157.2 1313.0,155.2 1317.0,153.2 1321.0,151.3 1325.0,149.3 1329.0,147.5 1333.0,145.6 1337.0,143.8 1341.0,142.0 1345.0,140.3 1349.0,138.6 1353.0,136.9 1357.0,135.2 1361.0,133.6 1365.0,132.0 1369.0,130.4 1373.0,128.8 1377.0,127.3 1381.0,125.8 1385.0,124.3 1389.0,122.8 1393.0,121.4 1397.0,120.1 1401.0,118.7 1405.0,117.4 1409.0,116.2 1413.0,115.0 1417.0,113.9 1421.0,112.8 1425.0,111.8 1429.0,110.8 1433.0,109.8 1437.0,108.9 1441.0,108.0 1445.0,107.1 1449.0,106.3 1453.0,105.5 1457.0,104.7 1461.0,103.9 1465.0,103.2 1469.0,102.5 1473.0,101.8 1477.0,101.2 1481.0,100.6 1485.0,100.1 1489.0,99.6 1493.0,99.1 1497.0,98.7 1501.0,98.4 1505.0,98.1 1509.0,97.8 1513.0,97.6 1517.0,97.4 1521.0,97.3 1525.0,97.3 1529.0,97.3 1533.0,97.4 1537.0,97.5 1541.0,97.7 1545.0,98.0 1549.0,98.3 1553.0,98.7 1557.0,99.2 1561.0,99.7 1565.1,100.3 1569.1,100.9 1573.1,101.6 1577.1,102.4 1581.1,103.2 1585.1,104.1 1589.1,105.0 1593.1,106.0 1597.1,107.1 1601.1,108.2 1605.1,109.3 1609.1,110.6 1613.1,111.8 1617.1,113.2 1621.1,114.5 1625.1,116.0 1629.1,117.5 1633.1,119.0 1637.1,120.7 1641.1,122.3 1645.1,124.1 1649.1,125.8 1653.1,127.7 1657.1,129.6 1661.1,131.5 1665.1,133.5 1669.1,135.5 1673.1,137.6 1677.1,139.7 1681.1,141.9 1685.1,144.0 1689.1,146.3 1693.1,148.5 1697.1,150.8 1701.1,153.1 1705.1,155.4 1709.1,157.8 1713.1,160.1 1717.1,162.4 1721.1,164.8 1725.1,167.1" fill="none" stroke="#5A342A" stroke-width="4.06" stroke-linecap="square" stroke-linejoin="round" stroke-opacity="0.32"/>
<polyline points="1084.9,332.5 1088.9,328.1 1092.9,323.7 1096.9,319.4 1100.9,315.2 1104.9,311.0 1108.9,306.9 1112.9,302.8 1116.9,298.8 1120.9,294.8 1124.9,290.9 1128.9,287.0 1132.9,283.2 1136.9,279.3 1140.9,275.6 1144.9,271.9 1148.9,268.2 1152.9,264.6 1156.9,261.1 1160.9,257.6 1164.9,254.2 1168.9,250.9 1172.9,247.6 1176.9,244.3 1180.9,241.1 1184.9,237.9 1188.9,234.7 1192.9,231.6 1196.9,228.5 1200.9,225.4 1204.9,222.4 1208.9,219.4 1212.9,216.4 1216.9,213.4 1220.9,210.5 1224.9,207.6 1228.9,204.7 1232.9,201.8 1236.9,199.0 1240.9,196.3 1245.0,193.5 1249.0,190.9 1253.0,188.2 1257.0,185.7 1261.0,183.1 1265.0,180.6 1269.0,178.2 1273.0,175.8 1277.0,173.4 1281.0,171.1 1285.0,168.8 1289.0,166.5 1293.0,164.3 1297.0,162.1 1301.0,160.0 1305.0,157.8 1309.0,155.8 1313.0,153.7 1317.0,151.7 1321.0,149.7 1325.0,147.8 1329.0,145.9 1333.0,144.0 1337.0,142.2 1341.0,140.5 1345.0,138.8 1349.0,137.1 1353.0,135.5 1357.0,133.9 1361.0,132.3 1365.0,130.7 1369.0,129.2 1373.0,127.7 1377.0,126.2 1381.0,124.8 1385.0,123.4 1389.0,121.9 1393.0,120.6 1397.0,119.2 1401.0,117.9 1405.0,116.5 1409.0,115.3 1413.0,114.1 1417.0,112.9 1421.0,111.7 1425.0,110.6 1429.0,109.5 1433.0,108.5 1437.0,107.5 1441.0,106.5 1445.0,105.6 1449.0,104.7 1453.0,103.8 1457.0,103.0 1461.0,102.3 1465.0,101.5 1469.0,100.8 1473.0,100.2 1477.0,99.7 1481.0,99.1 1485.0,98.7 1489.0,98.3 1493.0,98.0 1497.0,97.7 1501.0,97.5 1505.0,97.4 1509.0,97.2 1513.0,97.2 1517.0,97.2 1521.0,97.2 1525.0,97.3 1529.0,97.4 1533.0,97.6 1537.0,97.8 1541.0,98.1 1545.0,98.4 1549.0,98.7 1553.0,99.1 1557.0,99.5 1561.0,100.0 1565.1,100.6 1569.1,101.2 1573.1,101.8 1577.1,102.5 1581.1,103.3 1585.1,104.1 1589.1,105.0 1593.1,105.9 1597.1,106.9 1601.1,108.0 1605.1,109.1 1609.1,110.3 1613.1,111.6 1617.1,112.9 1621.1,114.4 1625.1,115.8 1629.1,117.4 1633.1,119.0 1637.1,120.7 1641.1,122.4 1645.1,124.2 1649.1,126.0 1653.1,127.9 1657.1,129.7 1661.1,131.7 1665.1,133.6 1669.1,135.6 1673.1,137.6 1677.1,139.6 1681.1,141.6 1685.1,143.6 1689.1,145.7 1693.1,147.7 1697.1,149.8 1701.1,151.9 1705.1,153.9 1709.1,156.0 1713.1,158.1 1717.1,160.2 1721.1,162.3 1725.1,164.4" fill="none" stroke="#5A342A" stroke-width="4.06" stroke-linecap="square" stroke-linejoin="round" stroke-opacity="0.32"/>
<polyline points="1084.9,338.1 1088.9,334.0 1092.9,329.9 1096.9,325.8 1100.9,321.9 1104.9,317.9 1108.9,314.0 1112.9,310.2 1116.9,306.4 1120.9,302.6 1124.9,298.9 1128.9,295.2 1132.9,291.5 1136.9,287.9 1140.9,284.3 1144.9,280.7 1148.9,277.2 1152.9,273.7 1156.9,270.2 1160.9,266.8 1164.9,263.4 1168.9,260.1 1172.9,256.8 1176.9,253.6 1180.9,250.4 1184.9,247.2 1188.9,244.1 1192.9,241.0 1196.9,237.9 1200.9,234.8 1204.9,231.8 1208.9,228.8 1212.9,225.8 1216.9,222.8 1220.9,219.8 1224.9,216.9 1228.9,214.0 1232.9,211.1 1236.9,208.3 1240.9,205.5 1245.0,202.7 1249.0,200.0 1253.0,197.3 1257.0,194.7 1261.0,192.1 1265.0,189.5 1269.0,187.0 1273.0,184.6 1277.0,182.1 1281.0,179.7 1285.0,177.4 1289.0,175.1 1293.0,172.8 1297.0,170.6 1301.0,168.4 1305.0,166.2 1309.0,164.1 1313.0,162.0 1317.0,159.9 1321.0,157.9 1325.0,155.9 1329.0,153.9 1333.0,152.0 1337.0,150.1 1341.0,148.2 1345.0,146.4 1349.0,144.6 1353.0,142.8 1357.0,141.0 1361.0,139.2 1365.0,137.5 1369.0,135.8 1373.0,134.1 1377.0,132.5 1381.0,130.8 1385.0,129.2 1389.0,127.6 1393.0,126.1 1397.0,124.6 1401.0,123.1 1405.0,121.7 1409.0,120.3 1413.0,119.0 1417.0,117.7 1421.0,116.4 1425.0,115.2 1429.0,114.0 1433.0,112.9 1437.0,111.8 1441.0,110.7 1445.0,109.7 1449.0,108.7 1453.0,107.7 1457.0,106.8 1461.0,105.9 1465.0,105.0 1469.0,104.2 1473.0,103.4 1477.0,102.6 1481.0,101.9 1485.0,101.2 1489.0,100.6 1493.0,99.9 1497.0,99.4 1501.0,98.8 1505.0,98.3 1509.0,97.8 1513.0,97.3 1517.0,96.9 1521.0,96.4 1525.0,96.0 1529.0,95.6 1533.0,95.2 1537.0,94.9 1541.0,94.5 1545.0,94.2 1549.0,93.9 1553.0,93.6 1557.0,93.3 1561.0,93.0 1565.1,92.7 1569.1,92.5 1573.1,92.2 1577.1,92.0 1581.1,91.7 1585.1,91.5 1589.1,91.3 1593.1,91.1 1597.1,90.9 1601.1,90.7 1605.1,90.5 1609.1,90.4 1613.1,90.2 1617.1,90.0 1621.1,89.9 1625.1,89.7 1629.1,89.6 1633.1,89.4 1637.1,89.3 1641.1,89.2 1645.1,89.1 1649.1,88.9 1653.1,88.8 1657.1,88.7 1661.1,88.6 1665.1,88.5 1669.1,88.4 1673.1,88.2 1677.1,88.1 1681.1,88.0 1685.1,87.9 1689.1,87.9 1693.1,87.8 1697.1,87.7 1701.1,87.6 1705.1,87.5 1709.1,87.4 1713.1,87.4 1717.1,87.3 1721.1,87.2 1725.1,87.2" fill="none" stroke="#000" stroke-width="4.06" stroke-linecap="square" stroke-linejoin="round"/>
<polyline points="1084.9,339.6 1088.9,335.5 1092.9,331.5 1096.9,327.5 1100.9,323.5 1104.9,319.7 1108.9,315.8 1112.9,312.0 1116.9,308.3 1120.9,304.5 1124.9,300.9 1128.9,297.2 1132.9,293.6 1136.9,290.0 1140.9,286.5 1144.9,283.0 1148.9,279.5 1152.9,276.1 1156.9,272.7 1160.9,269.4 1164.9,266.1 1168.9,262.9 1172.9,259.7 1176.9,256.5 1180.9,253.4 1184.9,250.4 1188.9,247.3 1192.9,244.3 1196.9,241.3 1200.9,238.4 1204.9,235.5 1208.9,232.5 1212.9,229.7 1216.9,226.8 1220.9,224.0 1224.9,221.2 1228.9,218.4 1232.9,215.7 1236.9,213.0 1240.9,210.3 1245.0,207.7 1249.0,205.2 1253.0,202.7 1257.0,200.2 1261.0,197.8 1265.0,195.5 1269.0,193.2 1273.0,190.9 1277.0,188.7 1281.0,186.5 1285.0,184.4 1289.0,182.4 1293.0,180.3 1297.0,178.3 1301.0,176.4 1305.0,174.5 1309.0,172.7 1313.0,170.9 1317.0,169.1 1321.0,167.4 1325.0,165.7 1329.0,164.1 1333.0,162.5 1337.0,161.0 1341.0,159.5 1345.0,158.1 1349.0,156.6 1353.0,155.3 1357.0,153.9 1361.0,152.6 1365.0,151.4 1369.0,150.1 1373.0,148.9 1377.0,147.8 1381.0,146.7 1385.0,145.6 1389.0,144.6 1393.0,143.6 1397.0,142.7 1401.0,141.9 1405.0,141.1 1409.0,140.3 1413.0,139.7 1417.0,139.1 1421.0,138.6 1425.0,138.1 1429.0,137.7 1433.0,137.3 1437.0,137.0 1441.0,136.8 1445.0,136.6 1449.0,136.5 1453.0,136.5 1457.0,136.5 1461.0,136.6 1465.0,136.7 1469.0,136.9 1473.0,137.2 1477.0,137.5 1481.0,137.9 1485.0,138.4 1489.0,138.9 1493.0,139.5 1497.0,140.2 1501.0,140.9 1505.0,141.7 1509.0,142.6 1513.0,143.5 1517.0,144.5 1521.0,145.5 1525.0,146.6 1529.0,147.8 1533.0,149.0 1537.0,150.2 1541.0,151.5 1545.0,152.9 1549.0,154.3 1553.0,155.8 1557.0,157.3 1561.0,158.9 1565.1,160.5 1569.1,162.2 1573.1,163.9 1577.1,165.7 1581.1,167.5 1585.1,169.4 1589.1,171.4 1593.1,173.4 1597.1,175.4 1601.1,177.5 1605.1,179.6 1609.1,181.8 1613.1,184.1 1617.1,186.4 1621.1,188.7 1625.1,191.1 1629.1,193.5 1633.1,196.0 1637.1,198.5 1641.1,201.1 1645.1,203.7 1649.1,206.4 1653.1,209.1 1657.1,211.8 1661.1,214.6 1665.1,217.5 1669.1,220.3 1673.1,223.3 1677.1,226.2 1681.1,229.2 1685.1,232.3 1689.1,235.3 1693.1,238.5 1697.1,241.6 1701.1,244.8 1705.1,248.1 1709.1,251.4 1713.1,254.7 1717.1,258.0 1721.1,261.4 1725.1,264.8" fill="none" stroke="#000" stroke-width="4.3" stroke-linecap="butt" stroke-linejoin="round" stroke-dasharray="4.6 6.16"/>
<line x1="159.30" y1="67.70" x2="159.30" y2="488.30" stroke="#000" stroke-width="3.4" stroke-linecap="butt" />
<line x1="157.60" y1="486.80" x2="865.30" y2="486.80" stroke="#000" stroke-width="3.4" stroke-linecap="butt" />
<line x1="144.80" y1="486.80" x2="159.30" y2="486.80" stroke="#000" stroke-width="3.4" stroke-linecap="butt" />
<text x="131.00" y="498.30" font-size="32.4" text-anchor="end" fill="#000" >0</text>
<line x1="144.80" y1="416.14" x2="159.30" y2="416.14" stroke="#000" stroke-width="3.4" stroke-linecap="butt" />
<text x="131.00" y="427.64" font-size="32.4" text-anchor="end" fill="#000" >10</text>
<line x1="144.80" y1="345.48" x2="159.30" y2="345.48" stroke="#000" stroke-width="3.4" stroke-linecap="butt" />
<text x="131.00" y="356.98" font-size="32.4" text-anchor="end" fill="#000" >20</text>
<line x1="144.80" y1="274.82" x2="159.30" y2="274.82" stroke="#000" stroke-width="3.4" stroke-linecap="butt" />
<text x="131.00" y="286.32" font-size="32.4" text-anchor="end" fill="#000" >30</text>
<line x1="144.80" y1="204.16" x2="159.30" y2="204.16" stroke="#000" stroke-width="3.4" stroke-linecap="butt" />
<text x="131.00" y="215.66" font-size="32.4" text-anchor="end" fill="#000" >40</text>
<line x1="144.80" y1="133.50" x2="159.30" y2="133.50" stroke="#000" stroke-width="3.4" stroke-linecap="butt" />
<text x="131.00" y="145.00" font-size="32.4" text-anchor="end" fill="#000" >50</text>
<line x1="191.10" y1="486.80" x2="191.10" y2="501.30" stroke="#000" stroke-width="3.4" stroke-linecap="butt" />
<line x1="351.30" y1="486.80" x2="351.30" y2="501.30" stroke="#000" stroke-width="3.4" stroke-linecap="butt" />
<line x1="511.50" y1="486.80" x2="511.50" y2="501.30" stroke="#000" stroke-width="3.4" stroke-linecap="butt" />
<line x1="671.70" y1="486.80" x2="671.70" y2="501.30" stroke="#000" stroke-width="3.4" stroke-linecap="butt" />
<line x1="831.90" y1="486.80" x2="831.90" y2="501.30" stroke="#000" stroke-width="3.4" stroke-linecap="butt" />
<line x1="303.07" y1="486.80" x2="303.07" y2="495.00" stroke="#000" stroke-width="2.4" stroke-linecap="butt" />
<line x1="274.87" y1="486.80" x2="274.87" y2="495.00" stroke="#000" stroke-width="2.4" stroke-linecap="butt" />
<line x1="254.85" y1="486.80" x2="254.85" y2="495.00" stroke="#000" stroke-width="2.4" stroke-linecap="butt" />
<line x1="239.33" y1="486.80" x2="239.33" y2="495.00" stroke="#000" stroke-width="2.4" stroke-linecap="butt" />
<line x1="226.64" y1="486.80" x2="226.64" y2="495.00" stroke="#000" stroke-width="2.4" stroke-linecap="butt" />
<line x1="215.92" y1="486.80" x2="215.92" y2="495.00" stroke="#000" stroke-width="2.4" stroke-linecap="butt" />
<line x1="206.62" y1="486.80" x2="206.62" y2="495.00" stroke="#000" stroke-width="2.4" stroke-linecap="butt" />
<line x1="198.43" y1="486.80" x2="198.43" y2="495.00" stroke="#000" stroke-width="2.4" stroke-linecap="butt" />
<line x1="463.27" y1="486.80" x2="463.27" y2="495.00" stroke="#000" stroke-width="2.4" stroke-linecap="butt" />
<line x1="435.07" y1="486.80" x2="435.07" y2="495.00" stroke="#000" stroke-width="2.4" stroke-linecap="butt" />
<line x1="415.05" y1="486.80" x2="415.05" y2="495.00" stroke="#000" stroke-width="2.4" stroke-linecap="butt" />
<line x1="399.53" y1="486.80" x2="399.53" y2="495.00" stroke="#000" stroke-width="2.4" stroke-linecap="butt" />
<line x1="386.84" y1="486.80" x2="386.84" y2="495.00" stroke="#000" stroke-width="2.4" stroke-linecap="butt" />
<line x1="376.12" y1="486.80" x2="376.12" y2="495.00" stroke="#000" stroke-width="2.4" stroke-linecap="butt" />
<line x1="366.82" y1="486.80" x2="366.82" y2="495.00" stroke="#000" stroke-width="2.4" stroke-linecap="butt" />
<line x1="358.63" y1="486.80" x2="358.63" y2="495.00" stroke="#000" stroke-width="2.4" stroke-linecap="butt" />
<line x1="623.47" y1="486.80" x2="623.47" y2="495.00" stroke="#000" stroke-width="2.4" stroke-linecap="butt" />
<line x1="595.27" y1="486.80" x2="595.27" y2="495.00" stroke="#000" stroke-width="2.4" stroke-linecap="butt" />
<line x1="575.25" y1="486.80" x2="575.25" y2="495.00" stroke="#000" stroke-width="2.4" stroke-linecap="butt" />
<line x1="559.73" y1="486.80" x2="559.73" y2="495.00" stroke="#000" stroke-width="2.4" stroke-linecap="butt" />
<line x1="547.04" y1="486.80" x2="547.04" y2="495.00" stroke="#000" stroke-width="2.4" stroke-linecap="butt" />
<line x1="536.32" y1="486.80" x2="536.32" y2="495.00" stroke="#000" stroke-width="2.4" stroke-linecap="butt" />
<line x1="527.02" y1="486.80" x2="527.02" y2="495.00" stroke="#000" stroke-width="2.4" stroke-linecap="butt" />
<line x1="518.83" y1="486.80" x2="518.83" y2="495.00" stroke="#000" stroke-width="2.4" stroke-linecap="butt" />
<line x1="783.67" y1="486.80" x2="783.67" y2="495.00" stroke="#000" stroke-width="2.4" stroke-linecap="butt" />
<line x1="755.47" y1="486.80" x2="755.47" y2="495.00" stroke="#000" stroke-width="2.4" stroke-linecap="butt" />
<line x1="735.45" y1="486.80" x2="735.45" y2="495.00" stroke="#000" stroke-width="2.4" stroke-linecap="butt" />
<line x1="719.93" y1="486.80" x2="719.93" y2="495.00" stroke="#000" stroke-width="2.4" stroke-linecap="butt" />
<line x1="707.24" y1="486.80" x2="707.24" y2="495.00" stroke="#000" stroke-width="2.4" stroke-linecap="butt" />
<line x1="696.52" y1="486.80" x2="696.52" y2="495.00" stroke="#000" stroke-width="2.4" stroke-linecap="butt" />
<line x1="687.22" y1="486.80" x2="687.22" y2="495.00" stroke="#000" stroke-width="2.4" stroke-linecap="butt" />
<line x1="679.03" y1="486.80" x2="679.03" y2="495.00" stroke="#000" stroke-width="2.4" stroke-linecap="butt" />
<line x1="856.72" y1="486.80" x2="856.72" y2="495.00" stroke="#000" stroke-width="2.4" stroke-linecap="butt" />
<line x1="847.42" y1="486.80" x2="847.42" y2="495.00" stroke="#000" stroke-width="2.4" stroke-linecap="butt" />
<line x1="839.23" y1="486.80" x2="839.23" y2="495.00" stroke="#000" stroke-width="2.4" stroke-linecap="butt" />
<text x="191.10" y="533.80" font-size="24.3" text-anchor="middle" fill="#000" >0</text>
<text x="351.30" y="533.80" font-size="24.3" text-anchor="middle" fill="#000" >0.9</text>
<text x="511.50" y="533.80" font-size="24.3" text-anchor="middle" fill="#000" >0.99</text>
<text x="671.70" y="533.80" font-size="24.3" text-anchor="middle" fill="#000" >0.999</text>
<text x="831.90" y="533.80" font-size="24.3" text-anchor="middle" fill="#000" >0.9999</text>
<text x="509.40" y="579.70" font-size="32.4" text-anchor="middle" fill="#000" >branching parameter <tspan font-style="italic">λ</tspan></text>
<line x1="1053.10" y1="67.70" x2="1053.10" y2="488.30" stroke="#000" stroke-width="3.4" stroke-linecap="butt" />
<line x1="1051.40" y1="486.80" x2="1758.70" y2="486.80" stroke="#000" stroke-width="3.4" stroke-linecap="butt" />
<line x1="1038.60" y1="486.80" x2="1053.10" y2="486.80" stroke="#000" stroke-width="3.4" stroke-linecap="butt" />
<text x="1025.00" y="498.30" font-size="32.4" text-anchor="end" fill="#000" >0</text>
<line x1="1038.60" y1="360.25" x2="1053.10" y2="360.25" stroke="#000" stroke-width="3.4" stroke-linecap="butt" />
<text x="1025.00" y="371.75" font-size="32.4" text-anchor="end" fill="#000" >10</text>
<line x1="1038.60" y1="233.70" x2="1053.10" y2="233.70" stroke="#000" stroke-width="3.4" stroke-linecap="butt" />
<text x="1025.00" y="245.20" font-size="32.4" text-anchor="end" fill="#000" >20</text>
<line x1="1038.60" y1="107.15" x2="1053.10" y2="107.15" stroke="#000" stroke-width="3.4" stroke-linecap="butt" />
<text x="1025.00" y="118.65" font-size="32.4" text-anchor="end" fill="#000" >30</text>
<line x1="1084.90" y1="486.80" x2="1084.90" y2="501.30" stroke="#000" stroke-width="3.4" stroke-linecap="butt" />
<line x1="1244.95" y1="486.80" x2="1244.95" y2="501.30" stroke="#000" stroke-width="3.4" stroke-linecap="butt" />
<line x1="1405.00" y1="486.80" x2="1405.00" y2="501.30" stroke="#000" stroke-width="3.4" stroke-linecap="butt" />
<line x1="1565.05" y1="486.80" x2="1565.05" y2="501.30" stroke="#000" stroke-width="3.4" stroke-linecap="butt" />
<line x1="1725.10" y1="486.80" x2="1725.10" y2="501.30" stroke="#000" stroke-width="3.4" stroke-linecap="butt" />
<line x1="1196.77" y1="486.80" x2="1196.77" y2="495.00" stroke="#000" stroke-width="2.4" stroke-linecap="butt" />
<line x1="1168.59" y1="486.80" x2="1168.59" y2="495.00" stroke="#000" stroke-width="2.4" stroke-linecap="butt" />
<line x1="1148.59" y1="486.80" x2="1148.59" y2="495.00" stroke="#000" stroke-width="2.4" stroke-linecap="butt" />
<line x1="1133.08" y1="486.80" x2="1133.08" y2="495.00" stroke="#000" stroke-width="2.4" stroke-linecap="butt" />
<line x1="1120.41" y1="486.80" x2="1120.41" y2="495.00" stroke="#000" stroke-width="2.4" stroke-linecap="butt" />
<line x1="1109.69" y1="486.80" x2="1109.69" y2="495.00" stroke="#000" stroke-width="2.4" stroke-linecap="butt" />
<line x1="1100.41" y1="486.80" x2="1100.41" y2="495.00" stroke="#000" stroke-width="2.4" stroke-linecap="butt" />
<line x1="1092.22" y1="486.80" x2="1092.22" y2="495.00" stroke="#000" stroke-width="2.4" stroke-linecap="butt" />
<line x1="1356.82" y1="486.80" x2="1356.82" y2="495.00" stroke="#000" stroke-width="2.4" stroke-linecap="butt" />
<line x1="1328.64" y1="486.80" x2="1328.64" y2="495.00" stroke="#000" stroke-width="2.4" stroke-linecap="butt" />
<line x1="1308.64" y1="486.80" x2="1308.64" y2="495.00" stroke="#000" stroke-width="2.4" stroke-linecap="butt" />
<line x1="1293.13" y1="486.80" x2="1293.13" y2="495.00" stroke="#000" stroke-width="2.4" stroke-linecap="butt" />
<line x1="1280.46" y1="486.80" x2="1280.46" y2="495.00" stroke="#000" stroke-width="2.4" stroke-linecap="butt" />
<line x1="1269.74" y1="486.80" x2="1269.74" y2="495.00" stroke="#000" stroke-width="2.4" stroke-linecap="butt" />
<line x1="1260.46" y1="486.80" x2="1260.46" y2="495.00" stroke="#000" stroke-width="2.4" stroke-linecap="butt" />
<line x1="1252.27" y1="486.80" x2="1252.27" y2="495.00" stroke="#000" stroke-width="2.4" stroke-linecap="butt" />
<line x1="1516.87" y1="486.80" x2="1516.87" y2="495.00" stroke="#000" stroke-width="2.4" stroke-linecap="butt" />
<line x1="1488.69" y1="486.80" x2="1488.69" y2="495.00" stroke="#000" stroke-width="2.4" stroke-linecap="butt" />
<line x1="1468.69" y1="486.80" x2="1468.69" y2="495.00" stroke="#000" stroke-width="2.4" stroke-linecap="butt" />
<line x1="1453.18" y1="486.80" x2="1453.18" y2="495.00" stroke="#000" stroke-width="2.4" stroke-linecap="butt" />
<line x1="1440.51" y1="486.80" x2="1440.51" y2="495.00" stroke="#000" stroke-width="2.4" stroke-linecap="butt" />
<line x1="1429.79" y1="486.80" x2="1429.79" y2="495.00" stroke="#000" stroke-width="2.4" stroke-linecap="butt" />
<line x1="1420.51" y1="486.80" x2="1420.51" y2="495.00" stroke="#000" stroke-width="2.4" stroke-linecap="butt" />
<line x1="1412.32" y1="486.80" x2="1412.32" y2="495.00" stroke="#000" stroke-width="2.4" stroke-linecap="butt" />
<line x1="1676.92" y1="486.80" x2="1676.92" y2="495.00" stroke="#000" stroke-width="2.4" stroke-linecap="butt" />
<line x1="1648.74" y1="486.80" x2="1648.74" y2="495.00" stroke="#000" stroke-width="2.4" stroke-linecap="butt" />
<line x1="1628.74" y1="486.80" x2="1628.74" y2="495.00" stroke="#000" stroke-width="2.4" stroke-linecap="butt" />
<line x1="1613.23" y1="486.80" x2="1613.23" y2="495.00" stroke="#000" stroke-width="2.4" stroke-linecap="butt" />
<line x1="1600.56" y1="486.80" x2="1600.56" y2="495.00" stroke="#000" stroke-width="2.4" stroke-linecap="butt" />
<line x1="1589.84" y1="486.80" x2="1589.84" y2="495.00" stroke="#000" stroke-width="2.4" stroke-linecap="butt" />
<line x1="1580.56" y1="486.80" x2="1580.56" y2="495.00" stroke="#000" stroke-width="2.4" stroke-linecap="butt" />
<line x1="1572.37" y1="486.80" x2="1572.37" y2="495.00" stroke="#000" stroke-width="2.4" stroke-linecap="butt" />
<line x1="1749.89" y1="486.80" x2="1749.89" y2="495.00" stroke="#000" stroke-width="2.4" stroke-linecap="butt" />
<line x1="1740.61" y1="486.80" x2="1740.61" y2="495.00" stroke="#000" stroke-width="2.4" stroke-linecap="butt" />
<line x1="1732.42" y1="486.80" x2="1732.42" y2="495.00" stroke="#000" stroke-width="2.4" stroke-linecap="butt" />
<text x="1084.90" y="533.80" font-size="24.3" text-anchor="middle" fill="#000" >0</text>
<text x="1244.95" y="533.80" font-size="24.3" text-anchor="middle" fill="#000" >0.9</text>
<text x="1405.00" y="533.80" font-size="24.3" text-anchor="middle" fill="#000" >0.99</text>
<text x="1565.05" y="533.80" font-size="24.3" text-anchor="middle" fill="#000" >0.999</text>
<text x="1725.10" y="533.80" font-size="24.3" text-anchor="middle" fill="#000" >0.9999</text>
<text x="1403.70" y="579.70" font-size="32.4" text-anchor="middle" fill="#000" >branching parameter <tspan font-style="italic">λ</tspan></text>
<text x="18.60" y="48.80" font-size="48.6" text-anchor="start" fill="#000" font-weight="bold">a</text>
<text x="912.00" y="49.30" font-size="48.6" text-anchor="start" fill="#000" font-weight="bold">b</text>
<text x="24.50" y="277.20" font-size="32.4" text-anchor="middle" fill="#000" transform="rotate(-90 24.50 277.20)" letter-spacing="0.3">number of</text>
<text x="62.20" y="273.30" font-size="32.4" text-anchor="middle" fill="#000" transform="rotate(-90 62.20 273.30)" >discriminable inputs <tspan font-style="italic">n</tspan><tspan font-style="italic" font-size="22.7" dy="5.5">d</tspan></text>
<text x="956.30" y="280.20" font-size="32.4" text-anchor="middle" fill="#000" transform="rotate(-90 956.30 280.20)" >dynamic range Δ</text>
<polygon points="424.9,88.2 444.1,88.8 463.3,90.0 482.5,92.0 501.7,92.5 520.9,92.5 540.2,91.5 559.4,89.5 578.6,88.0 597.8,86.0 617.0,83.6 636.2,83.0 655.4,79.8 674.6,73.5 693.8,72.6 713.0,70.6 732.3,64.8 751.5,65.3 770.7,59.0 789.9,52.3 809.1,56.1 809.1,67.1 789.9,78.4 770.7,77.8 751.5,77.8 732.3,83.6 713.0,83.6 693.8,87.1 674.6,92.9 655.4,91.4 636.2,92.3 617.0,96.6 597.8,99.5 578.6,101.0 559.4,102.5 540.2,104.5 520.9,106.5 501.7,107.2 482.5,107.6 463.3,108.0 444.1,108.3 424.9,108.5" fill="#d9d9d9"/>
<line x1="424.90" y1="87.10" x2="424.90" y2="108.80" stroke="#FEF1A6" stroke-width="6.1" stroke-linecap="butt" />
<line x1="520.95" y1="91.10" x2="520.95" y2="107.30" stroke="#FBD958" stroke-width="6.1" stroke-linecap="butt" />
<line x1="617.00" y1="83.30" x2="617.00" y2="98.70" stroke="#EE9238" stroke-width="6.1" stroke-linecap="butt" />
<line x1="713.05" y1="69.10" x2="713.05" y2="85.00" stroke="#D9501E" stroke-width="6.1" stroke-linecap="butt" />
<line x1="809.10" y1="54.60" x2="809.10" y2="67.70" stroke="#5A342A" stroke-width="6.1" stroke-linecap="butt" />
<line x1="405.70" y1="18.00" x2="405.70" y2="112.50" stroke="#808080" stroke-width="3.2" stroke-linecap="butt" />
<line x1="404.10" y1="110.90" x2="830.00" y2="110.90" stroke="#808080" stroke-width="3.2" stroke-linecap="butt" />
<line x1="391.20" y1="110.90" x2="405.70" y2="110.90" stroke="#808080" stroke-width="3.2" stroke-linecap="butt" />
<line x1="391.20" y1="65.20" x2="405.70" y2="65.20" stroke="#808080" stroke-width="3.2" stroke-linecap="butt" />
<line x1="391.20" y1="19.50" x2="405.70" y2="19.50" stroke="#808080" stroke-width="3.2" stroke-linecap="butt" />
<line x1="397.50" y1="78.96" x2="405.70" y2="78.96" stroke="#808080" stroke-width="2.4" stroke-linecap="butt" />
<line x1="397.50" y1="87.00" x2="405.70" y2="87.00" stroke="#808080" stroke-width="2.4" stroke-linecap="butt" />
<line x1="397.50" y1="92.71" x2="405.70" y2="92.71" stroke="#808080" stroke-width="2.4" stroke-linecap="butt" />
<line x1="397.50" y1="97.14" x2="405.70" y2="97.14" stroke="#808080" stroke-width="2.4" stroke-linecap="butt" />
<line x1="397.50" y1="100.76" x2="405.70" y2="100.76" stroke="#808080" stroke-width="2.4" stroke-linecap="butt" />
<line x1="397.50" y1="103.82" x2="405.70" y2="103.82" stroke="#808080" stroke-width="2.4" stroke-linecap="butt" />
<line x1="397.50" y1="106.47" x2="405.70" y2="106.47" stroke="#808080" stroke-width="2.4" stroke-linecap="butt" />
<line x1="397.50" y1="108.81" x2="405.70" y2="108.81" stroke="#808080" stroke-width="2.4" stroke-linecap="butt" />
<line x1="397.50" y1="33.26" x2="405.70" y2="33.26" stroke="#808080" stroke-width="2.4" stroke-linecap="butt" />
<line x1="397.50" y1="41.30" x2="405.70" y2="41.30" stroke="#808080" stroke-width="2.4" stroke-linecap="butt" />
<line x1="397.50" y1="47.01" x2="405.70" y2="47.01" stroke="#808080" stroke-width="2.4" stroke-linecap="butt" />
<line x1="397.50" y1="51.44" x2="405.70" y2="51.44" stroke="#808080" stroke-width="2.4" stroke-linecap="butt" />
<line x1="397.50" y1="55.06" x2="405.70" y2="55.06" stroke="#808080" stroke-width="2.4" stroke-linecap="butt" />
<line x1="397.50" y1="58.12" x2="405.70" y2="58.12" stroke="#808080" stroke-width="2.4" stroke-linecap="butt" />
<line x1="397.50" y1="60.77" x2="405.70" y2="60.77" stroke="#808080" stroke-width="2.4" stroke-linecap="butt" />
<line x1="397.50" y1="63.11" x2="405.70" y2="63.11" stroke="#808080" stroke-width="2.4" stroke-linecap="butt" />
<text x="377.30" y="123.10" font-size="32.4" text-anchor="end" fill="#808080" >0.9</text>
<text x="377.30" y="77.40" font-size="32.4" text-anchor="end" fill="#808080" >0.99</text>
<text x="377.30" y="31.70" font-size="32.4" text-anchor="end" fill="#808080" >0.999</text>
<line x1="424.90" y1="110.90" x2="424.90" y2="125.40" stroke="#808080" stroke-width="3.2" stroke-linecap="butt" />
<text x="424.00" y="160.90" font-size="24.3" text-anchor="middle" fill="#808080" >10<tspan font-size="17.01" dy="-8.75">0</tspan></text>
<line x1="520.95" y1="110.90" x2="520.95" y2="125.40" stroke="#808080" stroke-width="3.2" stroke-linecap="butt" />
<text x="520.05" y="160.90" font-size="24.3" text-anchor="middle" fill="#808080" >10<tspan font-size="17.01" dy="-8.75">1</tspan></text>
<line x1="617.00" y1="110.90" x2="617.00" y2="125.40" stroke="#808080" stroke-width="3.2" stroke-linecap="butt" />
<text x="616.10" y="160.90" font-size="24.3" text-anchor="middle" fill="#808080" >10<tspan font-size="17.01" dy="-8.75">2</tspan></text>
<line x1="713.05" y1="110.90" x2="713.05" y2="125.40" stroke="#808080" stroke-width="3.2" stroke-linecap="butt" />
<text x="712.15" y="160.90" font-size="24.3" text-anchor="middle" fill="#808080" >10<tspan font-size="17.01" dy="-8.75">3</tspan></text>
<line x1="809.10" y1="110.90" x2="809.10" y2="125.40" stroke="#808080" stroke-width="3.2" stroke-linecap="butt" />
<text x="808.20" y="160.90" font-size="24.3" text-anchor="middle" fill="#808080" >10<tspan font-size="17.01" dy="-8.75">4</tspan></text>
<line x1="410.02" y1="110.90" x2="410.02" y2="119.10" stroke="#808080" stroke-width="2.4" stroke-linecap="butt" />
<line x1="415.59" y1="110.90" x2="415.59" y2="119.10" stroke="#808080" stroke-width="2.4" stroke-linecap="butt" />
<line x1="420.50" y1="110.90" x2="420.50" y2="119.10" stroke="#808080" stroke-width="2.4" stroke-linecap="butt" />
<line x1="453.81" y1="110.90" x2="453.81" y2="119.10" stroke="#808080" stroke-width="2.4" stroke-linecap="butt" />
<line x1="470.73" y1="110.90" x2="470.73" y2="119.10" stroke="#808080" stroke-width="2.4" stroke-linecap="butt" />
<line x1="482.73" y1="110.90" x2="482.73" y2="119.10" stroke="#808080" stroke-width="2.4" stroke-linecap="butt" />
<line x1="492.04" y1="110.90" x2="492.04" y2="119.10" stroke="#808080" stroke-width="2.4" stroke-linecap="butt" />
<line x1="499.64" y1="110.90" x2="499.64" y2="119.10" stroke="#808080" stroke-width="2.4" stroke-linecap="butt" />
<line x1="506.07" y1="110.90" x2="506.07" y2="119.10" stroke="#808080" stroke-width="2.4" stroke-linecap="butt" />
<line x1="511.64" y1="110.90" x2="511.64" y2="119.10" stroke="#808080" stroke-width="2.4" stroke-linecap="butt" />
<line x1="516.55" y1="110.90" x2="516.55" y2="119.10" stroke="#808080" stroke-width="2.4" stroke-linecap="butt" />
<line x1="549.86" y1="110.90" x2="549.86" y2="119.10" stroke="#808080" stroke-width="2.4" stroke-linecap="butt" />
<line x1="566.78" y1="110.90" x2="566.78" y2="119.10" stroke="#808080" stroke-width="2.4" stroke-linecap="butt" />
<line x1="578.78" y1="110.90" x2="578.78" y2="119.10" stroke="#808080" stroke-width="2.4" stroke-linecap="butt" />
<line x1="588.09" y1="110.90" x2="588.09" y2="119.10" stroke="#808080" stroke-width="2.4" stroke-linecap="butt" />
<line x1="595.69" y1="110.90" x2="595.69" y2="119.10" stroke="#808080" stroke-width="2.4" stroke-linecap="butt" />
<line x1="602.12" y1="110.90" x2="602.12" y2="119.10" stroke="#808080" stroke-width="2.4" stroke-linecap="butt" />
<line x1="607.69" y1="110.90" x2="607.69" y2="119.10" stroke="#808080" stroke-width="2.4" stroke-linecap="butt" />
<line x1="612.60" y1="110.90" x2="612.60" y2="119.10" stroke="#808080" stroke-width="2.4" stroke-linecap="butt" />
<line x1="645.91" y1="110.90" x2="645.91" y2="119.10" stroke="#808080" stroke-width="2.4" stroke-linecap="butt" />
<line x1="662.83" y1="110.90" x2="662.83" y2="119.10" stroke="#808080" stroke-width="2.4" stroke-linecap="butt" />
<line x1="674.83" y1="110.90" x2="674.83" y2="119.10" stroke="#808080" stroke-width="2.4" stroke-linecap="butt" />
<line x1="684.14" y1="110.90" x2="684.14" y2="119.10" stroke="#808080" stroke-width="2.4" stroke-linecap="butt" />
<line x1="691.74" y1="110.90" x2="691.74" y2="119.10" stroke="#808080" stroke-width="2.4" stroke-linecap="butt" />
<line x1="698.17" y1="110.90" x2="698.17" y2="119.10" stroke="#808080" stroke-width="2.4" stroke-linecap="butt" />
<line x1="703.74" y1="110.90" x2="703.74" y2="119.10" stroke="#808080" stroke-width="2.4" stroke-linecap="butt" />
<line x1="708.65" y1="110.90" x2="708.65" y2="119.10" stroke="#808080" stroke-width="2.4" stroke-linecap="butt" />
<line x1="741.96" y1="110.90" x2="741.96" y2="119.10" stroke="#808080" stroke-width="2.4" stroke-linecap="butt" />
<line x1="758.88" y1="110.90" x2="758.88" y2="119.10" stroke="#808080" stroke-width="2.4" stroke-linecap="butt" />
<line x1="770.88" y1="110.90" x2="770.88" y2="119.10" stroke="#808080" stroke-width="2.4" stroke-linecap="butt" />
<line x1="780.19" y1="110.90" x2="780.19" y2="119.10" stroke="#808080" stroke-width="2.4" stroke-linecap="butt" />
<line x1="787.79" y1="110.90" x2="787.79" y2="119.10" stroke="#808080" stroke-width="2.4" stroke-linecap="butt" />
<line x1="794.22" y1="110.90" x2="794.22" y2="119.10" stroke="#808080" stroke-width="2.4" stroke-linecap="butt" />
<line x1="799.79" y1="110.90" x2="799.79" y2="119.10" stroke="#808080" stroke-width="2.4" stroke-linecap="butt" />
<line x1="804.70" y1="110.90" x2="804.70" y2="119.10" stroke="#808080" stroke-width="2.4" stroke-linecap="butt" />
<text x="616.35" y="189.20" font-size="32.4" text-anchor="middle" fill="#808080" >integration timescale <tspan font-style="italic">T</tspan></text>
<text x="279.70" y="69.40" font-size="32.4" text-anchor="middle" fill="#808080" transform="rotate(-90 279.70 69.40)" ><tspan font-style="italic">λ</tspan><tspan font-size="22.7" dy="-13" dx="6.5">∗</tspan></text>
<polyline points="1318.4,345.0 1323.2,345.1 1328.0,345.1 1332.8,345.2 1337.6,345.3 1342.4,345.3 1347.2,345.4 1352.0,345.4 1356.8,345.5 1361.6,345.5 1366.5,345.6 1371.3,345.7 1376.1,345.7 1380.9,345.8 1385.7,345.9 1390.5,345.9 1395.3,346.0 1400.1,346.0 1404.9,346.1 1409.7,346.1 1414.5,346.1 1419.3,346.1 1424.1,346.1 1428.9,346.1 1433.7,346.1 1438.5,346.1 1443.3,346.1 1448.1,346.1 1452.9,346.1 1457.7,346.1 1462.6,346.0 1467.4,345.9 1472.2,345.7 1477.0,345.6 1481.8,345.4 1486.6,345.2 1491.4,345.0 1496.2,344.8 1501.0,344.6 1505.8,344.3 1510.6,344.0 1515.4,343.6 1520.2,343.2 1525.0,342.7 1529.8,342.1 1534.6,341.4 1539.4,340.8 1544.2,340.1 1549.0,339.3 1553.8,338.6 1558.7,337.9 1563.5,337.2 1568.3,336.4 1573.1,335.6 1577.9,334.8 1582.7,334.0 1587.5,333.1 1592.3,332.2 1597.1,331.3 1601.9,330.4 1606.7,329.4 1611.5,328.4 1616.3,327.3 1621.1,326.2 1625.9,325.1 1630.7,323.9 1635.5,322.8 1640.3,321.6 1645.1,320.3 1649.9,319.1 1654.8,317.9 1659.6,316.7 1664.4,315.4 1669.2,314.2 1674.0,312.9 1678.8,311.6 1683.6,310.3 1688.4,309.0 1693.2,307.7 1698.0,306.4 1702.8,305.0" fill="none" stroke="#d9d9d9" stroke-width="6.4" stroke-linecap="round" stroke-linejoin="round"/>
<circle cx="1318.4" cy="345.0" r="8.3" fill="#FEF1A6"/>
<circle cx="1414.5" cy="346.1" r="8.3" fill="#FBD958"/>
<circle cx="1510.6" cy="344.0" r="8.3" fill="#EE9238"/>
<circle cx="1606.7" cy="329.4" r="8.3" fill="#D9501E"/>
<circle cx="1702.8" cy="305.0" r="8.3" fill="#5A342A"/>
<line x1="1298.80" y1="280.90" x2="1298.80" y2="375.30" stroke="#808080" stroke-width="3.2" stroke-linecap="butt" />
<line x1="1297.20" y1="373.70" x2="1723.90" y2="373.70" stroke="#808080" stroke-width="3.2" stroke-linecap="butt" />
<line x1="1284.30" y1="373.70" x2="1298.80" y2="373.70" stroke="#808080" stroke-width="3.2" stroke-linecap="butt" />
<line x1="1284.30" y1="282.50" x2="1298.80" y2="282.50" stroke="#808080" stroke-width="3.2" stroke-linecap="butt" />
<line x1="1290.60" y1="309.95" x2="1298.80" y2="309.95" stroke="#808080" stroke-width="2.4" stroke-linecap="butt" />
<line x1="1290.60" y1="326.01" x2="1298.80" y2="326.01" stroke="#808080" stroke-width="2.4" stroke-linecap="butt" />
<line x1="1290.60" y1="337.41" x2="1298.80" y2="337.41" stroke="#808080" stroke-width="2.4" stroke-linecap="butt" />
<line x1="1290.60" y1="346.25" x2="1298.80" y2="346.25" stroke="#808080" stroke-width="2.4" stroke-linecap="butt" />
<line x1="1290.60" y1="353.47" x2="1298.80" y2="353.47" stroke="#808080" stroke-width="2.4" stroke-linecap="butt" />
<line x1="1290.60" y1="359.57" x2="1298.80" y2="359.57" stroke="#808080" stroke-width="2.4" stroke-linecap="butt" />
<line x1="1290.60" y1="364.86" x2="1298.80" y2="364.86" stroke="#808080" stroke-width="2.4" stroke-linecap="butt" />
<line x1="1290.60" y1="369.53" x2="1298.80" y2="369.53" stroke="#808080" stroke-width="2.4" stroke-linecap="butt" />
<text x="1271.00" y="385.90" font-size="32.4" text-anchor="end" fill="#808080" >0.99</text>
<text x="1271.00" y="294.70" font-size="32.4" text-anchor="end" fill="#808080" >0.999</text>
<line x1="1318.40" y1="373.70" x2="1318.40" y2="388.20" stroke="#808080" stroke-width="3.2" stroke-linecap="butt" />
<text x="1317.50" y="423.70" font-size="24.3" text-anchor="middle" fill="#808080" >10<tspan font-size="17.01" dy="-8.75">0</tspan></text>
<line x1="1414.50" y1="373.70" x2="1414.50" y2="388.20" stroke="#808080" stroke-width="3.2" stroke-linecap="butt" />
<text x="1413.60" y="423.70" font-size="24.3" text-anchor="middle" fill="#808080" >10<tspan font-size="17.01" dy="-8.75">1</tspan></text>
<line x1="1510.60" y1="373.70" x2="1510.60" y2="388.20" stroke="#808080" stroke-width="3.2" stroke-linecap="butt" />
<text x="1509.70" y="423.70" font-size="24.3" text-anchor="middle" fill="#808080" >10<tspan font-size="17.01" dy="-8.75">2</tspan></text>
<line x1="1606.70" y1="373.70" x2="1606.70" y2="388.20" stroke="#808080" stroke-width="3.2" stroke-linecap="butt" />
<text x="1605.80" y="423.70" font-size="24.3" text-anchor="middle" fill="#808080" >10<tspan font-size="17.01" dy="-8.75">3</tspan></text>
<line x1="1702.80" y1="373.70" x2="1702.80" y2="388.20" stroke="#808080" stroke-width="3.2" stroke-linecap="butt" />
<text x="1701.90" y="423.70" font-size="24.3" text-anchor="middle" fill="#808080" >10<tspan font-size="17.01" dy="-8.75">4</tspan></text>
<line x1="1303.51" y1="373.70" x2="1303.51" y2="381.90" stroke="#808080" stroke-width="2.4" stroke-linecap="butt" />
<line x1="1309.09" y1="373.70" x2="1309.09" y2="381.90" stroke="#808080" stroke-width="2.4" stroke-linecap="butt" />
<line x1="1314.00" y1="373.70" x2="1314.00" y2="381.90" stroke="#808080" stroke-width="2.4" stroke-linecap="butt" />
<line x1="1347.33" y1="373.70" x2="1347.33" y2="381.90" stroke="#808080" stroke-width="2.4" stroke-linecap="butt" />
<line x1="1364.25" y1="373.70" x2="1364.25" y2="381.90" stroke="#808080" stroke-width="2.4" stroke-linecap="butt" />
<line x1="1376.26" y1="373.70" x2="1376.26" y2="381.90" stroke="#808080" stroke-width="2.4" stroke-linecap="butt" />
<line x1="1385.57" y1="373.70" x2="1385.57" y2="381.90" stroke="#808080" stroke-width="2.4" stroke-linecap="butt" />
<line x1="1393.18" y1="373.70" x2="1393.18" y2="381.90" stroke="#808080" stroke-width="2.4" stroke-linecap="butt" />
<line x1="1399.61" y1="373.70" x2="1399.61" y2="381.90" stroke="#808080" stroke-width="2.4" stroke-linecap="butt" />
<line x1="1405.19" y1="373.70" x2="1405.19" y2="381.90" stroke="#808080" stroke-width="2.4" stroke-linecap="butt" />
<line x1="1410.10" y1="373.70" x2="1410.10" y2="381.90" stroke="#808080" stroke-width="2.4" stroke-linecap="butt" />
<line x1="1443.43" y1="373.70" x2="1443.43" y2="381.90" stroke="#808080" stroke-width="2.4" stroke-linecap="butt" />
<line x1="1460.35" y1="373.70" x2="1460.35" y2="381.90" stroke="#808080" stroke-width="2.4" stroke-linecap="butt" />
<line x1="1472.36" y1="373.70" x2="1472.36" y2="381.90" stroke="#808080" stroke-width="2.4" stroke-linecap="butt" />
<line x1="1481.67" y1="373.70" x2="1481.67" y2="381.90" stroke="#808080" stroke-width="2.4" stroke-linecap="butt" />
<line x1="1489.28" y1="373.70" x2="1489.28" y2="381.90" stroke="#808080" stroke-width="2.4" stroke-linecap="butt" />
<line x1="1495.71" y1="373.70" x2="1495.71" y2="381.90" stroke="#808080" stroke-width="2.4" stroke-linecap="butt" />
<line x1="1501.29" y1="373.70" x2="1501.29" y2="381.90" stroke="#808080" stroke-width="2.4" stroke-linecap="butt" />
<line x1="1506.20" y1="373.70" x2="1506.20" y2="381.90" stroke="#808080" stroke-width="2.4" stroke-linecap="butt" />
<line x1="1539.53" y1="373.70" x2="1539.53" y2="381.90" stroke="#808080" stroke-width="2.4" stroke-linecap="butt" />
<line x1="1556.45" y1="373.70" x2="1556.45" y2="381.90" stroke="#808080" stroke-width="2.4" stroke-linecap="butt" />
<line x1="1568.46" y1="373.70" x2="1568.46" y2="381.90" stroke="#808080" stroke-width="2.4" stroke-linecap="butt" />
<line x1="1577.77" y1="373.70" x2="1577.77" y2="381.90" stroke="#808080" stroke-width="2.4" stroke-linecap="butt" />
<line x1="1585.38" y1="373.70" x2="1585.38" y2="381.90" stroke="#808080" stroke-width="2.4" stroke-linecap="butt" />
<line x1="1591.81" y1="373.70" x2="1591.81" y2="381.90" stroke="#808080" stroke-width="2.4" stroke-linecap="butt" />
<line x1="1597.39" y1="373.70" x2="1597.39" y2="381.90" stroke="#808080" stroke-width="2.4" stroke-linecap="butt" />
<line x1="1602.30" y1="373.70" x2="1602.30" y2="381.90" stroke="#808080" stroke-width="2.4" stroke-linecap="butt" />
<line x1="1635.63" y1="373.70" x2="1635.63" y2="381.90" stroke="#808080" stroke-width="2.4" stroke-linecap="butt" />
<line x1="1652.55" y1="373.70" x2="1652.55" y2="381.90" stroke="#808080" stroke-width="2.4" stroke-linecap="butt" />
<line x1="1664.56" y1="373.70" x2="1664.56" y2="381.90" stroke="#808080" stroke-width="2.4" stroke-linecap="butt" />
<line x1="1673.87" y1="373.70" x2="1673.87" y2="381.90" stroke="#808080" stroke-width="2.4" stroke-linecap="butt" />
<line x1="1681.48" y1="373.70" x2="1681.48" y2="381.90" stroke="#808080" stroke-width="2.4" stroke-linecap="butt" />
<line x1="1687.91" y1="373.70" x2="1687.91" y2="381.90" stroke="#808080" stroke-width="2.4" stroke-linecap="butt" />
<line x1="1693.49" y1="373.70" x2="1693.49" y2="381.90" stroke="#808080" stroke-width="2.4" stroke-linecap="butt" />
<line x1="1698.40" y1="373.70" x2="1698.40" y2="381.90" stroke="#808080" stroke-width="2.4" stroke-linecap="butt" />
<text x="1509.85" y="452.00" font-size="32.4" text-anchor="middle" fill="#808080" >integration timescale <tspan font-style="italic">T</tspan></text>
<text x="1174.00" y="332.50" font-size="32.4" text-anchor="middle" fill="#808080" transform="rotate(-90 1174.00 332.50)" ><tspan font-style="italic">λ</tspan><tspan font-size="22.7" dy="-13" dx="6.5">∗</tspan></text>
<rect x="1773.6" y="2.4" width="216.1" height="417.3" rx="7" ry="7" fill="#fff" fill-opacity="0.8" stroke="#d6d6d6" stroke-width="4"/>
<text x="1786.50" y="37.20" font-size="32.4" text-anchor="start" fill="#000" >timescale<tspan x="1953.4" font-style="italic">T</tspan></text>
<line x1="1789.20" y1="76.90" x2="1858.60" y2="76.90" stroke="#000" stroke-width="4.06" stroke-linecap="butt" />
<text x="1882.60" y="87.70" font-size="32.4" text-anchor="start" fill="#000" ><tspan font-style="italic">T</tspan><tspan x="1908.6">→</tspan><tspan x="1942.3">∞</tspan></text>
<line x1="1789.20" y1="129.90" x2="1858.60" y2="129.90" stroke="#5A342A" stroke-width="4.06" stroke-linecap="butt" />
<text x="1882.60" y="137.30" font-size="32.4" text-anchor="start" fill="#000" >10<tspan font-size="22.7" dy="-11.7">4</tspan></text>
<line x1="1789.20" y1="182.40" x2="1858.60" y2="182.40" stroke="#D9501E" stroke-width="4.06" stroke-linecap="butt" />
<text x="1882.60" y="190.80" font-size="32.4" text-anchor="start" fill="#000" >10<tspan font-size="22.7" dy="-11.7">3</tspan></text>
<line x1="1789.20" y1="234.90" x2="1858.60" y2="234.90" stroke="#EE9238" stroke-width="4.06" stroke-linecap="butt" />
<text x="1882.60" y="243.40" font-size="32.4" text-anchor="start" fill="#000" >10<tspan font-size="22.7" dy="-11.7">2</tspan></text>
<line x1="1789.20" y1="287.80" x2="1858.60" y2="287.80" stroke="#FBD958" stroke-width="4.06" stroke-linecap="butt" />
<text x="1882.60" y="296.00" font-size="32.4" text-anchor="start" fill="#000" >10<tspan font-size="22.7" dy="-11.7">1</tspan></text>
<line x1="1789.20" y1="340.10" x2="1858.60" y2="340.10" stroke="#FEF1A6" stroke-width="4.06" stroke-linecap="butt" />
<text x="1882.60" y="348.60" font-size="32.4" text-anchor="start" fill="#000" >10<tspan font-size="22.7" dy="-11.7">0</tspan></text>
<line x1="1790.90" y1="387.90" x2="1858.60" y2="387.90" stroke="#000" stroke-width="4.3" stroke-linecap="butt" stroke-dasharray="4.6 6.16"/>
<text x="1882.60" y="398.70" font-size="32.4" text-anchor="start" fill="#000" ><tspan font-style="italic">T</tspan><tspan x="1908.6">→</tspan><tspan x="1941.6">0</tspan></text>
</svg>
</body></html>
